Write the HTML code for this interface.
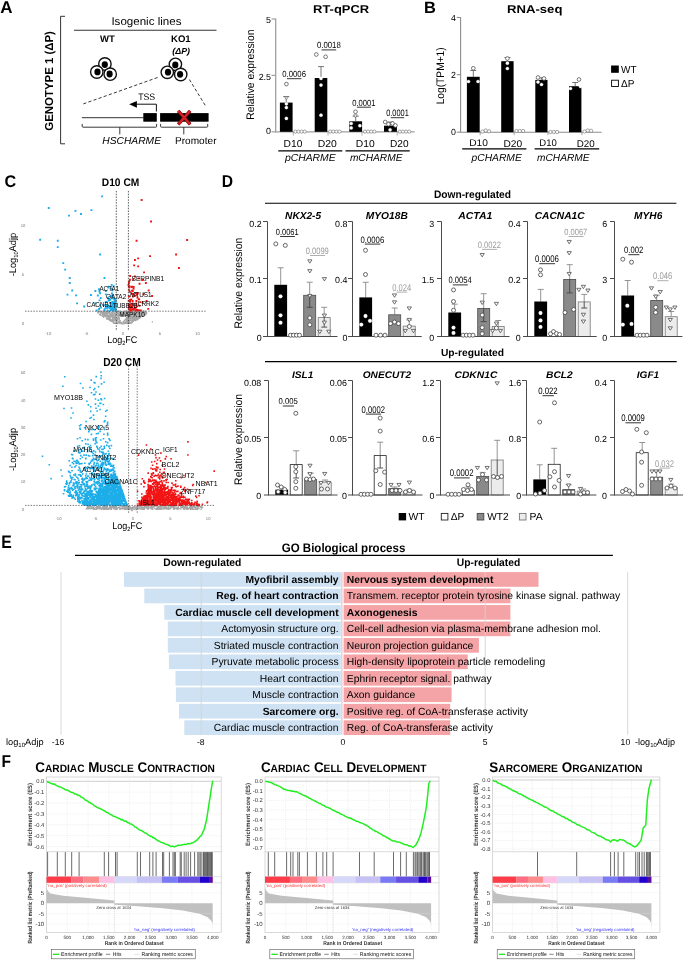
<!DOCTYPE html>
<html><head><meta charset="utf-8"><style>
html,body{margin:0;padding:0;background:#fff;width:685px;height:960px;overflow:hidden}
svg{display:block;font-family:"Liberation Sans",sans-serif;text-rendering:geometricPrecision;filter:blur(0.35px)}
</style></head><body>
<svg width="685" height="960" viewBox="0 0 685 960">
<text x="0.2" y="13.1" font-size="17.04" font-weight="bold" textLength="12.3" lengthAdjust="spacingAndGlyphs">A</text>
<text transform="translate(53.1,80.9) rotate(-90)" x="0" y="0" font-size="11.6" text-anchor="middle" font-weight="bold" textLength="99.6" lengthAdjust="spacingAndGlyphs">GENOTYPE 1 (ΔP)</text>
<path d="M65 16.3H60.6V143.8H65" fill="none" stroke="#333" stroke-width="1"/>
<text x="111.4" y="24.6" font-size="11.14" textLength="70.1" lengthAdjust="spacingAndGlyphs">Isogenic lines</text>
<line x1="74" y1="30.2" x2="216.5" y2="30.2" stroke="#333" stroke-width="1.1"/>
<text x="100" y="42.4" font-size="9.5" font-weight="bold" textLength="14.8" lengthAdjust="spacingAndGlyphs">WT</text>
<text x="171" y="42.4" font-size="9.5" font-weight="bold" textLength="19.7" lengthAdjust="spacingAndGlyphs">KO1</text>
<text x="172.3" y="54.2" font-size="8.8" font-weight="bold" font-style="italic" textLength="17.8" lengthAdjust="spacingAndGlyphs">(Δ<tspan>P</tspan>)</text>
<circle cx="104.9" cy="64" r="6.2" fill="#fff" stroke="#111" stroke-width="1.4"/>
<ellipse cx="104.8" cy="64.6" rx="3.1" ry="3.4" fill="#000"/>
<circle cx="96.8" cy="72" r="6.2" fill="#fff" stroke="#111" stroke-width="1.4"/>
<ellipse cx="97.5" cy="71.9" rx="3.1" ry="3.4" fill="#000"/>
<circle cx="110.2" cy="74.2" r="6.2" fill="#fff" stroke="#111" stroke-width="1.4"/>
<ellipse cx="109.6" cy="74" rx="3.1" ry="3.4" fill="#000"/>
<circle cx="175.4" cy="64.3" r="6.2" fill="#fff" stroke="#111" stroke-width="1.4"/>
<ellipse cx="175.3" cy="64.9" rx="3.1" ry="3.4" fill="#000"/>
<circle cx="167.3" cy="72.3" r="6.2" fill="#fff" stroke="#111" stroke-width="1.4"/>
<ellipse cx="168" cy="72.2" rx="3.1" ry="3.4" fill="#000"/>
<circle cx="180.7" cy="74.5" r="6.2" fill="#fff" stroke="#111" stroke-width="1.4"/>
<ellipse cx="180.1" cy="74.3" rx="3.1" ry="3.4" fill="#000"/>
<line x1="83.3" y1="103.9" x2="159.6" y2="76.8" stroke="#222" stroke-width="0.9" stroke-dasharray="3.2 2.2"/>
<line x1="189.4" y1="79.5" x2="205.3" y2="105.5" stroke="#222" stroke-width="0.9" stroke-dasharray="3.2 2.2"/>
<line x1="81.9" y1="117.7" x2="143.5" y2="117.7" stroke="#333" stroke-width="1"/>
<rect x="143.3" y="113.1" width="13.5" height="8.6" fill="#000"/>
<rect x="160.1" y="113.1" width="48.5" height="8.6" fill="#000"/>
<path d="M156.4 111.5V104.2H136.2" fill="none" stroke="#111" stroke-width="1"/>
<path d="M129.2 104.3L136.9 100.9V107.8Z" fill="#000" stroke="none" stroke-width="1"/>
<text x="138.2" y="100.2" font-size="9.43" textLength="17" lengthAdjust="spacingAndGlyphs">TSS</text>
<path d="M178.2 110.8L190.2 124.4M190.2 110.8L178.2 124.4" fill="none" stroke="#6b0d0d" stroke-width="3.4"/>
<path d="M178.2 110.8L190.2 124.4M190.2 110.8L178.2 124.4" fill="none" stroke="#d61f26" stroke-width="2.2"/>
<path d="M82.2 123.9V126.4Q82.2 127.2 83 127.2H155.8Q156.6 127.2 156.6 126.4V123.9M119.8 127.2V134.4" fill="none" stroke="#222" stroke-width="0.9"/>
<path d="M160.6 123.9V126.4Q160.6 127.2 161.4 127.2H206.9Q207.7 127.2 207.7 126.4V123.9M183.8 127.2V134.4" fill="none" stroke="#222" stroke-width="0.9"/>
<text x="102.3" y="143.6" font-size="10.06" font-style="italic" textLength="58.7" lengthAdjust="spacingAndGlyphs">HSCHARME</text>
<text x="175" y="143.6" font-size="10" textLength="41.5" lengthAdjust="spacingAndGlyphs">Promoter</text>
<text x="313.1" y="13.1" font-size="11.45" font-weight="bold" textLength="56" lengthAdjust="spacingAndGlyphs">RT-qPCR</text>
<line x1="275.7" y1="18.6" x2="275.7" y2="132.4" stroke="#a0a0a0" stroke-width="1.3"/>
<line x1="275.3" y1="131.9" x2="414.7" y2="131.9" stroke="#a0a0a0" stroke-width="1.2"/>
<line x1="271.5" y1="131.8" x2="275.6" y2="131.8" stroke="#a0a0a0" stroke-width="1.2"/>
<text x="271" y="133.7" font-size="8.9" text-anchor="end">0</text>
<line x1="271.5" y1="75.4" x2="275.6" y2="75.4" stroke="#a0a0a0" stroke-width="1.2"/>
<text x="271" y="79.6" font-size="8.9" text-anchor="end">2.5</text>
<line x1="271.5" y1="19" x2="275.6" y2="19" stroke="#a0a0a0" stroke-width="1.2"/>
<text x="271" y="23.2" font-size="8.9" text-anchor="end">5</text>
<text transform="translate(254,74.7) rotate(-90)" x="0" y="0" font-size="10.9" text-anchor="middle" textLength="90.2" lengthAdjust="spacingAndGlyphs">Relative expression</text>
<line x1="293.3" y1="131.8" x2="293.3" y2="135.6" stroke="#a0a0a0" stroke-width="0.8"/>
<line x1="328" y1="131.8" x2="328" y2="135.6" stroke="#a0a0a0" stroke-width="0.8"/>
<line x1="362" y1="131.8" x2="362" y2="135.6" stroke="#a0a0a0" stroke-width="0.8"/>
<line x1="397.2" y1="131.8" x2="397.2" y2="135.6" stroke="#a0a0a0" stroke-width="0.8"/>
<line x1="286.25" y1="102.6" x2="286.25" y2="96.5" stroke="#666" stroke-width="0.9"/>
<line x1="283.25" y1="96.5" x2="289.25" y2="96.5" stroke="#666" stroke-width="0.9"/>
<rect x="279.9" y="102.6" width="12.7" height="29.2" fill="#000"/>
<line x1="321" y1="78" x2="321" y2="66.6" stroke="#666" stroke-width="0.9"/>
<line x1="318" y1="66.6" x2="324" y2="66.6" stroke="#666" stroke-width="0.9"/>
<rect x="314.7" y="78" width="12.6" height="53.8" fill="#000"/>
<line x1="355.7" y1="121.3" x2="355.7" y2="116.2" stroke="#666" stroke-width="0.9"/>
<line x1="352.7" y1="116.2" x2="358.7" y2="116.2" stroke="#666" stroke-width="0.9"/>
<rect x="349.3" y="121.3" width="12.8" height="10.5" fill="#000"/>
<line x1="390.45" y1="125.7" x2="390.45" y2="122" stroke="#666" stroke-width="0.9"/>
<line x1="387.45" y1="122" x2="393.45" y2="122" stroke="#666" stroke-width="0.9"/>
<rect x="384" y="125.7" width="12.9" height="6.1" fill="#000"/>
<circle cx="286.4" cy="103.8" r="1.6" fill="#fff" stroke="#fff" stroke-width="0.3"/>
<circle cx="286.4" cy="107.6" r="1.6" fill="#fff" stroke="#fff" stroke-width="0.3"/>
<circle cx="286.4" cy="118.4" r="1.6" fill="#fff" stroke="#fff" stroke-width="0.3"/>
<circle cx="321" cy="78.4" r="1.6" fill="#fff" stroke="#fff" stroke-width="0.3"/>
<circle cx="321" cy="85.1" r="1.6" fill="#fff" stroke="#fff" stroke-width="0.3"/>
<circle cx="321" cy="115.2" r="1.6" fill="#fff" stroke="#fff" stroke-width="0.3"/>
<circle cx="351.2" cy="123.5" r="1.6" fill="#fff" stroke="#fff" stroke-width="0.3"/>
<circle cx="351.2" cy="127.9" r="1.6" fill="#fff" stroke="#fff" stroke-width="0.3"/>
<circle cx="359.9" cy="125.7" r="1.6" fill="#fff" stroke="#fff" stroke-width="0.3"/>
<circle cx="390.1" cy="129.8" r="1.6" fill="#fff" stroke="#fff" stroke-width="0.3"/>
<circle cx="286.4" cy="84.1" r="1.85" fill="#fff" stroke="#555" stroke-width="0.8"/>
<circle cx="316.3" cy="54.5" r="1.85" fill="#fff" stroke="#555" stroke-width="0.8"/>
<circle cx="325.6" cy="56.8" r="1.85" fill="#fff" stroke="#555" stroke-width="0.8"/>
<circle cx="355.5" cy="111.8" r="1.85" fill="#fff" stroke="#555" stroke-width="0.8"/>
<circle cx="385.2" cy="122" r="1.85" fill="#fff" stroke="#555" stroke-width="0.8"/>
<circle cx="388.4" cy="124.2" r="1.85" fill="#fff" stroke="#555" stroke-width="0.8"/>
<circle cx="392.5" cy="123.5" r="1.85" fill="#fff" stroke="#555" stroke-width="0.8"/>
<circle cx="395.4" cy="125.4" r="1.85" fill="#fff" stroke="#555" stroke-width="0.8"/>
<path d="M284.6 96.85h3.6l-1.8 2.88z" fill="#fff" stroke="#666" stroke-width="0.7"/>
<path d="M353.7 114.85h3.6l-1.8 2.88z" fill="#fff" stroke="#666" stroke-width="0.7"/>
<circle cx="295.4" cy="131.6" r="1.6" fill="#fff" stroke="#777" stroke-width="0.65"/>
<circle cx="298.5" cy="131.6" r="1.6" fill="#fff" stroke="#777" stroke-width="0.65"/>
<circle cx="301.6" cy="131.6" r="1.6" fill="#fff" stroke="#777" stroke-width="0.65"/>
<circle cx="304.7" cy="131.6" r="1.6" fill="#fff" stroke="#777" stroke-width="0.65"/>
<circle cx="330.2" cy="131.6" r="1.6" fill="#fff" stroke="#777" stroke-width="0.65"/>
<circle cx="333.3" cy="131.6" r="1.6" fill="#fff" stroke="#777" stroke-width="0.65"/>
<circle cx="336.4" cy="131.6" r="1.6" fill="#fff" stroke="#777" stroke-width="0.65"/>
<circle cx="339.5" cy="131.6" r="1.6" fill="#fff" stroke="#777" stroke-width="0.65"/>
<circle cx="365" cy="131.6" r="1.6" fill="#fff" stroke="#777" stroke-width="0.65"/>
<circle cx="368.1" cy="131.6" r="1.6" fill="#fff" stroke="#777" stroke-width="0.65"/>
<circle cx="371.2" cy="131.6" r="1.6" fill="#fff" stroke="#777" stroke-width="0.65"/>
<circle cx="374.3" cy="131.6" r="1.6" fill="#fff" stroke="#777" stroke-width="0.65"/>
<circle cx="399.9" cy="131.6" r="1.6" fill="#fff" stroke="#777" stroke-width="0.65"/>
<circle cx="403" cy="131.6" r="1.6" fill="#fff" stroke="#777" stroke-width="0.65"/>
<circle cx="406.1" cy="131.6" r="1.6" fill="#fff" stroke="#777" stroke-width="0.65"/>
<circle cx="409.2" cy="131.6" r="1.6" fill="#fff" stroke="#777" stroke-width="0.65"/>
<text x="282.3" y="77" font-size="8.83" textLength="23.7" lengthAdjust="spacingAndGlyphs">0.0006</text>
<line x1="286.9" y1="78.7" x2="301.4" y2="78.7" stroke="#000" stroke-width="0.8"/>
<text x="316.9" y="48.2" font-size="8.99" textLength="23.9" lengthAdjust="spacingAndGlyphs">0.0018</text>
<line x1="321.5" y1="49.9" x2="336.2" y2="49.9" stroke="#000" stroke-width="0.8"/>
<text x="352.2" y="105.5" font-size="8.99" textLength="23.3" lengthAdjust="spacingAndGlyphs">0.0001</text>
<line x1="356.8" y1="107.2" x2="370.9" y2="107.2" stroke="#000" stroke-width="0.8"/>
<text x="386.2" y="116" font-size="9.33" textLength="22.6" lengthAdjust="spacingAndGlyphs">0.0001</text>
<line x1="390.8" y1="117.7" x2="404.2" y2="117.7" stroke="#000" stroke-width="0.8"/>
<text x="283.6" y="146.8" font-size="10.06" textLength="18.8" lengthAdjust="spacingAndGlyphs">D10</text>
<text x="317.7" y="146.8" font-size="10.06" textLength="19.1" lengthAdjust="spacingAndGlyphs">D20</text>
<text x="355.8" y="146.8" font-size="10.06" textLength="18.9" lengthAdjust="spacingAndGlyphs">D10</text>
<text x="390" y="146.8" font-size="10.06" textLength="18.6" lengthAdjust="spacingAndGlyphs">D20</text>
<line x1="278.3" y1="150.8" x2="342.3" y2="150.8" stroke="#000" stroke-width="1.3"/>
<line x1="345.5" y1="150.8" x2="409.7" y2="150.8" stroke="#000" stroke-width="1.3"/>
<text x="284.9" y="161.4" font-size="10.2" font-style="italic" textLength="50.8" lengthAdjust="spacingAndGlyphs">pCHARME</text>
<text x="349.9" y="161.4" font-size="10.2" font-style="italic" textLength="52.6" lengthAdjust="spacingAndGlyphs">mCHARME</text>
<text x="423.9" y="12.6" font-size="16.2" font-weight="bold" textLength="11.9" lengthAdjust="spacingAndGlyphs">B</text>
<text x="507" y="13.4" font-size="11.45" font-weight="bold" textLength="55.4" lengthAdjust="spacingAndGlyphs">RNA-seq</text>
<line x1="460.6" y1="17.2" x2="460.6" y2="132.6" stroke="#8c8c8c" stroke-width="1.1"/>
<line x1="460.6" y1="132.2" x2="601.6" y2="132.2" stroke="#8c8c8c" stroke-width="1.1"/>
<line x1="456.8" y1="132.2" x2="460.6" y2="132.2" stroke="#8c8c8c" stroke-width="1.1"/>
<text x="456" y="135.4" font-size="8.8" text-anchor="end">0</text>
<line x1="456.8" y1="74.7" x2="460.6" y2="74.7" stroke="#8c8c8c" stroke-width="1.1"/>
<text x="456" y="77.9" font-size="8.8" text-anchor="end">2</text>
<line x1="456.8" y1="17.5" x2="460.6" y2="17.5" stroke="#8c8c8c" stroke-width="1.1"/>
<text x="456" y="20.7" font-size="8.8" text-anchor="end">4</text>
<text transform="translate(444,75.8) rotate(-90)" x="0" y="0" font-size="10.9" text-anchor="middle" textLength="57" lengthAdjust="spacingAndGlyphs">Log(TPM+1)</text>
<line x1="473.3" y1="76.8" x2="473.3" y2="70.5" stroke="#666" stroke-width="0.9"/>
<line x1="470.3" y1="70.5" x2="476.3" y2="70.5" stroke="#666" stroke-width="0.9"/>
<rect x="466.9" y="76.8" width="12.8" height="55.4" fill="#000"/>
<line x1="480.2" y1="132.2" x2="480.2" y2="135.2" stroke="#8c8c8c" stroke-width="0.8"/>
<line x1="507.4" y1="61.2" x2="507.4" y2="57.5" stroke="#666" stroke-width="0.9"/>
<line x1="504.4" y1="57.5" x2="510.4" y2="57.5" stroke="#666" stroke-width="0.9"/>
<rect x="501.2" y="61.2" width="12.4" height="71" fill="#000"/>
<line x1="514.1" y1="132.2" x2="514.1" y2="135.2" stroke="#8c8c8c" stroke-width="0.8"/>
<line x1="541.4" y1="79.9" x2="541.4" y2="77.8" stroke="#666" stroke-width="0.9"/>
<line x1="538.4" y1="77.8" x2="544.4" y2="77.8" stroke="#666" stroke-width="0.9"/>
<rect x="535.3" y="79.9" width="12.2" height="52.3" fill="#000"/>
<line x1="548" y1="132.2" x2="548" y2="135.2" stroke="#8c8c8c" stroke-width="0.8"/>
<line x1="575.2" y1="86.2" x2="575.2" y2="82.5" stroke="#666" stroke-width="0.9"/>
<line x1="572.2" y1="82.5" x2="578.2" y2="82.5" stroke="#666" stroke-width="0.9"/>
<rect x="569" y="86.2" width="12.4" height="46" fill="#000"/>
<line x1="581.9" y1="132.2" x2="581.9" y2="135.2" stroke="#8c8c8c" stroke-width="0.8"/>
<circle cx="468.5" cy="81.5" r="1.6" fill="#fff" stroke="#fff" stroke-width="0.3"/>
<circle cx="478" cy="81.5" r="1.6" fill="#fff" stroke="#fff" stroke-width="0.3"/>
<circle cx="507.4" cy="63.2" r="1.6" fill="#fff" stroke="#fff" stroke-width="0.3"/>
<circle cx="507.4" cy="68.5" r="1.6" fill="#fff" stroke="#fff" stroke-width="0.3"/>
<circle cx="538" cy="82" r="1.6" fill="#fff" stroke="#fff" stroke-width="0.3"/>
<circle cx="541.5" cy="84.5" r="1.6" fill="#fff" stroke="#fff" stroke-width="0.3"/>
<circle cx="570.5" cy="88.5" r="1.6" fill="#fff" stroke="#fff" stroke-width="0.3"/>
<circle cx="580.5" cy="86.5" r="1.6" fill="#fff" stroke="#fff" stroke-width="0.3"/>
<circle cx="473.3" cy="68.3" r="1.85" fill="#fff" stroke="#555" stroke-width="0.8"/>
<circle cx="507.4" cy="58.5" r="1.85" fill="#fff" stroke="#555" stroke-width="0.8"/>
<circle cx="538" cy="77.5" r="1.85" fill="#fff" stroke="#555" stroke-width="0.8"/>
<circle cx="544" cy="78.5" r="1.85" fill="#fff" stroke="#555" stroke-width="0.8"/>
<circle cx="579" cy="79.5" r="1.85" fill="#fff" stroke="#555" stroke-width="0.8"/>
<circle cx="482.5" cy="131.5" r="1.65" fill="#fff" stroke="#777" stroke-width="0.65"/>
<circle cx="485.8" cy="130.5" r="1.65" fill="#fff" stroke="#777" stroke-width="0.65"/>
<circle cx="489.1" cy="131.3" r="1.65" fill="#fff" stroke="#777" stroke-width="0.65"/>
<circle cx="516.5" cy="131" r="1.65" fill="#fff" stroke="#777" stroke-width="0.65"/>
<circle cx="519.8" cy="131" r="1.65" fill="#fff" stroke="#777" stroke-width="0.65"/>
<circle cx="523.1" cy="131" r="1.65" fill="#fff" stroke="#777" stroke-width="0.65"/>
<circle cx="550.5" cy="132" r="1.65" fill="#fff" stroke="#777" stroke-width="0.65"/>
<circle cx="553.8" cy="132" r="1.65" fill="#fff" stroke="#777" stroke-width="0.65"/>
<circle cx="557.1" cy="132" r="1.65" fill="#fff" stroke="#777" stroke-width="0.65"/>
<circle cx="584.5" cy="131.5" r="1.65" fill="#fff" stroke="#777" stroke-width="0.65"/>
<circle cx="587.8" cy="130.5" r="1.65" fill="#fff" stroke="#777" stroke-width="0.65"/>
<circle cx="591.1" cy="130.8" r="1.65" fill="#fff" stroke="#777" stroke-width="0.65"/>
<text x="469.2" y="146.3" font-size="9.64" textLength="18.7" lengthAdjust="spacingAndGlyphs">D10</text>
<text x="503.5" y="147.2" font-size="9.78" textLength="18.7" lengthAdjust="spacingAndGlyphs">D20</text>
<text x="539.3" y="146.3" font-size="9.64" textLength="17.5" lengthAdjust="spacingAndGlyphs">D10</text>
<text x="576.7" y="147.2" font-size="9.78" textLength="18" lengthAdjust="spacingAndGlyphs">D20</text>
<line x1="462.2" y1="148.9" x2="526.4" y2="148.9" stroke="#000" stroke-width="1.3"/>
<line x1="534.6" y1="148.9" x2="599.2" y2="148.9" stroke="#000" stroke-width="1.3"/>
<text x="471.5" y="160.6" font-size="10.2" font-style="italic" textLength="50.3" lengthAdjust="spacingAndGlyphs">pCHARME</text>
<text x="537" y="160.6" font-size="10.2" font-style="italic" textLength="52.5" lengthAdjust="spacingAndGlyphs">mCHARME</text>
<rect x="611.1" y="65.5" width="7.7" height="7.3" fill="#000"/>
<text x="621.1" y="72.8" font-size="10.34" textLength="15.5" lengthAdjust="spacingAndGlyphs">WT</text>
<rect x="611.6" y="80.2" width="6.8" height="6.3" fill="#fff" stroke="#000" stroke-width="0.9"/>
<text x="621.1" y="86.7" font-size="10.06" textLength="13.4" lengthAdjust="spacingAndGlyphs">ΔP</text>
<text x="4.5" y="186.7" font-size="16.9" font-weight="bold" textLength="11.7" lengthAdjust="spacingAndGlyphs">C</text>
<text x="101.8" y="185.6" font-size="11.03" font-weight="bold" textLength="37.5" lengthAdjust="spacingAndGlyphs">D10 CM</text>
<path d="M103.0 316.5h1.3v1.3h-1.3zM141.3 310.7h1.3v1.3h-1.3zM132.5 318.0h1.3v1.3h-1.3zM103.3 312.7h1.3v1.3h-1.3zM133.1 315.8h1.3v1.3h-1.3zM135.9 313.8h1.3v1.3h-1.3zM116.6 321.2h1.3v1.3h-1.3zM151.7 321.2h1.3v1.3h-1.3zM131.0 320.2h1.3v1.3h-1.3zM139.1 311.0h1.3v1.3h-1.3zM131.9 311.0h1.3v1.3h-1.3zM142.0 313.6h1.3v1.3h-1.3zM104.6 314.9h1.3v1.3h-1.3zM104.8 313.0h1.3v1.3h-1.3zM112.1 313.5h1.3v1.3h-1.3zM129.2 314.6h1.3v1.3h-1.3zM145.9 311.9h1.3v1.3h-1.3zM129.4 315.3h1.3v1.3h-1.3zM135.7 312.9h1.3v1.3h-1.3zM128.9 313.5h1.3v1.3h-1.3zM126.6 321.3h1.3v1.3h-1.3zM127.4 311.2h1.3v1.3h-1.3zM134.9 317.5h1.3v1.3h-1.3zM131.4 316.1h1.3v1.3h-1.3zM125.8 319.7h1.3v1.3h-1.3zM130.7 314.7h1.3v1.3h-1.3zM129.7 310.5h1.3v1.3h-1.3zM115.8 319.6h1.3v1.3h-1.3zM119.1 321.1h1.3v1.3h-1.3zM121.7 312.6h1.3v1.3h-1.3zM134.1 312.2h1.3v1.3h-1.3zM103.9 315.4h1.3v1.3h-1.3zM128.1 313.8h1.3v1.3h-1.3zM122.6 321.1h1.3v1.3h-1.3zM102.0 315.7h1.3v1.3h-1.3zM104.8 315.1h1.3v1.3h-1.3zM122.5 313.8h1.3v1.3h-1.3zM136.0 317.3h1.3v1.3h-1.3zM106.3 311.3h1.3v1.3h-1.3zM131.0 315.6h1.3v1.3h-1.3zM134.5 312.1h1.3v1.3h-1.3zM136.3 311.9h1.3v1.3h-1.3zM113.1 319.1h1.3v1.3h-1.3zM130.1 319.9h1.3v1.3h-1.3zM115.1 317.3h1.3v1.3h-1.3zM132.4 312.2h1.3v1.3h-1.3zM113.3 310.5h1.3v1.3h-1.3zM126.0 320.1h1.3v1.3h-1.3zM141.7 311.8h1.3v1.3h-1.3zM141.0 311.3h1.3v1.3h-1.3zM123.9 319.5h1.3v1.3h-1.3zM124.5 313.4h1.3v1.3h-1.3zM131.6 316.7h1.3v1.3h-1.3zM126.6 313.7h1.3v1.3h-1.3zM127.4 312.2h1.3v1.3h-1.3zM117.4 322.7h1.3v1.3h-1.3zM108.3 316.0h1.3v1.3h-1.3zM118.7 320.8h1.3v1.3h-1.3zM121.4 313.8h1.3v1.3h-1.3zM130.3 322.3h1.3v1.3h-1.3zM113.7 318.0h1.3v1.3h-1.3zM137.4 311.1h1.3v1.3h-1.3zM107.1 312.1h1.3v1.3h-1.3zM118.9 314.6h1.3v1.3h-1.3zM124.7 311.6h1.3v1.3h-1.3zM131.1 318.3h1.3v1.3h-1.3zM137.1 313.0h1.3v1.3h-1.3zM134.5 312.0h1.3v1.3h-1.3zM103.0 312.2h1.3v1.3h-1.3zM139.5 313.9h1.3v1.3h-1.3zM102.8 315.7h1.3v1.3h-1.3zM116.9 312.1h1.3v1.3h-1.3zM131.0 315.0h1.3v1.3h-1.3zM123.1 323.1h1.3v1.3h-1.3zM131.6 318.1h1.3v1.3h-1.3zM132.9 317.3h1.3v1.3h-1.3zM107.5 315.0h1.3v1.3h-1.3zM103.7 314.6h1.3v1.3h-1.3zM123.3 322.9h1.3v1.3h-1.3zM121.1 311.7h1.3v1.3h-1.3zM117.9 316.7h1.3v1.3h-1.3zM114.4 313.4h1.3v1.3h-1.3zM126.7 313.3h1.3v1.3h-1.3zM115.9 321.9h1.3v1.3h-1.3zM121.4 323.0h1.3v1.3h-1.3zM124.3 322.5h1.3v1.3h-1.3zM120.9 323.1h1.3v1.3h-1.3zM129.4 311.0h1.3v1.3h-1.3zM120.1 312.2h1.3v1.3h-1.3zM124.6 311.1h1.3v1.3h-1.3zM133.4 315.7h1.3v1.3h-1.3zM128.0 315.2h1.3v1.3h-1.3zM137.6 312.7h1.3v1.3h-1.3zM114.0 313.2h1.3v1.3h-1.3zM126.9 317.6h1.3v1.3h-1.3zM138.8 312.0h1.3v1.3h-1.3zM118.1 318.1h1.3v1.3h-1.3zM125.5 310.4h1.3v1.3h-1.3zM134.0 317.1h1.3v1.3h-1.3zM114.9 316.0h1.3v1.3h-1.3zM113.0 319.8h1.3v1.3h-1.3zM130.6 320.1h1.3v1.3h-1.3zM118.1 313.0h1.3v1.3h-1.3zM111.8 317.0h1.3v1.3h-1.3zM134.5 313.5h1.3v1.3h-1.3zM135.1 313.3h1.3v1.3h-1.3zM113.9 319.5h1.3v1.3h-1.3zM118.9 320.6h1.3v1.3h-1.3zM111.4 314.9h1.3v1.3h-1.3zM114.4 314.4h1.3v1.3h-1.3zM115.8 312.1h1.3v1.3h-1.3zM126.8 311.8h1.3v1.3h-1.3zM106.8 312.4h1.3v1.3h-1.3zM124.2 320.1h1.3v1.3h-1.3zM117.8 311.4h1.3v1.3h-1.3zM104.2 315.3h1.3v1.3h-1.3zM128.1 322.1h1.3v1.3h-1.3zM98.2 311.9h1.3v1.3h-1.3zM105.5 311.9h1.3v1.3h-1.3zM125.9 320.8h1.3v1.3h-1.3zM121.8 312.4h1.3v1.3h-1.3zM101.3 311.5h1.3v1.3h-1.3zM125.0 311.5h1.3v1.3h-1.3zM143.1 310.5h1.3v1.3h-1.3zM136.5 310.7h1.3v1.3h-1.3zM120.9 322.7h1.3v1.3h-1.3zM145.4 313.6h1.3v1.3h-1.3zM117.6 322.2h1.3v1.3h-1.3zM143.4 312.3h1.3v1.3h-1.3zM124.5 311.6h1.3v1.3h-1.3zM111.0 313.7h1.3v1.3h-1.3zM110.6 315.9h1.3v1.3h-1.3zM114.0 319.0h1.3v1.3h-1.3zM115.1 319.3h1.3v1.3h-1.3zM126.9 315.8h1.3v1.3h-1.3zM130.2 313.4h1.3v1.3h-1.3zM125.4 313.5h1.3v1.3h-1.3zM116.1 318.7h1.3v1.3h-1.3zM112.2 320.9h1.3v1.3h-1.3zM100.2 310.7h1.3v1.3h-1.3zM136.0 311.9h1.3v1.3h-1.3zM105.6 311.5h1.3v1.3h-1.3zM117.0 310.4h1.3v1.3h-1.3zM112.2 315.1h1.3v1.3h-1.3zM132.3 310.8h1.3v1.3h-1.3zM123.4 320.4h1.3v1.3h-1.3zM129.9 311.6h1.3v1.3h-1.3zM122.9 311.3h1.3v1.3h-1.3zM144.0 312.1h1.3v1.3h-1.3zM130.9 312.1h1.3v1.3h-1.3zM106.8 317.4h1.3v1.3h-1.3zM126.7 317.2h1.3v1.3h-1.3zM129.2 311.1h1.3v1.3h-1.3zM127.5 321.0h1.3v1.3h-1.3zM125.9 310.4h1.3v1.3h-1.3zM132.8 313.7h1.3v1.3h-1.3zM137.8 314.7h1.3v1.3h-1.3zM120.8 311.4h1.3v1.3h-1.3zM127.2 311.8h1.3v1.3h-1.3zM108.0 317.3h1.3v1.3h-1.3zM121.0 315.1h1.3v1.3h-1.3zM134.8 320.0h1.3v1.3h-1.3zM127.0 322.0h1.3v1.3h-1.3zM138.7 313.6h1.3v1.3h-1.3zM123.0 314.9h1.3v1.3h-1.3zM135.1 316.7h1.3v1.3h-1.3zM110.6 314.9h1.3v1.3h-1.3zM142.1 312.5h1.3v1.3h-1.3zM127.1 322.0h1.3v1.3h-1.3zM141.3 311.1h1.3v1.3h-1.3zM110.2 313.9h1.3v1.3h-1.3zM113.8 317.5h1.3v1.3h-1.3zM121.1 312.2h1.3v1.3h-1.3zM144.1 314.3h1.3v1.3h-1.3zM137.1 313.7h1.3v1.3h-1.3zM136.1 312.1h1.3v1.3h-1.3zM114.8 318.6h1.3v1.3h-1.3zM128.5 312.6h1.3v1.3h-1.3zM109.3 319.9h1.3v1.3h-1.3zM108.9 317.0h1.3v1.3h-1.3zM126.4 318.4h1.3v1.3h-1.3zM132.8 320.3h1.3v1.3h-1.3zM123.2 321.2h1.3v1.3h-1.3zM124.1 322.7h1.3v1.3h-1.3zM140.5 311.7h1.3v1.3h-1.3zM106.2 315.5h1.3v1.3h-1.3zM122.2 312.4h1.3v1.3h-1.3zM136.4 317.4h1.3v1.3h-1.3zM102.7 311.5h1.3v1.3h-1.3zM141.2 312.7h1.3v1.3h-1.3zM130.5 316.7h1.3v1.3h-1.3zM128.4 310.6h1.3v1.3h-1.3zM102.2 312.9h1.3v1.3h-1.3zM100.3 314.9h1.3v1.3h-1.3zM118.1 310.4h1.3v1.3h-1.3zM105.8 312.9h1.3v1.3h-1.3zM106.6 315.8h1.3v1.3h-1.3zM104.9 314.2h1.3v1.3h-1.3zM126.0 311.6h1.3v1.3h-1.3zM104.9 315.9h1.3v1.3h-1.3zM145.7 312.2h1.3v1.3h-1.3zM107.9 314.9h1.3v1.3h-1.3zM136.4 313.1h1.3v1.3h-1.3zM139.9 316.6h1.3v1.3h-1.3zM116.2 312.7h1.3v1.3h-1.3zM111.0 315.3h1.3v1.3h-1.3zM137.1 318.7h1.3v1.3h-1.3zM104.3 313.3h1.3v1.3h-1.3zM116.9 314.8h1.3v1.3h-1.3zM105.6 313.4h1.3v1.3h-1.3zM131.1 317.3h1.3v1.3h-1.3zM106.1 318.2h1.3v1.3h-1.3zM118.3 314.8h1.3v1.3h-1.3zM115.5 313.9h1.3v1.3h-1.3zM109.0 311.6h1.3v1.3h-1.3zM121.3 311.7h1.3v1.3h-1.3zM106.5 310.7h1.3v1.3h-1.3zM118.0 311.5h1.3v1.3h-1.3zM135.5 317.1h1.3v1.3h-1.3zM111.9 312.9h1.3v1.3h-1.3zM113.2 321.8h1.3v1.3h-1.3zM107.8 318.7h1.3v1.3h-1.3zM114.2 317.4h1.3v1.3h-1.3zM117.2 315.2h1.3v1.3h-1.3zM123.3 313.7h1.3v1.3h-1.3zM106.4 316.3h1.3v1.3h-1.3zM125.9 318.1h1.3v1.3h-1.3zM113.2 321.8h1.3v1.3h-1.3zM136.5 319.1h1.3v1.3h-1.3zM130.5 316.2h1.3v1.3h-1.3zM114.6 313.3h1.3v1.3h-1.3zM125.0 312.7h1.3v1.3h-1.3zM111.8 311.8h1.3v1.3h-1.3zM119.8 320.2h1.3v1.3h-1.3zM141.5 314.8h1.3v1.3h-1.3zM112.4 320.0h1.3v1.3h-1.3zM135.9 318.1h1.3v1.3h-1.3zM141.8 311.1h1.3v1.3h-1.3zM133.5 312.6h1.3v1.3h-1.3zM117.8 318.2h1.3v1.3h-1.3zM136.3 311.0h1.3v1.3h-1.3zM98.9 314.0h1.3v1.3h-1.3zM110.8 320.6h1.3v1.3h-1.3zM109.2 314.8h1.3v1.3h-1.3zM135.1 317.0h1.3v1.3h-1.3zM100.6 311.8h1.3v1.3h-1.3zM98.9 313.9h1.3v1.3h-1.3zM127.0 311.4h1.3v1.3h-1.3zM108.6 312.5h1.3v1.3h-1.3zM114.4 313.0h1.3v1.3h-1.3zM121.9 315.2h1.3v1.3h-1.3zM132.7 318.1h1.3v1.3h-1.3zM119.3 321.0h1.3v1.3h-1.3zM98.8 310.4h1.3v1.3h-1.3zM138.8 313.7h1.3v1.3h-1.3zM116.7 319.2h1.3v1.3h-1.3zM105.7 314.8h1.3v1.3h-1.3zM132.7 320.7h1.3v1.3h-1.3zM131.5 314.3h1.3v1.3h-1.3zM112.4 319.7h1.3v1.3h-1.3zM138.2 317.0h1.3v1.3h-1.3zM102.5 310.8h1.3v1.3h-1.3zM113.4 315.4h1.3v1.3h-1.3zM123.0 315.0h1.3v1.3h-1.3zM125.2 322.7h1.3v1.3h-1.3zM135.8 311.8h1.3v1.3h-1.3zM131.9 312.3h1.3v1.3h-1.3zM133.3 315.2h1.3v1.3h-1.3zM105.8 317.8h1.3v1.3h-1.3zM122.3 312.6h1.3v1.3h-1.3zM125.1 321.5h1.3v1.3h-1.3zM109.0 318.4h1.3v1.3h-1.3zM126.3 320.4h1.3v1.3h-1.3zM139.9 317.0h1.3v1.3h-1.3zM141.5 311.5h1.3v1.3h-1.3zM102.8 314.8h1.3v1.3h-1.3zM130.2 322.0h1.3v1.3h-1.3zM133.5 315.4h1.3v1.3h-1.3zM112.7 313.8h1.3v1.3h-1.3zM108.9 317.8h1.3v1.3h-1.3zM102.7 311.1h1.3v1.3h-1.3zM120.7 311.2h1.3v1.3h-1.3zM137.7 314.4h1.3v1.3h-1.3zM117.1 311.4h1.3v1.3h-1.3zM118.1 320.8h1.3v1.3h-1.3zM113.2 319.2h1.3v1.3h-1.3zM127.8 313.3h1.3v1.3h-1.3zM120.0 322.4h1.3v1.3h-1.3zM138.2 317.8h1.3v1.3h-1.3zM119.1 322.7h1.3v1.3h-1.3zM135.1 318.8h1.3v1.3h-1.3zM117.3 311.2h1.3v1.3h-1.3zM107.2 315.2h1.3v1.3h-1.3zM125.7 310.7h1.3v1.3h-1.3zM136.9 318.7h1.3v1.3h-1.3zM131.2 315.9h1.3v1.3h-1.3zM120.6 313.8h1.3v1.3h-1.3zM104.5 314.5h1.3v1.3h-1.3zM116.2 319.7h1.3v1.3h-1.3zM138.1 312.9h1.3v1.3h-1.3zM113.5 316.9h1.3v1.3h-1.3zM123.3 311.1h1.3v1.3h-1.3zM99.5 310.6h1.3v1.3h-1.3zM109.9 320.2h1.3v1.3h-1.3zM144.9 310.8h1.3v1.3h-1.3zM117.0 317.9h1.3v1.3h-1.3zM136.2 311.5h1.3v1.3h-1.3zM107.8 310.9h1.3v1.3h-1.3zM112.1 316.2h1.3v1.3h-1.3zM122.9 322.0h1.3v1.3h-1.3zM110.2 319.7h1.3v1.3h-1.3zM114.5 315.4h1.3v1.3h-1.3zM113.9 315.4h1.3v1.3h-1.3zM105.4 310.7h1.3v1.3h-1.3zM111.2 316.1h1.3v1.3h-1.3zM138.6 316.2h1.3v1.3h-1.3zM117.0 322.9h1.3v1.3h-1.3zM128.7 322.8h1.3v1.3h-1.3zM129.0 314.5h1.3v1.3h-1.3zM129.7 317.6h1.3v1.3h-1.3zM143.7 313.9h1.3v1.3h-1.3zM130.7 317.1h1.3v1.3h-1.3zM138.8 317.5h1.3v1.3h-1.3zM137.8 315.2h1.3v1.3h-1.3zM140.6 315.5h1.3v1.3h-1.3zM115.2 315.6h1.3v1.3h-1.3zM98.8 313.8h1.3v1.3h-1.3zM133.3 317.0h1.3v1.3h-1.3zM126.6 322.3h1.3v1.3h-1.3zM117.5 316.9h1.3v1.3h-1.3zM134.8 314.8h1.3v1.3h-1.3zM128.3 312.2h1.3v1.3h-1.3zM101.7 314.2h1.3v1.3h-1.3zM124.1 314.8h1.3v1.3h-1.3zM144.4 314.4h1.3v1.3h-1.3zM121.6 323.1h1.3v1.3h-1.3zM135.3 312.6h1.3v1.3h-1.3zM137.4 317.4h1.3v1.3h-1.3zM136.5 315.4h1.3v1.3h-1.3zM126.6 323.0h1.3v1.3h-1.3zM138.8 310.8h1.3v1.3h-1.3zM127.1 317.1h1.3v1.3h-1.3zM142.1 310.7h1.3v1.3h-1.3zM105.1 312.1h1.3v1.3h-1.3zM129.8 311.0h1.3v1.3h-1.3zM128.0 321.9h1.3v1.3h-1.3zM136.6 313.4h1.3v1.3h-1.3zM137.1 313.1h1.3v1.3h-1.3zM109.8 312.9h1.3v1.3h-1.3zM121.9 313.2h1.3v1.3h-1.3zM108.8 316.5h1.3v1.3h-1.3zM129.7 317.0h1.3v1.3h-1.3zM125.0 318.6h1.3v1.3h-1.3zM140.2 313.0h1.3v1.3h-1.3zM106.1 315.7h1.3v1.3h-1.3zM127.0 314.2h1.3v1.3h-1.3zM132.8 310.4h1.3v1.3h-1.3zM124.2 310.4h1.3v1.3h-1.3zM122.8 312.1h1.3v1.3h-1.3zM117.6 316.2h1.3v1.3h-1.3zM126.7 311.2h1.3v1.3h-1.3zM112.5 319.2h1.3v1.3h-1.3zM130.0 317.9h1.3v1.3h-1.3zM127.9 320.0h1.3v1.3h-1.3zM112.5 314.2h1.3v1.3h-1.3zM139.9 313.0h1.3v1.3h-1.3zM124.5 314.0h1.3v1.3h-1.3zM120.0 312.6h1.3v1.3h-1.3zM102.4 311.4h1.3v1.3h-1.3zM106.4 318.5h1.3v1.3h-1.3zM124.3 312.9h1.3v1.3h-1.3zM103.0 312.6h1.3v1.3h-1.3zM112.1 319.5h1.3v1.3h-1.3zM139.4 312.8h1.3v1.3h-1.3zM115.7 311.2h1.3v1.3h-1.3zM140.6 314.1h1.3v1.3h-1.3zM115.3 313.4h1.3v1.3h-1.3zM138.1 316.0h1.3v1.3h-1.3zM103.5 311.2h1.3v1.3h-1.3zM119.9 314.6h1.3v1.3h-1.3zM103.0 314.2h1.3v1.3h-1.3zM110.7 311.9h1.3v1.3h-1.3zM139.4 316.7h1.3v1.3h-1.3zM110.8 320.0h1.3v1.3h-1.3zM123.1 311.6h1.3v1.3h-1.3zM127.2 313.5h1.3v1.3h-1.3zM139.4 315.0h1.3v1.3h-1.3zM101.6 311.8h1.3v1.3h-1.3zM120.7 311.9h1.3v1.3h-1.3zM130.3 314.5h1.3v1.3h-1.3zM130.7 313.8h1.3v1.3h-1.3zM123.4 323.1h1.3v1.3h-1.3zM128.1 311.6h1.3v1.3h-1.3zM109.2 310.7h1.3v1.3h-1.3zM113.2 317.2h1.3v1.3h-1.3zM127.5 318.2h1.3v1.3h-1.3zM119.2 310.5h1.3v1.3h-1.3zM118.2 317.1h1.3v1.3h-1.3zM103.7 312.4h1.3v1.3h-1.3zM142.7 313.6h1.3v1.3h-1.3zM113.0 320.4h1.3v1.3h-1.3zM127.2 322.6h1.3v1.3h-1.3zM122.3 314.7h1.3v1.3h-1.3zM135.1 316.6h1.3v1.3h-1.3zM108.5 312.0h1.3v1.3h-1.3zM140.1 314.0h1.3v1.3h-1.3zM138.3 312.8h1.3v1.3h-1.3zM127.9 312.7h1.3v1.3h-1.3zM124.5 322.6h1.3v1.3h-1.3zM117.5 315.0h1.3v1.3h-1.3zM121.2 322.8h1.3v1.3h-1.3zM118.6 318.9h1.3v1.3h-1.3zM126.3 318.3h1.3v1.3h-1.3zM126.1 313.2h1.3v1.3h-1.3zM137.1 313.8h1.3v1.3h-1.3zM132.2 319.2h1.3v1.3h-1.3zM118.6 310.8h1.3v1.3h-1.3zM118.9 311.1h1.3v1.3h-1.3zM127.5 319.8h1.3v1.3h-1.3zM132.3 318.9h1.3v1.3h-1.3zM117.2 314.9h1.3v1.3h-1.3zM119.6 314.5h1.3v1.3h-1.3zM119.9 313.8h1.3v1.3h-1.3zM117.3 313.6h1.3v1.3h-1.3zM120.0 314.6h1.3v1.3h-1.3zM133.6 319.7h1.3v1.3h-1.3zM133.5 315.4h1.3v1.3h-1.3zM107.7 317.9h1.3v1.3h-1.3zM128.5 319.3h1.3v1.3h-1.3zM138.4 317.5h1.3v1.3h-1.3zM135.8 317.2h1.3v1.3h-1.3zM108.6 317.3h1.3v1.3h-1.3zM122.5 311.7h1.3v1.3h-1.3zM142.1 315.2h1.3v1.3h-1.3zM129.5 315.8h1.3v1.3h-1.3zM113.6 320.0h1.3v1.3h-1.3zM110.3 319.0h1.3v1.3h-1.3zM143.5 314.7h1.3v1.3h-1.3zM113.9 316.9h1.3v1.3h-1.3zM114.9 318.6h1.3v1.3h-1.3zM107.1 311.8h1.3v1.3h-1.3zM108.0 316.2h1.3v1.3h-1.3zM112.6 321.6h1.3v1.3h-1.3zM121.2 313.7h1.3v1.3h-1.3zM112.8 315.5h1.3v1.3h-1.3zM102.1 314.3h1.3v1.3h-1.3zM105.6 314.4h1.3v1.3h-1.3zM128.1 310.7h1.3v1.3h-1.3zM108.5 318.7h1.3v1.3h-1.3zM111.7 315.9h1.3v1.3h-1.3zM126.7 314.3h1.3v1.3h-1.3zM107.0 313.4h1.3v1.3h-1.3zM108.3 310.9h1.3v1.3h-1.3zM132.9 319.0h1.3v1.3h-1.3zM117.4 314.8h1.3v1.3h-1.3zM134.4 319.0h1.3v1.3h-1.3zM120.0 314.9h1.3v1.3h-1.3zM144.0 310.4h1.3v1.3h-1.3zM131.6 310.9h1.3v1.3h-1.3zM128.6 317.5h1.3v1.3h-1.3zM120.6 322.0h1.3v1.3h-1.3zM105.0 315.6h1.3v1.3h-1.3zM112.6 317.4h1.3v1.3h-1.3zM104.9 310.4h1.3v1.3h-1.3zM100.2 312.2h1.3v1.3h-1.3zM111.6 313.0h1.3v1.3h-1.3zM115.5 320.9h1.3v1.3h-1.3zM136.4 311.9h1.3v1.3h-1.3zM103.1 312.7h1.3v1.3h-1.3zM133.5 318.1h1.3v1.3h-1.3zM136.5 316.3h1.3v1.3h-1.3zM122.3 314.7h1.3v1.3h-1.3zM114.7 314.0h1.3v1.3h-1.3zM128.7 322.2h1.3v1.3h-1.3zM126.9 312.7h1.3v1.3h-1.3zM137.0 310.4h1.3v1.3h-1.3zM143.3 311.4h1.3v1.3h-1.3zM115.4 310.6h1.3v1.3h-1.3zM103.4 310.9h1.3v1.3h-1.3zM131.7 311.7h1.3v1.3h-1.3zM125.1 314.6h1.3v1.3h-1.3zM127.1 316.5h1.3v1.3h-1.3zM103.5 314.1h1.3v1.3h-1.3zM125.5 322.5h1.3v1.3h-1.3zM115.5 319.3h1.3v1.3h-1.3zM109.3 313.4h1.3v1.3h-1.3zM103.0 314.9h1.3v1.3h-1.3zM129.5 322.8h1.3v1.3h-1.3zM100.4 315.0h1.3v1.3h-1.3zM131.0 313.3h1.3v1.3h-1.3zM129.6 312.0h1.3v1.3h-1.3zM114.4 319.1h1.3v1.3h-1.3zM144.8 312.1h1.3v1.3h-1.3zM112.7 309.4h1.3v1.3h-1.3zM136.5 312.6h1.3v1.3h-1.3zM117.9 313.8h1.3v1.3h-1.3zM111.1 319.7h1.3v1.3h-1.3zM134.5 311.5h1.3v1.3h-1.3zM124.8 311.1h1.3v1.3h-1.3zM143.3 314.2h1.3v1.3h-1.3zM133.6 319.5h1.3v1.3h-1.3zM126.3 317.5h1.3v1.3h-1.3zM129.2 316.5h1.3v1.3h-1.3zM109.6 315.7h1.3v1.3h-1.3zM142.0 314.9h1.3v1.3h-1.3zM121.8 314.9h1.3v1.3h-1.3zM116.5 310.5h1.3v1.3h-1.3zM100.8 311.4h1.3v1.3h-1.3zM129.3 320.0h1.3v1.3h-1.3zM109.9 314.5h1.3v1.3h-1.3zM121.8 311.2h1.3v1.3h-1.3zM133.9 312.3h1.3v1.3h-1.3zM112.5 311.4h1.3v1.3h-1.3zM121.0 322.0h1.3v1.3h-1.3zM121.0 313.6h1.3v1.3h-1.3zM111.5 319.5h1.3v1.3h-1.3zM145.8 312.8h1.3v1.3h-1.3zM111.3 311.7h1.3v1.3h-1.3zM139.2 314.1h1.3v1.3h-1.3zM135.2 319.5h1.3v1.3h-1.3zM98.8 310.7h1.3v1.3h-1.3zM114.3 314.5h1.3v1.3h-1.3zM135.6 317.7h1.3v1.3h-1.3zM114.9 315.1h1.3v1.3h-1.3zM132.1 314.3h1.3v1.3h-1.3zM107.2 313.8h1.3v1.3h-1.3zM115.2 311.0h1.3v1.3h-1.3zM131.6 321.8h1.3v1.3h-1.3zM104.1 313.4h1.3v1.3h-1.3zM108.9 319.6h1.3v1.3h-1.3zM131.6 320.6h1.3v1.3h-1.3zM103.4 311.0h1.3v1.3h-1.3zM142.2 310.6h1.3v1.3h-1.3zM97.5 310.6h1.3v1.3h-1.3zM132.0 316.0h1.3v1.3h-1.3zM133.5 311.6h1.3v1.3h-1.3zM117.4 316.6h1.3v1.3h-1.3zM134.8 317.3h1.3v1.3h-1.3zM143.3 310.6h1.3v1.3h-1.3zM110.9 315.5h1.3v1.3h-1.3zM126.9 313.3h1.3v1.3h-1.3zM112.2 321.2h1.3v1.3h-1.3zM117.4 316.6h1.3v1.3h-1.3zM120.5 313.0h1.3v1.3h-1.3zM98.1 311.3h1.3v1.3h-1.3zM101.7 312.6h1.3v1.3h-1.3zM113.6 312.7h1.3v1.3h-1.3zM111.9 317.3h1.3v1.3h-1.3zM111.3 314.5h1.3v1.3h-1.3zM115.4 311.8h1.3v1.3h-1.3zM103.3 313.8h1.3v1.3h-1.3zM137.8 313.6h1.3v1.3h-1.3zM113.7 316.0h1.3v1.3h-1.3zM129.2 322.8h1.3v1.3h-1.3zM142.0 311.0h1.3v1.3h-1.3zM119.2 321.1h1.3v1.3h-1.3zM109.8 315.2h1.3v1.3h-1.3zM128.8 320.8h1.3v1.3h-1.3zM117.3 317.0h1.3v1.3h-1.3zM126.9 313.4h1.3v1.3h-1.3zM133.8 314.0h1.3v1.3h-1.3zM115.1 313.1h1.3v1.3h-1.3zM110.0 313.5h1.3v1.3h-1.3zM113.0 319.9h1.3v1.3h-1.3zM137.1 318.8h1.3v1.3h-1.3zM115.0 322.6h1.3v1.3h-1.3zM126.8 311.4h1.3v1.3h-1.3zM108.7 310.5h1.3v1.3h-1.3zM112.7 310.8h1.3v1.3h-1.3zM108.6 318.8h1.3v1.3h-1.3zM112.4 315.1h1.3v1.3h-1.3zM118.8 317.7h1.3v1.3h-1.3zM105.7 312.8h1.3v1.3h-1.3zM131.9 317.8h1.3v1.3h-1.3zM97.1 312.3h1.3v1.3h-1.3zM108.4 316.7h1.3v1.3h-1.3zM111.8 318.3h1.3v1.3h-1.3zM127.1 310.4h1.3v1.3h-1.3zM133.9 318.7h1.3v1.3h-1.3zM114.5 318.3h1.3v1.3h-1.3zM120.5 312.2h1.3v1.3h-1.3zM134.2 317.0h1.3v1.3h-1.3zM105.6 312.5h1.3v1.3h-1.3zM137.5 317.9h1.3v1.3h-1.3zM133.4 317.8h1.3v1.3h-1.3zM131.6 321.4h1.3v1.3h-1.3zM120.5 321.9h1.3v1.3h-1.3zM134.9 310.7h1.3v1.3h-1.3zM116.2 311.1h1.3v1.3h-1.3zM118.0 320.6h1.3v1.3h-1.3zM124.4 313.1h1.3v1.3h-1.3zM128.8 321.5h1.3v1.3h-1.3zM107.7 312.4h1.3v1.3h-1.3zM129.6 313.8h1.3v1.3h-1.3zM136.5 316.7h1.3v1.3h-1.3zM124.5 322.3h1.3v1.3h-1.3zM112.1 320.2h1.3v1.3h-1.3zM117.4 316.7h1.3v1.3h-1.3zM139.9 314.5h1.3v1.3h-1.3zM130.5 322.7h1.3v1.3h-1.3zM106.0 312.4h1.3v1.3h-1.3zM114.5 322.7h1.3v1.3h-1.3zM113.8 312.2h1.3v1.3h-1.3zM130.2 318.6h1.3v1.3h-1.3zM142.3 313.0h1.3v1.3h-1.3zM106.7 314.9h1.3v1.3h-1.3zM105.4 312.1h1.3v1.3h-1.3zM109.1 317.1h1.3v1.3h-1.3zM135.1 315.2h1.3v1.3h-1.3zM121.4 311.0h1.3v1.3h-1.3zM100.0 311.2h1.3v1.3h-1.3zM131.9 320.6h1.3v1.3h-1.3zM100.0 313.6h1.3v1.3h-1.3zM142.1 312.4h1.3v1.3h-1.3zM127.2 315.1h1.3v1.3h-1.3zM126.2 311.6h1.3v1.3h-1.3zM118.5 321.2h1.3v1.3h-1.3zM128.6 313.0h1.3v1.3h-1.3zM126.6 315.1h1.3v1.3h-1.3zM104.4 312.2h1.3v1.3h-1.3zM106.9 318.0h1.3v1.3h-1.3zM138.4 313.3h1.3v1.3h-1.3zM109.6 320.0h1.3v1.3h-1.3zM113.1 322.7h1.3v1.3h-1.3zM107.6 318.4h1.3v1.3h-1.3zM106.6 310.8h1.3v1.3h-1.3zM114.2 322.4h1.3v1.3h-1.3zM111.8 314.7h1.3v1.3h-1.3zM106.9 318.3h1.3v1.3h-1.3zM136.7 312.5h1.3v1.3h-1.3zM114.5 315.4h1.3v1.3h-1.3zM125.8 316.6h1.3v1.3h-1.3zM126.2 318.8h1.3v1.3h-1.3zM126.2 312.7h1.3v1.3h-1.3zM119.0 321.8h1.3v1.3h-1.3zM109.8 317.4h1.3v1.3h-1.3zM120.0 311.8h1.3v1.3h-1.3zM104.1 312.1h1.3v1.3h-1.3zM124.3 311.8h1.3v1.3h-1.3zM129.2 318.1h1.3v1.3h-1.3zM129.9 313.5h1.3v1.3h-1.3zM134.7 312.4h1.3v1.3h-1.3zM128.2 323.0h1.3v1.3h-1.3zM125.9 320.1h1.3v1.3h-1.3zM114.8 315.4h1.3v1.3h-1.3zM130.5 314.7h1.3v1.3h-1.3z" fill="#a6a6a6"/>
<path d="M47.8 207.0h1.9v1.9h-1.9zM74.5 209.9h1.9v1.9h-1.9zM68.1 214.7h1.9v1.9h-1.9zM80.0 213.1h1.9v1.9h-1.9zM90.5 209.2h1.9v1.9h-1.9zM101.1 195.4h1.9v1.9h-1.9zM39.2 238.8h1.9v1.9h-1.9zM56.8 239.8h1.9v1.9h-1.9zM56.8 246.2h1.9v1.9h-1.9zM99.2 253.6h1.9v1.9h-1.9zM62.3 262.2h1.9v1.9h-1.9zM64.2 268.7h1.9v1.9h-1.9zM103.5 277.1h1.9v1.9h-1.9zM68.8 277.1h1.9v1.9h-1.9zM68.8 282.1h1.9v1.9h-1.9zM71.3 289.6h1.9v1.9h-1.9zM75.1 294.4h1.9v1.9h-1.9zM76.1 302.4h1.9v1.9h-1.9zM83.2 305.6h1.9v1.9h-1.9zM66.5 293.7h1.9v1.9h-1.9zM98.5 290.6h1.9v1.9h-1.9zM98.6 299.4h1.9v1.9h-1.9zM113.7 302.1h1.9v1.9h-1.9zM110.3 287.6h1.9v1.9h-1.9zM109.7 295.0h1.9v1.9h-1.9zM94.4 302.3h1.9v1.9h-1.9zM112.4 306.3h1.9v1.9h-1.9zM114.7 303.6h1.9v1.9h-1.9zM113.5 307.4h1.9v1.9h-1.9zM113.3 298.3h1.9v1.9h-1.9zM114.8 306.1h1.9v1.9h-1.9zM109.6 309.3h1.9v1.9h-1.9zM106.9 304.3h1.9v1.9h-1.9zM103.0 304.2h1.9v1.9h-1.9zM110.7 305.7h1.9v1.9h-1.9zM115.0 304.4h1.9v1.9h-1.9zM114.6 298.0h1.9v1.9h-1.9zM108.3 299.6h1.9v1.9h-1.9zM112.9 304.9h1.9v1.9h-1.9zM107.4 285.8h1.9v1.9h-1.9zM104.9 293.4h1.9v1.9h-1.9zM111.8 305.3h1.9v1.9h-1.9zM113.3 302.5h1.9v1.9h-1.9zM107.3 306.0h1.9v1.9h-1.9zM105.9 307.3h1.9v1.9h-1.9zM110.7 283.9h1.9v1.9h-1.9zM111.2 302.5h1.9v1.9h-1.9zM110.7 308.4h1.9v1.9h-1.9zM103.3 309.2h1.9v1.9h-1.9zM112.6 304.9h1.9v1.9h-1.9zM107.6 299.7h1.9v1.9h-1.9zM103.7 308.3h1.9v1.9h-1.9zM107.4 306.3h1.9v1.9h-1.9zM111.5 307.7h1.9v1.9h-1.9zM108.1 299.3h1.9v1.9h-1.9zM114.5 300.3h1.9v1.9h-1.9zM104.9 290.1h1.9v1.9h-1.9zM113.5 306.0h1.9v1.9h-1.9zM112.0 294.7h1.9v1.9h-1.9zM111.0 292.6h1.9v1.9h-1.9zM111.3 295.7h1.9v1.9h-1.9zM110.6 305.3h1.9v1.9h-1.9zM113.2 304.3h1.9v1.9h-1.9zM114.7 301.0h1.9v1.9h-1.9zM115.0 309.4h1.9v1.9h-1.9zM110.0 308.8h1.9v1.9h-1.9zM110.9 306.6h1.9v1.9h-1.9zM111.4 288.5h1.9v1.9h-1.9zM111.6 307.9h1.9v1.9h-1.9zM107.5 286.6h1.9v1.9h-1.9zM113.9 300.5h1.9v1.9h-1.9zM110.7 295.4h1.9v1.9h-1.9zM95.7 309.6h1.9v1.9h-1.9zM107.6 297.6h1.9v1.9h-1.9zM109.7 306.0h1.9v1.9h-1.9zM110.3 305.2h1.9v1.9h-1.9zM111.8 304.6h1.9v1.9h-1.9zM114.1 308.3h1.9v1.9h-1.9zM112.0 301.2h1.9v1.9h-1.9zM113.1 303.9h1.9v1.9h-1.9zM112.7 285.2h1.9v1.9h-1.9zM111.7 309.3h1.9v1.9h-1.9zM94.4 290.0h1.9v1.9h-1.9zM99.5 306.5h1.9v1.9h-1.9zM109.5 302.3h1.9v1.9h-1.9zM114.8 306.5h1.9v1.9h-1.9zM99.8 297.1h1.9v1.9h-1.9zM108.6 305.1h1.9v1.9h-1.9zM114.0 302.5h1.9v1.9h-1.9zM96.9 294.6h1.9v1.9h-1.9zM114.3 299.1h1.9v1.9h-1.9zM114.4 304.8h1.9v1.9h-1.9zM109.6 307.9h1.9v1.9h-1.9zM114.4 300.9h1.9v1.9h-1.9zM111.4 301.1h1.9v1.9h-1.9zM98.1 288.3h1.9v1.9h-1.9zM110.0 308.4h1.9v1.9h-1.9zM98.1 308.1h1.9v1.9h-1.9zM112.7 303.9h1.9v1.9h-1.9zM90.0 294.1h1.9v1.9h-1.9zM109.3 298.8h1.9v1.9h-1.9zM113.6 305.7h1.9v1.9h-1.9zM112.8 309.5h1.9v1.9h-1.9zM113.4 307.8h1.9v1.9h-1.9zM104.8 300.9h1.9v1.9h-1.9zM99.1 292.3h1.9v1.9h-1.9zM107.1 296.7h1.9v1.9h-1.9zM100.1 306.6h1.9v1.9h-1.9zM105.7 301.2h1.9v1.9h-1.9zM105.8 304.4h1.9v1.9h-1.9zM110.9 306.3h1.9v1.9h-1.9zM110.7 304.8h1.9v1.9h-1.9zM110.9 308.1h1.9v1.9h-1.9zM114.7 301.4h1.9v1.9h-1.9zM112.0 297.3h1.9v1.9h-1.9zM107.9 306.5h1.9v1.9h-1.9zM111.5 289.3h1.9v1.9h-1.9zM112.8 301.3h1.9v1.9h-1.9zM99.2 304.1h1.9v1.9h-1.9zM108.7 306.8h1.9v1.9h-1.9zM104.7 306.7h1.9v1.9h-1.9zM106.9 309.7h1.9v1.9h-1.9z" fill="#1daeea"/>
<path d="M140.7 199.0h1.9v1.9h-1.9zM150.1 220.5h1.9v1.9h-1.9zM135.6 239.8h1.9v1.9h-1.9zM186.2 239.1h1.9v1.9h-1.9zM137.2 257.4h1.9v1.9h-1.9zM134.0 259.1h1.9v1.9h-1.9zM149.1 255.2h1.9v1.9h-1.9zM175.1 253.6h1.9v1.9h-1.9zM133.2 264.4h1.9v1.9h-1.9zM137.2 265.4h1.9v1.9h-1.9zM178.0 267.1h1.9v1.9h-1.9zM134.1 275.6h1.9v1.9h-1.9zM138.1 277.4h1.9v1.9h-1.9zM141.6 279.1h1.9v1.9h-1.9zM144.9 282.1h1.9v1.9h-1.9zM147.7 289.6h1.9v1.9h-1.9zM151.1 295.1h1.9v1.9h-1.9zM145.6 300.1h1.9v1.9h-1.9zM138.6 282.8h1.9v1.9h-1.9zM143.1 271.4h1.9v1.9h-1.9zM139.2 301.2h1.9v1.9h-1.9zM127.9 285.4h1.9v1.9h-1.9zM135.3 303.9h1.9v1.9h-1.9zM127.8 299.8h1.9v1.9h-1.9zM136.6 309.0h1.9v1.9h-1.9zM129.1 300.8h1.9v1.9h-1.9zM135.7 309.4h1.9v1.9h-1.9zM134.8 292.0h1.9v1.9h-1.9zM128.6 304.4h1.9v1.9h-1.9zM138.5 304.8h1.9v1.9h-1.9zM132.6 287.9h1.9v1.9h-1.9zM128.4 285.2h1.9v1.9h-1.9zM131.1 285.7h1.9v1.9h-1.9zM133.8 306.8h1.9v1.9h-1.9zM130.6 286.0h1.9v1.9h-1.9zM135.4 302.4h1.9v1.9h-1.9zM142.6 293.3h1.9v1.9h-1.9zM130.6 309.2h1.9v1.9h-1.9zM128.8 290.9h1.9v1.9h-1.9zM127.9 307.1h1.9v1.9h-1.9zM130.2 306.6h1.9v1.9h-1.9zM138.5 309.5h1.9v1.9h-1.9zM129.5 308.4h1.9v1.9h-1.9zM129.0 278.8h1.9v1.9h-1.9zM136.8 292.5h1.9v1.9h-1.9zM130.2 303.8h1.9v1.9h-1.9zM129.2 275.1h1.9v1.9h-1.9zM132.3 304.6h1.9v1.9h-1.9zM139.9 309.4h1.9v1.9h-1.9zM133.0 308.8h1.9v1.9h-1.9zM128.4 308.5h1.9v1.9h-1.9zM128.9 306.2h1.9v1.9h-1.9zM127.9 306.7h1.9v1.9h-1.9zM127.6 284.0h1.9v1.9h-1.9zM131.0 289.7h1.9v1.9h-1.9zM128.3 286.6h1.9v1.9h-1.9zM132.1 293.2h1.9v1.9h-1.9zM135.0 309.5h1.9v1.9h-1.9zM128.0 282.1h1.9v1.9h-1.9zM130.3 298.6h1.9v1.9h-1.9zM127.6 303.2h1.9v1.9h-1.9zM132.4 303.1h1.9v1.9h-1.9zM129.1 299.1h1.9v1.9h-1.9zM131.7 308.3h1.9v1.9h-1.9zM134.0 294.8h1.9v1.9h-1.9zM138.2 298.4h1.9v1.9h-1.9zM128.3 289.3h1.9v1.9h-1.9zM137.7 298.3h1.9v1.9h-1.9zM132.6 307.8h1.9v1.9h-1.9zM135.7 305.3h1.9v1.9h-1.9zM134.4 307.0h1.9v1.9h-1.9zM127.9 295.2h1.9v1.9h-1.9zM128.0 305.4h1.9v1.9h-1.9zM132.2 278.6h1.9v1.9h-1.9zM131.0 292.7h1.9v1.9h-1.9zM135.8 293.9h1.9v1.9h-1.9zM132.7 286.0h1.9v1.9h-1.9zM128.3 295.6h1.9v1.9h-1.9zM147.3 307.9h1.9v1.9h-1.9zM128.7 304.3h1.9v1.9h-1.9zM131.6 300.1h1.9v1.9h-1.9zM129.8 309.8h1.9v1.9h-1.9zM130.2 303.2h1.9v1.9h-1.9zM131.1 305.9h1.9v1.9h-1.9zM128.1 303.5h1.9v1.9h-1.9zM128.3 280.5h1.9v1.9h-1.9zM141.6 301.5h1.9v1.9h-1.9zM135.4 300.0h1.9v1.9h-1.9zM128.2 304.4h1.9v1.9h-1.9zM136.5 296.6h1.9v1.9h-1.9zM128.8 304.2h1.9v1.9h-1.9zM132.1 295.5h1.9v1.9h-1.9zM135.5 308.8h1.9v1.9h-1.9zM131.7 300.5h1.9v1.9h-1.9zM131.8 290.0h1.9v1.9h-1.9z" fill="#f21414"/>
<line x1="116.3" y1="190.9" x2="116.3" y2="331" stroke="#333" stroke-width="0.8" stroke-dasharray="1.5 1.3"/>
<line x1="128.4" y1="190.9" x2="128.4" y2="331" stroke="#333" stroke-width="0.8" stroke-dasharray="1.5 1.3"/>
<line x1="25" y1="311.2" x2="205.6" y2="311.2" stroke="#444" stroke-width="0.7" stroke-dasharray="1.5 1.3"/>
<text x="23" y="227" font-size="4.2" text-anchor="middle" fill="#777">10</text>
<text x="23" y="276" font-size="4.2" text-anchor="middle" fill="#777">5</text>
<text x="23" y="325" font-size="4.2" text-anchor="middle" fill="#777">0</text>
<text x="48.2" y="335" font-size="4.2" text-anchor="middle" fill="#777">-10</text>
<text x="86.4" y="335" font-size="4.2" text-anchor="middle" fill="#777">-5</text>
<text x="122.8" y="335" font-size="4.2" text-anchor="middle" fill="#777">0</text>
<text x="160" y="335" font-size="4.2" text-anchor="middle" fill="#777">5</text>
<text x="197.5" y="335" font-size="4.2" text-anchor="middle" fill="#777">10</text>
<text x="131.5" y="281.49" font-size="7.24" textLength="32.6" lengthAdjust="spacingAndGlyphs">SERPINB1</text>
<text x="99.4" y="290.69" font-size="7.24" textLength="19.8" lengthAdjust="spacingAndGlyphs">ACTA1</text>
<text x="129.9" y="296.89" font-size="7.24" textLength="21.7" lengthAdjust="spacingAndGlyphs">MTUS1</text>
<text x="106" y="299.49" font-size="7.24" textLength="20.3" lengthAdjust="spacingAndGlyphs">GATA2</text>
<text x="137.8" y="306.09" font-size="7.24" textLength="21" lengthAdjust="spacingAndGlyphs">LRRK2</text>
<text x="86.6" y="307.39" font-size="7.24" textLength="25.6" lengthAdjust="spacingAndGlyphs">CACNB1</text>
<text x="112.8" y="308.29" font-size="7.24" textLength="25" lengthAdjust="spacingAndGlyphs">TUBB2B</text>
<text x="119.2" y="316.59" font-size="7.24" textLength="25.8" lengthAdjust="spacingAndGlyphs">MAPK10</text>
<text x="107.2" y="343.2" font-size="9.7" textLength="30.2" lengthAdjust="spacingAndGlyphs">Log<tspan font-size="6" dy="2.2">2</tspan><tspan dy="-2.2">FC</tspan></text>
<text transform="translate(16.2,254.6) rotate(-90)" x="0" y="0" font-size="9.8" text-anchor="middle" textLength="43.5" lengthAdjust="spacingAndGlyphs">-Log<tspan font-size="6" dy="2.2">10</tspan><tspan dy="-2.2">Adjp</tspan></text>
<text x="103.2" y="365.8" font-size="11.59" font-weight="bold" textLength="37.5" lengthAdjust="spacingAndGlyphs">D20 CM</text>
<path d="M93.6 507.6h1.3v1.3h-1.3zM98.7 505.9h1.3v1.3h-1.3zM147.5 508.4h1.3v1.3h-1.3zM131.6 510.0h1.3v1.3h-1.3zM118.8 506.9h1.3v1.3h-1.3zM105.2 505.3h1.3v1.3h-1.3zM135.3 506.4h1.3v1.3h-1.3zM190.4 505.1h1.3v1.3h-1.3zM136.3 507.6h1.3v1.3h-1.3zM133.9 508.8h1.3v1.3h-1.3zM134.5 507.2h1.3v1.3h-1.3zM124.3 506.9h1.3v1.3h-1.3zM125.9 506.0h1.3v1.3h-1.3zM141.2 507.9h1.3v1.3h-1.3zM147.6 507.6h1.3v1.3h-1.3zM103.8 508.2h1.3v1.3h-1.3zM131.2 508.4h1.3v1.3h-1.3zM165.7 506.8h1.3v1.3h-1.3zM136.6 507.8h1.3v1.3h-1.3zM191.4 507.7h1.3v1.3h-1.3zM102.4 507.5h1.3v1.3h-1.3zM188.7 507.3h1.3v1.3h-1.3zM179.8 505.7h1.3v1.3h-1.3zM173.9 507.7h1.3v1.3h-1.3zM189.1 507.3h1.3v1.3h-1.3zM175.1 507.9h1.3v1.3h-1.3zM175.5 505.4h1.3v1.3h-1.3zM103.2 506.5h1.3v1.3h-1.3zM127.1 507.7h1.3v1.3h-1.3zM99.7 506.6h1.3v1.3h-1.3zM120.2 508.0h1.3v1.3h-1.3zM111.7 506.0h1.3v1.3h-1.3zM152.4 505.8h1.3v1.3h-1.3zM178.6 508.0h1.3v1.3h-1.3zM171.7 505.4h1.3v1.3h-1.3zM121.0 508.3h1.3v1.3h-1.3zM138.9 506.5h1.3v1.3h-1.3zM146.0 505.4h1.3v1.3h-1.3zM157.9 506.2h1.3v1.3h-1.3zM181.5 506.5h1.3v1.3h-1.3zM177.7 506.1h1.3v1.3h-1.3zM136.0 508.4h1.3v1.3h-1.3zM157.3 506.9h1.3v1.3h-1.3zM95.2 507.0h1.3v1.3h-1.3zM153.2 506.0h1.3v1.3h-1.3zM97.1 505.9h1.3v1.3h-1.3zM102.6 507.4h1.3v1.3h-1.3zM109.9 507.0h1.3v1.3h-1.3zM196.2 508.1h1.3v1.3h-1.3zM115.1 506.4h1.3v1.3h-1.3zM150.6 506.4h1.3v1.3h-1.3zM191.7 505.3h1.3v1.3h-1.3zM192.8 508.8h1.3v1.3h-1.3zM106.0 508.6h1.3v1.3h-1.3zM183.4 507.2h1.3v1.3h-1.3zM128.4 508.8h1.3v1.3h-1.3zM180.6 505.3h1.3v1.3h-1.3zM182.8 505.6h1.3v1.3h-1.3zM160.6 508.6h1.3v1.3h-1.3zM112.8 507.6h1.3v1.3h-1.3zM115.3 508.6h1.3v1.3h-1.3zM140.0 506.0h1.3v1.3h-1.3zM187.4 507.9h1.3v1.3h-1.3zM186.0 507.5h1.3v1.3h-1.3zM94.2 508.7h1.3v1.3h-1.3zM122.3 505.7h1.3v1.3h-1.3zM103.0 506.1h1.3v1.3h-1.3zM165.6 507.0h1.3v1.3h-1.3zM143.8 507.9h1.3v1.3h-1.3zM100.3 508.5h1.3v1.3h-1.3zM128.4 506.8h1.3v1.3h-1.3zM108.9 507.0h1.3v1.3h-1.3zM101.4 507.6h1.3v1.3h-1.3zM197.1 506.8h1.3v1.3h-1.3zM124.7 505.7h1.3v1.3h-1.3zM95.8 506.4h1.3v1.3h-1.3zM92.5 507.4h1.3v1.3h-1.3zM136.3 508.1h1.3v1.3h-1.3zM188.6 507.0h1.3v1.3h-1.3zM136.6 508.3h1.3v1.3h-1.3zM87.2 506.9h1.3v1.3h-1.3zM173.5 508.6h1.3v1.3h-1.3zM114.9 506.9h1.3v1.3h-1.3zM190.8 508.5h1.3v1.3h-1.3zM119.4 508.7h1.3v1.3h-1.3zM160.6 505.3h1.3v1.3h-1.3zM129.2 506.0h1.3v1.3h-1.3zM113.1 506.6h1.3v1.3h-1.3zM164.8 506.0h1.3v1.3h-1.3zM139.7 505.5h1.3v1.3h-1.3zM171.8 506.6h1.3v1.3h-1.3zM95.9 507.2h1.3v1.3h-1.3zM156.2 508.7h1.3v1.3h-1.3zM197.2 508.2h1.3v1.3h-1.3zM109.7 508.4h1.3v1.3h-1.3zM111.2 506.6h1.3v1.3h-1.3zM136.6 507.3h1.3v1.3h-1.3zM168.1 506.2h1.3v1.3h-1.3zM134.8 506.9h1.3v1.3h-1.3zM104.4 508.8h1.3v1.3h-1.3zM164.8 506.5h1.3v1.3h-1.3zM97.9 506.3h1.3v1.3h-1.3zM122.4 505.7h1.3v1.3h-1.3zM110.1 507.5h1.3v1.3h-1.3zM104.3 508.8h1.3v1.3h-1.3zM188.8 505.2h1.3v1.3h-1.3zM139.0 505.3h1.3v1.3h-1.3zM191.0 507.8h1.3v1.3h-1.3zM121.8 505.3h1.3v1.3h-1.3zM149.9 506.3h1.3v1.3h-1.3zM174.4 506.2h1.3v1.3h-1.3zM106.0 506.0h1.3v1.3h-1.3zM197.3 506.0h1.3v1.3h-1.3zM169.7 505.5h1.3v1.3h-1.3zM173.8 505.3h1.3v1.3h-1.3zM198.4 507.9h1.3v1.3h-1.3zM121.2 505.5h1.3v1.3h-1.3zM90.6 505.9h1.3v1.3h-1.3zM89.2 508.0h1.3v1.3h-1.3zM184.5 507.9h1.3v1.3h-1.3zM103.6 508.4h1.3v1.3h-1.3zM129.3 506.2h1.3v1.3h-1.3zM165.7 505.3h1.3v1.3h-1.3zM126.8 508.1h1.3v1.3h-1.3zM126.3 505.3h1.3v1.3h-1.3zM166.9 507.5h1.3v1.3h-1.3zM186.7 508.6h1.3v1.3h-1.3zM86.8 506.9h1.3v1.3h-1.3zM166.7 507.6h1.3v1.3h-1.3zM106.9 506.5h1.3v1.3h-1.3zM160.6 508.8h1.3v1.3h-1.3zM160.0 508.3h1.3v1.3h-1.3zM130.3 507.5h1.3v1.3h-1.3zM176.2 507.0h1.3v1.3h-1.3zM200.2 506.2h1.3v1.3h-1.3zM172.9 505.7h1.3v1.3h-1.3zM169.0 508.3h1.3v1.3h-1.3zM195.7 508.7h1.3v1.3h-1.3zM181.2 506.7h1.3v1.3h-1.3zM200.8 505.7h1.3v1.3h-1.3zM163.8 506.0h1.3v1.3h-1.3zM108.6 508.2h1.3v1.3h-1.3zM146.3 506.3h1.3v1.3h-1.3zM174.1 507.0h1.3v1.3h-1.3zM128.8 506.4h1.3v1.3h-1.3zM195.2 508.7h1.3v1.3h-1.3zM130.8 507.4h1.3v1.3h-1.3zM91.8 506.5h1.3v1.3h-1.3zM142.4 508.8h1.3v1.3h-1.3zM106.7 506.8h1.3v1.3h-1.3zM112.6 506.2h1.3v1.3h-1.3zM169.1 507.7h1.3v1.3h-1.3zM124.7 508.5h1.3v1.3h-1.3zM104.9 505.2h1.3v1.3h-1.3zM202.0 507.0h1.3v1.3h-1.3zM103.6 508.5h1.3v1.3h-1.3zM111.2 505.3h1.3v1.3h-1.3zM130.9 508.7h1.3v1.3h-1.3zM187.8 508.5h1.3v1.3h-1.3zM135.7 508.5h1.3v1.3h-1.3zM135.4 506.7h1.3v1.3h-1.3zM138.3 505.1h1.3v1.3h-1.3zM140.9 505.7h1.3v1.3h-1.3zM93.4 507.9h1.3v1.3h-1.3zM87.5 507.8h1.3v1.3h-1.3zM147.1 505.2h1.3v1.3h-1.3zM141.9 506.9h1.3v1.3h-1.3zM182.3 505.2h1.3v1.3h-1.3zM172.8 507.5h1.3v1.3h-1.3zM190.1 507.1h1.3v1.3h-1.3zM110.5 505.4h1.3v1.3h-1.3zM169.4 507.5h1.3v1.3h-1.3zM119.1 508.2h1.3v1.3h-1.3zM163.4 508.2h1.3v1.3h-1.3zM135.5 508.9h1.3v1.3h-1.3zM109.8 507.7h1.3v1.3h-1.3zM150.1 507.4h1.3v1.3h-1.3zM164.1 508.2h1.3v1.3h-1.3zM115.2 506.6h1.3v1.3h-1.3zM165.0 507.1h1.3v1.3h-1.3zM162.6 508.1h1.3v1.3h-1.3zM153.6 505.2h1.3v1.3h-1.3zM171.3 506.2h1.3v1.3h-1.3zM173.4 506.2h1.3v1.3h-1.3zM128.8 508.8h1.3v1.3h-1.3zM97.1 507.5h1.3v1.3h-1.3zM104.1 505.7h1.3v1.3h-1.3zM113.8 507.0h1.3v1.3h-1.3zM147.9 505.2h1.3v1.3h-1.3zM147.0 505.7h1.3v1.3h-1.3zM93.6 505.8h1.3v1.3h-1.3zM141.1 507.4h1.3v1.3h-1.3zM145.7 506.2h1.3v1.3h-1.3zM88.8 505.6h1.3v1.3h-1.3zM123.6 507.7h1.3v1.3h-1.3zM119.4 508.7h1.3v1.3h-1.3zM195.5 505.4h1.3v1.3h-1.3zM157.5 505.6h1.3v1.3h-1.3zM87.1 508.1h1.3v1.3h-1.3zM144.5 507.1h1.3v1.3h-1.3zM119.2 505.1h1.3v1.3h-1.3zM130.8 509.3h1.3v1.3h-1.3zM180.2 508.1h1.3v1.3h-1.3zM182.2 506.2h1.3v1.3h-1.3zM150.7 507.6h1.3v1.3h-1.3zM114.5 507.7h1.3v1.3h-1.3zM147.5 508.3h1.3v1.3h-1.3zM138.8 508.2h1.3v1.3h-1.3zM113.5 508.4h1.3v1.3h-1.3zM175.5 505.1h1.3v1.3h-1.3zM142.5 507.2h1.3v1.3h-1.3zM96.8 507.0h1.3v1.3h-1.3zM184.7 507.5h1.3v1.3h-1.3zM156.3 505.2h1.3v1.3h-1.3zM119.9 507.5h1.3v1.3h-1.3zM148.7 507.4h1.3v1.3h-1.3zM164.3 507.8h1.3v1.3h-1.3zM100.7 507.3h1.3v1.3h-1.3zM189.8 508.8h1.3v1.3h-1.3zM176.2 507.6h1.3v1.3h-1.3zM188.9 507.7h1.3v1.3h-1.3zM117.8 506.8h1.3v1.3h-1.3zM159.8 507.5h1.3v1.3h-1.3zM131.6 507.3h1.3v1.3h-1.3zM119.3 508.6h1.3v1.3h-1.3zM110.6 505.9h1.3v1.3h-1.3zM191.4 505.9h1.3v1.3h-1.3zM170.2 506.5h1.3v1.3h-1.3zM168.5 505.1h1.3v1.3h-1.3zM104.7 505.5h1.3v1.3h-1.3zM171.4 506.2h1.3v1.3h-1.3zM137.5 508.1h1.3v1.3h-1.3zM167.6 508.5h1.3v1.3h-1.3zM98.8 508.3h1.3v1.3h-1.3zM160.5 507.0h1.3v1.3h-1.3zM184.2 507.8h1.3v1.3h-1.3zM198.5 505.9h1.3v1.3h-1.3zM182.0 506.1h1.3v1.3h-1.3zM97.6 506.9h1.3v1.3h-1.3zM88.1 507.9h1.3v1.3h-1.3zM191.8 508.6h1.3v1.3h-1.3zM127.0 508.6h1.3v1.3h-1.3zM125.9 506.4h1.3v1.3h-1.3zM126.0 507.2h1.3v1.3h-1.3zM185.1 507.2h1.3v1.3h-1.3zM146.2 507.3h1.3v1.3h-1.3zM129.5 506.3h1.3v1.3h-1.3zM89.9 507.7h1.3v1.3h-1.3zM141.7 508.5h1.3v1.3h-1.3zM144.3 506.2h1.3v1.3h-1.3zM196.1 505.7h1.3v1.3h-1.3zM86.6 506.5h1.3v1.3h-1.3zM183.4 508.6h1.3v1.3h-1.3zM184.3 507.6h1.3v1.3h-1.3zM159.2 507.1h1.3v1.3h-1.3zM137.2 507.9h1.3v1.3h-1.3zM89.5 505.5h1.3v1.3h-1.3zM186.4 505.8h1.3v1.3h-1.3zM147.0 506.6h1.3v1.3h-1.3zM126.5 507.9h1.3v1.3h-1.3zM156.0 507.5h1.3v1.3h-1.3zM191.7 506.9h1.3v1.3h-1.3zM139.8 505.4h1.3v1.3h-1.3zM105.6 508.3h1.3v1.3h-1.3zM138.4 505.5h1.3v1.3h-1.3zM146.2 507.7h1.3v1.3h-1.3zM180.3 508.5h1.3v1.3h-1.3zM152.1 508.6h1.3v1.3h-1.3zM167.7 508.6h1.3v1.3h-1.3zM107.5 507.7h1.3v1.3h-1.3zM99.4 505.5h1.3v1.3h-1.3zM102.3 506.9h1.3v1.3h-1.3zM104.0 505.5h1.3v1.3h-1.3zM160.5 508.8h1.3v1.3h-1.3zM85.8 507.9h1.3v1.3h-1.3zM125.4 508.2h1.3v1.3h-1.3zM100.7 507.9h1.3v1.3h-1.3zM86.8 506.6h1.3v1.3h-1.3zM145.6 505.7h1.3v1.3h-1.3zM167.6 507.3h1.3v1.3h-1.3zM189.5 507.5h1.3v1.3h-1.3zM161.9 508.3h1.3v1.3h-1.3zM177.1 507.3h1.3v1.3h-1.3zM159.0 506.3h1.3v1.3h-1.3zM146.3 505.8h1.3v1.3h-1.3zM92.5 508.3h1.3v1.3h-1.3zM140.8 505.5h1.3v1.3h-1.3zM182.8 505.1h1.3v1.3h-1.3zM116.4 507.2h1.3v1.3h-1.3zM197.1 506.6h1.3v1.3h-1.3zM133.6 508.7h1.3v1.3h-1.3zM151.0 505.7h1.3v1.3h-1.3zM191.5 508.6h1.3v1.3h-1.3zM128.1 508.7h1.3v1.3h-1.3zM115.0 506.1h1.3v1.3h-1.3zM165.6 508.2h1.3v1.3h-1.3zM92.8 506.4h1.3v1.3h-1.3zM101.9 508.1h1.3v1.3h-1.3zM131.2 509.6h1.3v1.3h-1.3zM118.5 507.0h1.3v1.3h-1.3zM141.9 506.8h1.3v1.3h-1.3zM165.0 506.9h1.3v1.3h-1.3zM169.1 508.1h1.3v1.3h-1.3zM140.8 505.1h1.3v1.3h-1.3zM148.4 505.6h1.3v1.3h-1.3zM152.5 505.8h1.3v1.3h-1.3zM170.7 506.0h1.3v1.3h-1.3zM138.1 508.0h1.3v1.3h-1.3zM106.4 506.6h1.3v1.3h-1.3zM120.1 508.1h1.3v1.3h-1.3zM152.5 506.8h1.3v1.3h-1.3zM146.5 508.1h1.3v1.3h-1.3zM87.9 507.6h1.3v1.3h-1.3zM172.5 506.7h1.3v1.3h-1.3zM132.3 507.0h1.3v1.3h-1.3zM155.3 505.2h1.3v1.3h-1.3zM108.1 507.9h1.3v1.3h-1.3zM182.8 508.3h1.3v1.3h-1.3zM120.4 505.4h1.3v1.3h-1.3zM98.6 506.3h1.3v1.3h-1.3zM140.9 508.5h1.3v1.3h-1.3zM111.5 506.9h1.3v1.3h-1.3zM159.5 506.1h1.3v1.3h-1.3zM182.1 505.1h1.3v1.3h-1.3zM157.4 508.4h1.3v1.3h-1.3zM150.5 508.1h1.3v1.3h-1.3zM158.3 508.8h1.3v1.3h-1.3zM183.7 508.3h1.3v1.3h-1.3zM164.5 506.3h1.3v1.3h-1.3zM161.2 505.3h1.3v1.3h-1.3zM200.4 508.7h1.3v1.3h-1.3zM87.4 506.0h1.3v1.3h-1.3zM191.9 505.7h1.3v1.3h-1.3zM196.3 507.7h1.3v1.3h-1.3zM100.8 508.7h1.3v1.3h-1.3zM158.4 507.7h1.3v1.3h-1.3zM153.3 505.1h1.3v1.3h-1.3zM151.0 507.0h1.3v1.3h-1.3zM110.0 506.6h1.3v1.3h-1.3zM165.4 508.0h1.3v1.3h-1.3zM107.6 507.8h1.3v1.3h-1.3zM110.3 505.4h1.3v1.3h-1.3zM185.6 508.3h1.3v1.3h-1.3zM160.5 507.1h1.3v1.3h-1.3zM154.5 505.1h1.3v1.3h-1.3zM104.7 507.5h1.3v1.3h-1.3zM101.9 505.6h1.3v1.3h-1.3zM186.0 508.4h1.3v1.3h-1.3zM186.6 508.7h1.3v1.3h-1.3zM180.3 506.9h1.3v1.3h-1.3zM192.0 507.4h1.3v1.3h-1.3zM178.0 507.8h1.3v1.3h-1.3zM164.1 507.7h1.3v1.3h-1.3zM105.3 505.8h1.3v1.3h-1.3zM124.8 506.2h1.3v1.3h-1.3zM147.0 506.7h1.3v1.3h-1.3zM110.9 505.4h1.3v1.3h-1.3zM118.6 506.7h1.3v1.3h-1.3zM116.8 507.7h1.3v1.3h-1.3zM115.3 507.8h1.3v1.3h-1.3zM194.3 508.5h1.3v1.3h-1.3zM130.6 506.9h1.3v1.3h-1.3zM185.1 506.2h1.3v1.3h-1.3zM96.7 508.0h1.3v1.3h-1.3zM189.7 507.6h1.3v1.3h-1.3zM125.8 508.8h1.3v1.3h-1.3zM105.6 505.3h1.3v1.3h-1.3zM160.0 506.7h1.3v1.3h-1.3zM199.7 506.7h1.3v1.3h-1.3zM193.0 505.9h1.3v1.3h-1.3zM98.0 506.0h1.3v1.3h-1.3zM116.5 508.8h1.3v1.3h-1.3zM95.8 505.7h1.3v1.3h-1.3zM166.3 507.7h1.3v1.3h-1.3zM197.2 506.3h1.3v1.3h-1.3zM102.4 507.4h1.3v1.3h-1.3zM176.6 508.6h1.3v1.3h-1.3zM118.8 507.1h1.3v1.3h-1.3zM167.6 507.0h1.3v1.3h-1.3zM121.5 505.3h1.3v1.3h-1.3zM99.7 506.8h1.3v1.3h-1.3zM139.9 508.5h1.3v1.3h-1.3zM126.5 505.4h1.3v1.3h-1.3zM124.0 508.7h1.3v1.3h-1.3zM122.0 506.7h1.3v1.3h-1.3zM119.8 507.5h1.3v1.3h-1.3zM124.9 505.1h1.3v1.3h-1.3zM107.9 507.8h1.3v1.3h-1.3zM159.0 508.4h1.3v1.3h-1.3zM115.4 505.7h1.3v1.3h-1.3zM151.7 507.2h1.3v1.3h-1.3zM142.3 506.5h1.3v1.3h-1.3zM189.5 506.4h1.3v1.3h-1.3zM93.6 508.6h1.3v1.3h-1.3zM196.9 505.4h1.3v1.3h-1.3zM200.2 506.5h1.3v1.3h-1.3zM162.9 506.6h1.3v1.3h-1.3zM105.9 506.7h1.3v1.3h-1.3zM131.0 508.2h1.3v1.3h-1.3zM151.0 507.1h1.3v1.3h-1.3zM122.5 508.1h1.3v1.3h-1.3zM109.7 507.2h1.3v1.3h-1.3zM102.8 507.1h1.3v1.3h-1.3zM127.9 506.2h1.3v1.3h-1.3zM92.9 506.5h1.3v1.3h-1.3zM106.7 508.5h1.3v1.3h-1.3zM137.6 505.1h1.3v1.3h-1.3zM125.0 506.6h1.3v1.3h-1.3zM142.9 506.7h1.3v1.3h-1.3zM147.8 506.7h1.3v1.3h-1.3zM184.3 505.9h1.3v1.3h-1.3zM128.4 507.5h1.3v1.3h-1.3zM98.5 506.9h1.3v1.3h-1.3zM89.0 506.4h1.3v1.3h-1.3zM115.8 506.1h1.3v1.3h-1.3zM160.3 508.1h1.3v1.3h-1.3zM96.9 507.2h1.3v1.3h-1.3zM180.7 505.2h1.3v1.3h-1.3zM158.1 507.1h1.3v1.3h-1.3zM133.2 506.1h1.3v1.3h-1.3zM200.8 507.2h1.3v1.3h-1.3zM147.7 508.2h1.3v1.3h-1.3zM92.9 508.8h1.3v1.3h-1.3zM156.7 508.7h1.3v1.3h-1.3zM196.6 508.7h1.3v1.3h-1.3zM140.6 506.0h1.3v1.3h-1.3zM94.6 508.4h1.3v1.3h-1.3zM137.1 507.5h1.3v1.3h-1.3zM197.0 506.3h1.3v1.3h-1.3zM123.1 505.7h1.3v1.3h-1.3zM126.8 506.3h1.3v1.3h-1.3zM143.6 506.6h1.3v1.3h-1.3zM167.2 505.3h1.3v1.3h-1.3zM190.3 506.2h1.3v1.3h-1.3zM99.0 506.1h1.3v1.3h-1.3zM153.5 506.3h1.3v1.3h-1.3zM167.8 508.1h1.3v1.3h-1.3zM161.5 506.5h1.3v1.3h-1.3zM102.6 507.6h1.3v1.3h-1.3zM182.7 507.3h1.3v1.3h-1.3zM105.7 505.6h1.3v1.3h-1.3zM201.2 505.9h1.3v1.3h-1.3zM160.1 505.9h1.3v1.3h-1.3zM90.2 508.0h1.3v1.3h-1.3zM131.9 507.4h1.3v1.3h-1.3zM92.4 507.2h1.3v1.3h-1.3zM115.9 505.4h1.3v1.3h-1.3zM145.5 505.3h1.3v1.3h-1.3zM164.0 505.5h1.3v1.3h-1.3zM195.3 507.8h1.3v1.3h-1.3zM189.8 507.6h1.3v1.3h-1.3zM105.3 507.9h1.3v1.3h-1.3zM167.0 505.1h1.3v1.3h-1.3zM177.6 508.2h1.3v1.3h-1.3zM107.5 508.7h1.3v1.3h-1.3zM184.3 506.8h1.3v1.3h-1.3zM190.2 508.4h1.3v1.3h-1.3zM181.2 506.5h1.3v1.3h-1.3zM186.7 506.8h1.3v1.3h-1.3zM170.0 505.2h1.3v1.3h-1.3zM102.8 505.5h1.3v1.3h-1.3zM132.0 506.6h1.3v1.3h-1.3zM118.8 506.9h1.3v1.3h-1.3zM171.5 506.8h1.3v1.3h-1.3zM129.6 506.6h1.3v1.3h-1.3zM184.5 505.5h1.3v1.3h-1.3zM93.2 508.2h1.3v1.3h-1.3zM154.8 508.4h1.3v1.3h-1.3zM183.1 506.6h1.3v1.3h-1.3zM110.8 508.7h1.3v1.3h-1.3zM127.1 507.6h1.3v1.3h-1.3zM95.7 508.1h1.3v1.3h-1.3zM138.7 508.0h1.3v1.3h-1.3zM96.6 506.5h1.3v1.3h-1.3zM131.4 507.4h1.3v1.3h-1.3zM192.6 506.2h1.3v1.3h-1.3zM195.5 507.9h1.3v1.3h-1.3zM91.4 506.3h1.3v1.3h-1.3zM139.6 505.9h1.3v1.3h-1.3zM150.1 506.5h1.3v1.3h-1.3zM183.4 507.2h1.3v1.3h-1.3zM200.9 505.6h1.3v1.3h-1.3zM131.2 508.5h1.3v1.3h-1.3zM180.3 507.3h1.3v1.3h-1.3zM118.7 505.1h1.3v1.3h-1.3zM160.3 505.5h1.3v1.3h-1.3zM127.0 505.9h1.3v1.3h-1.3zM109.7 505.2h1.3v1.3h-1.3zM172.8 507.9h1.3v1.3h-1.3zM97.9 506.8h1.3v1.3h-1.3zM136.9 507.8h1.3v1.3h-1.3zM173.2 508.4h1.3v1.3h-1.3zM146.3 507.2h1.3v1.3h-1.3zM199.7 506.3h1.3v1.3h-1.3zM120.0 505.4h1.3v1.3h-1.3zM106.8 505.8h1.3v1.3h-1.3zM144.0 505.3h1.3v1.3h-1.3zM125.3 506.5h1.3v1.3h-1.3zM123.2 507.9h1.3v1.3h-1.3zM161.5 505.1h1.3v1.3h-1.3zM168.3 506.0h1.3v1.3h-1.3zM95.9 508.6h1.3v1.3h-1.3zM195.2 507.6h1.3v1.3h-1.3zM127.1 508.4h1.3v1.3h-1.3zM155.5 508.4h1.3v1.3h-1.3zM196.2 506.0h1.3v1.3h-1.3zM121.5 506.7h1.3v1.3h-1.3zM135.4 508.2h1.3v1.3h-1.3zM141.9 508.5h1.3v1.3h-1.3zM183.3 508.7h1.3v1.3h-1.3zM122.8 507.3h1.3v1.3h-1.3zM182.6 506.5h1.3v1.3h-1.3zM92.5 507.6h1.3v1.3h-1.3zM98.4 508.2h1.3v1.3h-1.3zM189.5 505.2h1.3v1.3h-1.3zM92.9 507.0h1.3v1.3h-1.3zM177.6 507.4h1.3v1.3h-1.3zM152.0 507.4h1.3v1.3h-1.3zM125.0 507.3h1.3v1.3h-1.3zM95.9 506.7h1.3v1.3h-1.3zM105.1 508.4h1.3v1.3h-1.3zM182.9 507.2h1.3v1.3h-1.3zM116.5 507.4h1.3v1.3h-1.3zM109.3 505.7h1.3v1.3h-1.3zM171.8 506.0h1.3v1.3h-1.3zM124.1 506.8h1.3v1.3h-1.3zM96.2 505.8h1.3v1.3h-1.3zM135.0 507.3h1.3v1.3h-1.3zM88.6 506.1h1.3v1.3h-1.3zM169.9 505.5h1.3v1.3h-1.3zM100.2 507.5h1.3v1.3h-1.3zM121.3 507.9h1.3v1.3h-1.3zM111.4 505.3h1.3v1.3h-1.3zM166.7 507.9h1.3v1.3h-1.3zM105.1 505.1h1.3v1.3h-1.3zM182.5 507.4h1.3v1.3h-1.3zM144.8 506.2h1.3v1.3h-1.3zM152.7 505.3h1.3v1.3h-1.3zM136.7 506.5h1.3v1.3h-1.3zM196.6 508.1h1.3v1.3h-1.3zM132.1 507.4h1.3v1.3h-1.3zM150.9 508.1h1.3v1.3h-1.3zM115.0 506.7h1.3v1.3h-1.3zM134.1 506.3h1.3v1.3h-1.3zM143.4 508.2h1.3v1.3h-1.3zM197.3 505.1h1.3v1.3h-1.3zM98.4 507.7h1.3v1.3h-1.3zM106.0 508.5h1.3v1.3h-1.3zM91.0 508.0h1.3v1.3h-1.3zM103.1 505.5h1.3v1.3h-1.3zM140.8 506.2h1.3v1.3h-1.3zM130.0 508.3h1.3v1.3h-1.3zM87.1 507.7h1.3v1.3h-1.3zM154.2 507.7h1.3v1.3h-1.3zM105.0 505.3h1.3v1.3h-1.3zM122.1 505.4h1.3v1.3h-1.3zM196.9 508.4h1.3v1.3h-1.3zM101.1 507.4h1.3v1.3h-1.3zM93.3 508.7h1.3v1.3h-1.3zM127.3 507.8h1.3v1.3h-1.3zM85.7 508.1h1.3v1.3h-1.3zM132.3 507.1h1.3v1.3h-1.3zM197.3 505.4h1.3v1.3h-1.3zM167.2 508.5h1.3v1.3h-1.3zM106.4 505.2h1.3v1.3h-1.3zM129.6 507.2h1.3v1.3h-1.3zM109.1 506.0h1.3v1.3h-1.3zM104.6 506.4h1.3v1.3h-1.3zM186.4 507.2h1.3v1.3h-1.3zM96.1 506.8h1.3v1.3h-1.3zM114.1 506.1h1.3v1.3h-1.3zM180.2 505.1h1.3v1.3h-1.3zM86.7 505.1h1.3v1.3h-1.3zM156.9 507.1h1.3v1.3h-1.3zM139.5 507.7h1.3v1.3h-1.3zM105.9 508.0h1.3v1.3h-1.3zM104.1 507.3h1.3v1.3h-1.3zM193.8 505.2h1.3v1.3h-1.3zM110.7 508.3h1.3v1.3h-1.3zM140.7 506.8h1.3v1.3h-1.3zM160.2 505.4h1.3v1.3h-1.3zM87.4 508.1h1.3v1.3h-1.3zM95.9 508.7h1.3v1.3h-1.3zM189.7 506.6h1.3v1.3h-1.3zM194.0 506.6h1.3v1.3h-1.3zM150.0 506.9h1.3v1.3h-1.3zM189.9 508.3h1.3v1.3h-1.3zM113.1 506.1h1.3v1.3h-1.3zM138.0 507.8h1.3v1.3h-1.3zM114.4 508.2h1.3v1.3h-1.3zM181.3 506.7h1.3v1.3h-1.3zM159.5 506.5h1.3v1.3h-1.3zM171.2 505.6h1.3v1.3h-1.3zM193.6 508.4h1.3v1.3h-1.3zM111.4 506.3h1.3v1.3h-1.3zM193.0 506.5h1.3v1.3h-1.3zM109.3 505.9h1.3v1.3h-1.3zM115.7 508.7h1.3v1.3h-1.3zM138.4 506.3h1.3v1.3h-1.3zM186.5 507.1h1.3v1.3h-1.3zM124.2 505.6h1.3v1.3h-1.3zM103.1 508.6h1.3v1.3h-1.3zM128.1 507.8h1.3v1.3h-1.3zM94.0 508.6h1.3v1.3h-1.3zM195.1 508.7h1.3v1.3h-1.3zM87.6 505.9h1.3v1.3h-1.3zM144.9 505.8h1.3v1.3h-1.3zM190.1 505.8h1.3v1.3h-1.3zM151.8 508.3h1.3v1.3h-1.3zM133.3 506.9h1.3v1.3h-1.3zM143.7 508.8h1.3v1.3h-1.3zM106.9 505.7h1.3v1.3h-1.3zM160.8 508.7h1.3v1.3h-1.3zM91.2 506.8h1.3v1.3h-1.3zM124.2 507.8h1.3v1.3h-1.3zM128.8 509.0h1.3v1.3h-1.3zM191.5 508.7h1.3v1.3h-1.3zM195.8 507.9h1.3v1.3h-1.3zM170.1 508.0h1.3v1.3h-1.3zM156.0 507.5h1.3v1.3h-1.3zM168.6 508.3h1.3v1.3h-1.3zM93.3 507.8h1.3v1.3h-1.3zM132.5 508.3h1.3v1.3h-1.3zM97.2 507.6h1.3v1.3h-1.3zM194.7 506.8h1.3v1.3h-1.3zM123.6 507.9h1.3v1.3h-1.3z" fill="#a6a6a6"/>
<path d="M111.3 484.1h1.6v1.6h-1.6zM77.0 484.8h1.6v1.6h-1.6zM103.5 499.1h1.6v1.6h-1.6zM95.3 481.9h1.6v1.6h-1.6zM103.1 433.4h1.6v1.6h-1.6zM114.8 501.5h1.6v1.6h-1.6zM103.4 486.7h1.6v1.6h-1.6zM113.2 498.9h1.6v1.6h-1.6zM106.3 495.0h1.6v1.6h-1.6zM108.8 488.6h1.6v1.6h-1.6zM114.9 493.3h1.6v1.6h-1.6zM93.2 501.9h1.6v1.6h-1.6zM93.1 388.9h1.6v1.6h-1.6zM94.7 451.2h1.6v1.6h-1.6zM118.2 486.2h1.6v1.6h-1.6zM97.3 496.0h1.6v1.6h-1.6zM110.2 500.9h1.6v1.6h-1.6zM104.1 480.2h1.6v1.6h-1.6zM110.8 468.8h1.6v1.6h-1.6zM115.1 489.0h1.6v1.6h-1.6zM85.5 477.7h1.6v1.6h-1.6zM87.1 494.7h1.6v1.6h-1.6zM120.9 498.9h1.6v1.6h-1.6zM79.1 427.5h1.6v1.6h-1.6zM119.2 499.6h1.6v1.6h-1.6zM83.3 482.8h1.6v1.6h-1.6zM115.6 500.9h1.6v1.6h-1.6zM117.7 497.2h1.6v1.6h-1.6zM94.7 398.2h1.6v1.6h-1.6zM67.0 491.5h1.6v1.6h-1.6zM118.9 493.0h1.6v1.6h-1.6zM89.9 405.9h1.6v1.6h-1.6zM122.4 493.2h1.6v1.6h-1.6zM120.9 489.2h1.6v1.6h-1.6zM106.5 499.4h1.6v1.6h-1.6zM110.3 484.2h1.6v1.6h-1.6zM74.2 478.9h1.6v1.6h-1.6zM111.0 483.0h1.6v1.6h-1.6zM86.7 497.1h1.6v1.6h-1.6zM101.5 488.3h1.6v1.6h-1.6zM118.9 483.8h1.6v1.6h-1.6zM96.7 483.1h1.6v1.6h-1.6zM111.4 489.1h1.6v1.6h-1.6zM65.9 480.3h1.6v1.6h-1.6zM108.1 503.2h1.6v1.6h-1.6zM108.0 487.3h1.6v1.6h-1.6zM103.5 445.6h1.6v1.6h-1.6zM117.8 482.5h1.6v1.6h-1.6zM104.7 490.6h1.6v1.6h-1.6zM77.2 482.2h1.6v1.6h-1.6zM110.0 484.5h1.6v1.6h-1.6zM109.2 479.8h1.6v1.6h-1.6zM103.3 497.6h1.6v1.6h-1.6zM102.2 471.1h1.6v1.6h-1.6zM106.7 484.4h1.6v1.6h-1.6zM106.3 469.7h1.6v1.6h-1.6zM98.6 491.5h1.6v1.6h-1.6zM121.0 499.6h1.6v1.6h-1.6zM99.9 439.2h1.6v1.6h-1.6zM98.7 497.5h1.6v1.6h-1.6zM121.5 499.9h1.6v1.6h-1.6zM101.9 483.6h1.6v1.6h-1.6zM112.1 497.2h1.6v1.6h-1.6zM85.0 457.6h1.6v1.6h-1.6zM122.8 494.2h1.6v1.6h-1.6zM95.9 495.9h1.6v1.6h-1.6zM79.9 497.1h1.6v1.6h-1.6zM118.5 486.2h1.6v1.6h-1.6zM85.6 497.8h1.6v1.6h-1.6zM118.2 489.8h1.6v1.6h-1.6zM66.6 482.2h1.6v1.6h-1.6zM84.2 503.3h1.6v1.6h-1.6zM113.6 484.5h1.6v1.6h-1.6zM113.8 498.7h1.6v1.6h-1.6zM67.1 489.4h1.6v1.6h-1.6zM117.9 486.7h1.6v1.6h-1.6zM97.2 497.9h1.6v1.6h-1.6zM98.3 500.9h1.6v1.6h-1.6zM119.6 499.1h1.6v1.6h-1.6zM78.7 487.3h1.6v1.6h-1.6zM104.3 491.6h1.6v1.6h-1.6zM85.0 495.4h1.6v1.6h-1.6zM82.4 502.8h1.6v1.6h-1.6zM108.3 445.3h1.6v1.6h-1.6zM113.4 470.4h1.6v1.6h-1.6zM117.1 485.8h1.6v1.6h-1.6zM95.1 496.1h1.6v1.6h-1.6zM100.3 498.7h1.6v1.6h-1.6zM113.6 487.8h1.6v1.6h-1.6zM63.6 489.3h1.6v1.6h-1.6zM91.7 496.7h1.6v1.6h-1.6zM116.1 483.2h1.6v1.6h-1.6zM122.7 496.5h1.6v1.6h-1.6zM113.1 496.6h1.6v1.6h-1.6zM108.5 488.6h1.6v1.6h-1.6zM114.8 496.2h1.6v1.6h-1.6zM100.1 501.0h1.6v1.6h-1.6zM109.7 482.0h1.6v1.6h-1.6zM110.0 497.3h1.6v1.6h-1.6zM97.0 500.8h1.6v1.6h-1.6zM104.5 496.6h1.6v1.6h-1.6zM104.0 478.6h1.6v1.6h-1.6zM107.4 485.6h1.6v1.6h-1.6zM109.1 447.7h1.6v1.6h-1.6zM105.7 493.3h1.6v1.6h-1.6zM88.5 467.6h1.6v1.6h-1.6zM101.9 501.0h1.6v1.6h-1.6zM83.4 499.8h1.6v1.6h-1.6zM111.5 480.7h1.6v1.6h-1.6zM102.7 492.4h1.6v1.6h-1.6zM73.1 450.4h1.6v1.6h-1.6zM98.7 481.8h1.6v1.6h-1.6zM78.3 466.5h1.6v1.6h-1.6zM94.7 465.6h1.6v1.6h-1.6zM114.3 486.6h1.6v1.6h-1.6zM74.5 498.5h1.6v1.6h-1.6zM97.1 473.3h1.6v1.6h-1.6zM108.5 459.8h1.6v1.6h-1.6zM112.9 481.6h1.6v1.6h-1.6zM99.6 496.4h1.6v1.6h-1.6zM112.8 473.8h1.6v1.6h-1.6zM101.9 498.4h1.6v1.6h-1.6zM105.6 468.7h1.6v1.6h-1.6zM117.2 501.5h1.6v1.6h-1.6zM104.3 453.3h1.6v1.6h-1.6zM119.9 499.9h1.6v1.6h-1.6zM108.0 500.7h1.6v1.6h-1.6zM111.2 488.1h1.6v1.6h-1.6zM95.6 490.8h1.6v1.6h-1.6zM112.7 496.0h1.6v1.6h-1.6zM79.2 437.0h1.6v1.6h-1.6zM93.2 496.8h1.6v1.6h-1.6zM99.4 503.6h1.6v1.6h-1.6zM104.2 462.2h1.6v1.6h-1.6zM105.8 497.3h1.6v1.6h-1.6zM86.5 477.5h1.6v1.6h-1.6zM96.7 473.6h1.6v1.6h-1.6zM93.3 480.6h1.6v1.6h-1.6zM119.7 498.7h1.6v1.6h-1.6zM98.1 496.1h1.6v1.6h-1.6zM79.7 484.0h1.6v1.6h-1.6zM107.4 469.0h1.6v1.6h-1.6zM95.9 502.1h1.6v1.6h-1.6zM113.3 491.1h1.6v1.6h-1.6zM116.6 481.8h1.6v1.6h-1.6zM105.5 494.2h1.6v1.6h-1.6zM113.3 501.0h1.6v1.6h-1.6zM87.5 492.0h1.6v1.6h-1.6zM119.0 483.9h1.6v1.6h-1.6zM97.4 497.5h1.6v1.6h-1.6zM114.8 495.3h1.6v1.6h-1.6zM72.2 496.6h1.6v1.6h-1.6zM114.2 475.0h1.6v1.6h-1.6zM107.8 494.3h1.6v1.6h-1.6zM114.9 493.6h1.6v1.6h-1.6zM114.2 479.8h1.6v1.6h-1.6zM99.9 490.3h1.6v1.6h-1.6zM111.5 484.2h1.6v1.6h-1.6zM125.9 504.1h1.6v1.6h-1.6zM81.3 495.2h1.6v1.6h-1.6zM101.4 479.8h1.6v1.6h-1.6zM109.6 500.9h1.6v1.6h-1.6zM84.9 490.1h1.6v1.6h-1.6zM89.9 410.6h1.6v1.6h-1.6zM62.7 493.0h1.6v1.6h-1.6zM99.0 493.5h1.6v1.6h-1.6zM106.0 444.6h1.6v1.6h-1.6zM90.2 489.9h1.6v1.6h-1.6zM104.6 504.2h1.6v1.6h-1.6zM97.7 500.9h1.6v1.6h-1.6zM100.4 485.5h1.6v1.6h-1.6zM110.8 478.1h1.6v1.6h-1.6zM102.8 426.6h1.6v1.6h-1.6zM116.5 494.6h1.6v1.6h-1.6zM73.4 478.7h1.6v1.6h-1.6zM97.9 497.4h1.6v1.6h-1.6zM99.4 504.0h1.6v1.6h-1.6zM77.7 496.1h1.6v1.6h-1.6zM78.9 486.0h1.6v1.6h-1.6zM97.4 498.2h1.6v1.6h-1.6zM97.9 488.5h1.6v1.6h-1.6zM81.9 473.1h1.6v1.6h-1.6zM115.2 496.7h1.6v1.6h-1.6zM69.8 487.5h1.6v1.6h-1.6zM120.1 500.3h1.6v1.6h-1.6zM96.1 487.5h1.6v1.6h-1.6zM115.8 494.2h1.6v1.6h-1.6zM89.9 448.3h1.6v1.6h-1.6zM98.4 504.0h1.6v1.6h-1.6zM77.7 449.3h1.6v1.6h-1.6zM90.1 486.1h1.6v1.6h-1.6zM94.1 475.6h1.6v1.6h-1.6zM111.0 486.5h1.6v1.6h-1.6zM90.3 491.5h1.6v1.6h-1.6zM109.3 489.0h1.6v1.6h-1.6zM107.5 479.4h1.6v1.6h-1.6zM120.2 500.2h1.6v1.6h-1.6zM67.3 490.2h1.6v1.6h-1.6zM91.0 490.5h1.6v1.6h-1.6zM83.1 498.0h1.6v1.6h-1.6zM93.5 504.5h1.6v1.6h-1.6zM116.0 494.5h1.6v1.6h-1.6zM99.5 460.5h1.6v1.6h-1.6zM109.7 469.7h1.6v1.6h-1.6zM85.5 473.2h1.6v1.6h-1.6zM113.7 504.5h1.6v1.6h-1.6zM104.8 503.5h1.6v1.6h-1.6zM96.0 497.5h1.6v1.6h-1.6zM100.1 397.9h1.6v1.6h-1.6zM89.1 485.4h1.6v1.6h-1.6zM79.3 502.1h1.6v1.6h-1.6zM104.0 503.6h1.6v1.6h-1.6zM96.8 497.2h1.6v1.6h-1.6zM104.9 493.1h1.6v1.6h-1.6zM107.7 496.9h1.6v1.6h-1.6zM102.3 498.5h1.6v1.6h-1.6zM89.8 486.8h1.6v1.6h-1.6zM118.0 481.4h1.6v1.6h-1.6zM99.4 489.0h1.6v1.6h-1.6zM113.4 475.6h1.6v1.6h-1.6zM83.3 468.2h1.6v1.6h-1.6zM81.9 480.6h1.6v1.6h-1.6zM113.5 472.7h1.6v1.6h-1.6zM109.1 476.2h1.6v1.6h-1.6zM114.9 486.3h1.6v1.6h-1.6zM118.5 483.3h1.6v1.6h-1.6zM67.9 484.8h1.6v1.6h-1.6zM88.0 430.8h1.6v1.6h-1.6zM118.0 488.9h1.6v1.6h-1.6zM113.1 490.2h1.6v1.6h-1.6zM124.2 504.0h1.6v1.6h-1.6zM68.8 488.4h1.6v1.6h-1.6zM108.7 501.7h1.6v1.6h-1.6zM102.6 498.5h1.6v1.6h-1.6zM100.6 490.4h1.6v1.6h-1.6zM100.0 464.4h1.6v1.6h-1.6zM91.3 428.7h1.6v1.6h-1.6zM98.0 456.2h1.6v1.6h-1.6zM117.3 485.7h1.6v1.6h-1.6zM92.3 502.9h1.6v1.6h-1.6zM90.7 450.9h1.6v1.6h-1.6zM113.6 487.3h1.6v1.6h-1.6zM115.6 492.4h1.6v1.6h-1.6zM113.0 491.6h1.6v1.6h-1.6zM112.3 489.6h1.6v1.6h-1.6zM77.9 461.7h1.6v1.6h-1.6zM94.9 485.7h1.6v1.6h-1.6zM108.2 491.8h1.6v1.6h-1.6zM92.5 493.6h1.6v1.6h-1.6zM122.7 500.2h1.6v1.6h-1.6zM111.0 495.1h1.6v1.6h-1.6zM89.9 493.2h1.6v1.6h-1.6zM69.5 491.3h1.6v1.6h-1.6zM116.7 481.3h1.6v1.6h-1.6zM108.7 476.7h1.6v1.6h-1.6zM73.6 497.2h1.6v1.6h-1.6zM101.7 486.1h1.6v1.6h-1.6zM86.7 499.7h1.6v1.6h-1.6zM121.2 493.2h1.6v1.6h-1.6zM65.8 481.6h1.6v1.6h-1.6zM93.8 504.3h1.6v1.6h-1.6zM114.7 473.2h1.6v1.6h-1.6zM99.7 499.7h1.6v1.6h-1.6zM118.6 488.6h1.6v1.6h-1.6zM95.6 473.9h1.6v1.6h-1.6zM83.8 479.0h1.6v1.6h-1.6zM67.6 486.7h1.6v1.6h-1.6zM102.4 463.1h1.6v1.6h-1.6zM111.1 498.5h1.6v1.6h-1.6zM92.0 495.3h1.6v1.6h-1.6zM113.9 483.0h1.6v1.6h-1.6zM106.2 409.5h1.6v1.6h-1.6zM105.5 482.0h1.6v1.6h-1.6zM86.6 498.1h1.6v1.6h-1.6zM124.3 500.1h1.6v1.6h-1.6zM116.4 488.3h1.6v1.6h-1.6zM125.1 502.4h1.6v1.6h-1.6zM113.0 504.6h1.6v1.6h-1.6zM108.8 490.6h1.6v1.6h-1.6zM123.9 503.8h1.6v1.6h-1.6zM118.7 496.5h1.6v1.6h-1.6zM111.3 496.2h1.6v1.6h-1.6zM97.9 489.7h1.6v1.6h-1.6zM93.9 502.1h1.6v1.6h-1.6zM106.8 432.6h1.6v1.6h-1.6zM117.6 487.1h1.6v1.6h-1.6zM109.6 474.2h1.6v1.6h-1.6zM84.6 438.6h1.6v1.6h-1.6zM108.1 500.5h1.6v1.6h-1.6zM84.6 466.3h1.6v1.6h-1.6zM117.9 491.6h1.6v1.6h-1.6zM107.7 483.5h1.6v1.6h-1.6zM82.5 501.9h1.6v1.6h-1.6zM100.7 383.1h1.6v1.6h-1.6zM98.4 485.0h1.6v1.6h-1.6zM104.2 502.2h1.6v1.6h-1.6zM104.8 491.1h1.6v1.6h-1.6zM110.9 498.1h1.6v1.6h-1.6zM97.8 491.1h1.6v1.6h-1.6zM99.1 499.6h1.6v1.6h-1.6zM105.6 490.8h1.6v1.6h-1.6zM118.9 491.7h1.6v1.6h-1.6zM114.2 499.4h1.6v1.6h-1.6zM88.5 501.6h1.6v1.6h-1.6zM110.3 498.9h1.6v1.6h-1.6zM96.0 491.3h1.6v1.6h-1.6zM97.6 405.2h1.6v1.6h-1.6zM104.5 492.7h1.6v1.6h-1.6zM112.9 488.7h1.6v1.6h-1.6zM85.2 496.4h1.6v1.6h-1.6zM98.0 490.3h1.6v1.6h-1.6zM103.1 495.7h1.6v1.6h-1.6zM110.7 464.5h1.6v1.6h-1.6zM114.7 475.4h1.6v1.6h-1.6zM105.3 488.4h1.6v1.6h-1.6zM120.2 487.4h1.6v1.6h-1.6zM115.9 476.3h1.6v1.6h-1.6zM102.6 502.3h1.6v1.6h-1.6zM84.9 498.7h1.6v1.6h-1.6zM121.6 502.6h1.6v1.6h-1.6zM116.2 485.9h1.6v1.6h-1.6zM119.3 502.9h1.6v1.6h-1.6zM117.0 499.4h1.6v1.6h-1.6zM93.5 487.5h1.6v1.6h-1.6zM113.5 491.8h1.6v1.6h-1.6zM79.9 475.4h1.6v1.6h-1.6zM91.3 504.2h1.6v1.6h-1.6zM111.7 499.8h1.6v1.6h-1.6zM122.2 494.9h1.6v1.6h-1.6zM67.4 488.4h1.6v1.6h-1.6zM98.4 467.8h1.6v1.6h-1.6zM107.5 450.5h1.6v1.6h-1.6zM117.9 492.2h1.6v1.6h-1.6zM78.7 486.6h1.6v1.6h-1.6zM90.3 500.6h1.6v1.6h-1.6zM101.0 454.9h1.6v1.6h-1.6zM113.7 502.2h1.6v1.6h-1.6zM77.8 451.7h1.6v1.6h-1.6zM99.2 402.6h1.6v1.6h-1.6zM86.0 484.7h1.6v1.6h-1.6zM100.5 374.9h1.6v1.6h-1.6zM117.5 481.0h1.6v1.6h-1.6zM100.2 503.8h1.6v1.6h-1.6zM85.9 494.9h1.6v1.6h-1.6zM102.7 499.2h1.6v1.6h-1.6zM109.8 465.2h1.6v1.6h-1.6zM97.6 491.2h1.6v1.6h-1.6zM109.5 488.7h1.6v1.6h-1.6zM118.9 493.3h1.6v1.6h-1.6zM100.5 501.1h1.6v1.6h-1.6zM91.5 490.1h1.6v1.6h-1.6zM101.0 490.6h1.6v1.6h-1.6zM106.8 488.1h1.6v1.6h-1.6zM103.7 494.5h1.6v1.6h-1.6zM100.8 503.8h1.6v1.6h-1.6zM123.7 499.3h1.6v1.6h-1.6zM85.9 497.1h1.6v1.6h-1.6zM103.6 428.7h1.6v1.6h-1.6zM103.9 482.5h1.6v1.6h-1.6zM113.0 489.9h1.6v1.6h-1.6zM101.0 494.3h1.6v1.6h-1.6zM92.4 468.0h1.6v1.6h-1.6zM112.7 494.2h1.6v1.6h-1.6zM69.4 474.8h1.6v1.6h-1.6zM106.8 441.8h1.6v1.6h-1.6zM73.0 474.2h1.6v1.6h-1.6zM109.4 494.9h1.6v1.6h-1.6zM74.1 491.6h1.6v1.6h-1.6zM112.5 495.7h1.6v1.6h-1.6zM77.9 482.9h1.6v1.6h-1.6zM87.7 503.9h1.6v1.6h-1.6zM107.6 477.2h1.6v1.6h-1.6zM76.0 460.0h1.6v1.6h-1.6zM79.0 424.9h1.6v1.6h-1.6zM114.3 490.5h1.6v1.6h-1.6zM99.8 483.8h1.6v1.6h-1.6zM112.3 500.2h1.6v1.6h-1.6zM69.2 493.7h1.6v1.6h-1.6zM90.4 379.3h1.6v1.6h-1.6zM100.0 496.9h1.6v1.6h-1.6zM105.3 502.4h1.6v1.6h-1.6zM116.1 504.0h1.6v1.6h-1.6zM112.0 498.5h1.6v1.6h-1.6zM121.6 500.3h1.6v1.6h-1.6zM80.6 471.3h1.6v1.6h-1.6zM116.3 503.3h1.6v1.6h-1.6zM90.3 460.4h1.6v1.6h-1.6zM100.9 497.9h1.6v1.6h-1.6zM100.6 498.1h1.6v1.6h-1.6zM86.7 451.0h1.6v1.6h-1.6zM97.8 493.0h1.6v1.6h-1.6zM113.9 498.2h1.6v1.6h-1.6zM98.6 491.9h1.6v1.6h-1.6zM78.4 481.4h1.6v1.6h-1.6zM72.8 462.9h1.6v1.6h-1.6zM106.0 483.7h1.6v1.6h-1.6zM96.3 481.9h1.6v1.6h-1.6zM108.8 469.2h1.6v1.6h-1.6zM106.7 504.1h1.6v1.6h-1.6zM124.2 498.3h1.6v1.6h-1.6zM118.8 496.7h1.6v1.6h-1.6zM77.0 497.2h1.6v1.6h-1.6zM101.5 490.9h1.6v1.6h-1.6zM89.3 485.3h1.6v1.6h-1.6zM103.8 489.5h1.6v1.6h-1.6zM98.5 503.0h1.6v1.6h-1.6zM103.9 485.9h1.6v1.6h-1.6zM105.8 488.3h1.6v1.6h-1.6zM78.3 501.6h1.6v1.6h-1.6zM106.4 478.5h1.6v1.6h-1.6zM103.9 491.1h1.6v1.6h-1.6zM105.4 477.3h1.6v1.6h-1.6zM121.0 490.3h1.6v1.6h-1.6zM93.1 463.6h1.6v1.6h-1.6zM92.2 473.2h1.6v1.6h-1.6zM112.8 502.6h1.6v1.6h-1.6zM107.7 462.5h1.6v1.6h-1.6zM85.8 482.1h1.6v1.6h-1.6zM109.4 483.1h1.6v1.6h-1.6zM107.8 472.1h1.6v1.6h-1.6zM115.6 479.4h1.6v1.6h-1.6zM86.9 501.0h1.6v1.6h-1.6zM100.3 496.1h1.6v1.6h-1.6zM100.8 480.3h1.6v1.6h-1.6zM116.9 501.7h1.6v1.6h-1.6zM111.2 493.7h1.6v1.6h-1.6zM116.1 489.6h1.6v1.6h-1.6zM86.2 502.3h1.6v1.6h-1.6zM97.8 466.1h1.6v1.6h-1.6zM89.3 504.1h1.6v1.6h-1.6zM82.1 492.5h1.6v1.6h-1.6zM92.0 493.3h1.6v1.6h-1.6zM103.4 495.5h1.6v1.6h-1.6zM112.0 489.2h1.6v1.6h-1.6zM87.0 475.2h1.6v1.6h-1.6zM88.7 499.8h1.6v1.6h-1.6zM102.6 452.6h1.6v1.6h-1.6zM108.1 497.3h1.6v1.6h-1.6zM81.2 500.0h1.6v1.6h-1.6zM75.8 493.1h1.6v1.6h-1.6zM93.4 498.3h1.6v1.6h-1.6zM119.3 504.5h1.6v1.6h-1.6zM106.7 423.3h1.6v1.6h-1.6zM105.0 495.9h1.6v1.6h-1.6zM86.6 493.1h1.6v1.6h-1.6zM86.6 481.1h1.6v1.6h-1.6zM95.6 496.4h1.6v1.6h-1.6zM92.0 500.2h1.6v1.6h-1.6zM69.0 481.7h1.6v1.6h-1.6zM95.1 504.3h1.6v1.6h-1.6zM96.6 498.1h1.6v1.6h-1.6zM97.3 480.9h1.6v1.6h-1.6zM100.1 488.1h1.6v1.6h-1.6zM77.8 473.9h1.6v1.6h-1.6zM112.3 488.5h1.6v1.6h-1.6zM96.5 490.7h1.6v1.6h-1.6zM111.0 495.0h1.6v1.6h-1.6zM101.4 488.2h1.6v1.6h-1.6zM115.1 481.1h1.6v1.6h-1.6zM120.6 499.8h1.6v1.6h-1.6zM97.7 500.7h1.6v1.6h-1.6zM86.2 493.4h1.6v1.6h-1.6zM104.9 463.3h1.6v1.6h-1.6zM74.9 495.0h1.6v1.6h-1.6zM96.3 410.2h1.6v1.6h-1.6zM117.8 489.9h1.6v1.6h-1.6zM93.1 470.6h1.6v1.6h-1.6zM93.1 418.7h1.6v1.6h-1.6zM99.7 455.3h1.6v1.6h-1.6zM120.7 488.8h1.6v1.6h-1.6zM81.2 493.6h1.6v1.6h-1.6zM82.5 500.5h1.6v1.6h-1.6zM80.6 483.8h1.6v1.6h-1.6zM94.8 499.4h1.6v1.6h-1.6zM92.8 497.8h1.6v1.6h-1.6zM111.7 465.3h1.6v1.6h-1.6zM110.2 478.5h1.6v1.6h-1.6zM109.2 439.6h1.6v1.6h-1.6zM103.5 467.3h1.6v1.6h-1.6zM109.1 484.3h1.6v1.6h-1.6zM95.7 502.7h1.6v1.6h-1.6zM107.4 482.2h1.6v1.6h-1.6zM112.3 465.9h1.6v1.6h-1.6zM98.9 477.4h1.6v1.6h-1.6zM116.4 503.6h1.6v1.6h-1.6zM94.6 503.3h1.6v1.6h-1.6zM108.7 470.5h1.6v1.6h-1.6zM102.0 464.5h1.6v1.6h-1.6zM114.1 494.9h1.6v1.6h-1.6zM113.5 495.2h1.6v1.6h-1.6zM97.6 495.2h1.6v1.6h-1.6zM115.7 484.5h1.6v1.6h-1.6zM99.0 499.4h1.6v1.6h-1.6zM89.3 490.2h1.6v1.6h-1.6zM111.3 490.8h1.6v1.6h-1.6zM102.9 498.8h1.6v1.6h-1.6zM111.3 485.4h1.6v1.6h-1.6zM113.2 503.6h1.6v1.6h-1.6zM116.5 486.9h1.6v1.6h-1.6zM84.0 484.1h1.6v1.6h-1.6zM72.6 482.2h1.6v1.6h-1.6zM90.4 494.2h1.6v1.6h-1.6zM82.4 482.4h1.6v1.6h-1.6zM111.0 485.1h1.6v1.6h-1.6zM119.4 503.5h1.6v1.6h-1.6zM122.4 499.1h1.6v1.6h-1.6zM117.0 504.2h1.6v1.6h-1.6zM113.8 479.3h1.6v1.6h-1.6zM107.5 478.1h1.6v1.6h-1.6zM91.4 466.8h1.6v1.6h-1.6zM114.7 490.8h1.6v1.6h-1.6zM85.7 477.0h1.6v1.6h-1.6zM86.0 494.8h1.6v1.6h-1.6zM119.2 494.3h1.6v1.6h-1.6zM107.9 503.3h1.6v1.6h-1.6zM87.7 475.5h1.6v1.6h-1.6zM110.7 483.1h1.6v1.6h-1.6zM117.5 489.2h1.6v1.6h-1.6zM78.9 467.8h1.6v1.6h-1.6zM87.1 485.3h1.6v1.6h-1.6zM94.3 503.6h1.6v1.6h-1.6zM88.9 504.2h1.6v1.6h-1.6zM96.0 441.8h1.6v1.6h-1.6zM119.6 501.3h1.6v1.6h-1.6zM84.7 489.3h1.6v1.6h-1.6zM111.9 475.7h1.6v1.6h-1.6zM101.4 504.2h1.6v1.6h-1.6zM105.9 489.3h1.6v1.6h-1.6zM87.6 454.8h1.6v1.6h-1.6zM116.1 497.4h1.6v1.6h-1.6zM119.7 489.3h1.6v1.6h-1.6zM110.9 502.5h1.6v1.6h-1.6zM101.1 464.0h1.6v1.6h-1.6zM106.7 491.7h1.6v1.6h-1.6zM114.5 503.9h1.6v1.6h-1.6zM84.8 477.5h1.6v1.6h-1.6zM120.3 487.9h1.6v1.6h-1.6zM120.4 488.8h1.6v1.6h-1.6zM108.9 486.9h1.6v1.6h-1.6zM89.7 462.1h1.6v1.6h-1.6zM106.9 434.1h1.6v1.6h-1.6zM108.0 457.8h1.6v1.6h-1.6zM77.2 495.5h1.6v1.6h-1.6zM95.2 481.7h1.6v1.6h-1.6zM113.1 491.2h1.6v1.6h-1.6zM99.6 486.2h1.6v1.6h-1.6zM118.2 499.7h1.6v1.6h-1.6zM113.3 500.8h1.6v1.6h-1.6zM90.5 496.7h1.6v1.6h-1.6zM105.8 483.3h1.6v1.6h-1.6zM112.5 498.9h1.6v1.6h-1.6zM86.6 483.5h1.6v1.6h-1.6zM96.2 480.9h1.6v1.6h-1.6zM110.7 478.6h1.6v1.6h-1.6zM85.8 495.1h1.6v1.6h-1.6zM107.6 499.0h1.6v1.6h-1.6zM83.6 446.5h1.6v1.6h-1.6zM111.3 496.0h1.6v1.6h-1.6zM100.7 498.1h1.6v1.6h-1.6zM119.2 491.0h1.6v1.6h-1.6zM95.7 433.0h1.6v1.6h-1.6zM83.8 492.9h1.6v1.6h-1.6zM70.3 479.9h1.6v1.6h-1.6zM104.7 492.4h1.6v1.6h-1.6zM104.4 498.4h1.6v1.6h-1.6zM118.0 502.2h1.6v1.6h-1.6zM108.8 488.9h1.6v1.6h-1.6zM71.7 457.4h1.6v1.6h-1.6zM110.7 500.0h1.6v1.6h-1.6zM103.6 456.6h1.6v1.6h-1.6zM111.1 469.6h1.6v1.6h-1.6zM91.3 472.1h1.6v1.6h-1.6zM94.7 403.3h1.6v1.6h-1.6zM114.4 495.7h1.6v1.6h-1.6zM89.2 417.4h1.6v1.6h-1.6zM106.0 482.5h1.6v1.6h-1.6zM112.9 499.9h1.6v1.6h-1.6zM114.2 492.7h1.6v1.6h-1.6zM99.1 501.8h1.6v1.6h-1.6zM86.2 504.5h1.6v1.6h-1.6zM113.8 485.6h1.6v1.6h-1.6zM116.1 504.4h1.6v1.6h-1.6zM89.7 496.1h1.6v1.6h-1.6zM93.4 496.0h1.6v1.6h-1.6zM68.8 487.4h1.6v1.6h-1.6zM106.4 496.4h1.6v1.6h-1.6zM111.5 487.9h1.6v1.6h-1.6zM90.2 494.5h1.6v1.6h-1.6zM112.7 469.2h1.6v1.6h-1.6zM105.6 504.1h1.6v1.6h-1.6zM91.5 458.8h1.6v1.6h-1.6zM95.9 464.6h1.6v1.6h-1.6zM113.7 482.5h1.6v1.6h-1.6zM65.2 483.0h1.6v1.6h-1.6zM100.3 377.6h1.6v1.6h-1.6zM76.4 492.7h1.6v1.6h-1.6zM108.3 452.7h1.6v1.6h-1.6zM123.9 500.6h1.6v1.6h-1.6zM112.2 502.3h1.6v1.6h-1.6zM84.4 489.8h1.6v1.6h-1.6zM91.1 494.6h1.6v1.6h-1.6zM92.6 499.0h1.6v1.6h-1.6zM110.2 484.7h1.6v1.6h-1.6zM102.9 501.4h1.6v1.6h-1.6zM114.2 497.2h1.6v1.6h-1.6zM112.4 483.9h1.6v1.6h-1.6zM70.5 494.1h1.6v1.6h-1.6zM90.7 391.9h1.6v1.6h-1.6zM76.4 481.3h1.6v1.6h-1.6zM82.0 450.3h1.6v1.6h-1.6zM106.2 457.5h1.6v1.6h-1.6zM102.7 474.0h1.6v1.6h-1.6zM85.5 502.7h1.6v1.6h-1.6zM89.7 502.4h1.6v1.6h-1.6zM121.8 498.9h1.6v1.6h-1.6zM68.6 491.8h1.6v1.6h-1.6zM109.4 482.2h1.6v1.6h-1.6zM116.9 493.0h1.6v1.6h-1.6zM108.1 496.1h1.6v1.6h-1.6zM113.0 499.3h1.6v1.6h-1.6zM95.5 500.2h1.6v1.6h-1.6zM88.9 476.9h1.6v1.6h-1.6zM119.1 486.4h1.6v1.6h-1.6zM122.6 495.1h1.6v1.6h-1.6zM91.4 492.4h1.6v1.6h-1.6zM105.8 498.9h1.6v1.6h-1.6zM109.3 497.8h1.6v1.6h-1.6zM115.1 490.0h1.6v1.6h-1.6zM90.2 492.7h1.6v1.6h-1.6zM99.8 500.3h1.6v1.6h-1.6zM108.5 485.4h1.6v1.6h-1.6zM110.3 489.6h1.6v1.6h-1.6zM96.5 446.4h1.6v1.6h-1.6zM90.3 494.9h1.6v1.6h-1.6zM105.6 501.0h1.6v1.6h-1.6zM116.9 482.1h1.6v1.6h-1.6zM82.7 503.8h1.6v1.6h-1.6zM116.7 489.2h1.6v1.6h-1.6zM111.8 489.9h1.6v1.6h-1.6zM118.1 483.6h1.6v1.6h-1.6zM92.0 454.9h1.6v1.6h-1.6zM79.4 448.7h1.6v1.6h-1.6zM115.3 480.4h1.6v1.6h-1.6zM104.3 496.5h1.6v1.6h-1.6zM111.8 489.5h1.6v1.6h-1.6zM100.0 402.4h1.6v1.6h-1.6zM111.6 483.5h1.6v1.6h-1.6zM113.0 501.1h1.6v1.6h-1.6zM97.5 501.1h1.6v1.6h-1.6zM117.6 480.2h1.6v1.6h-1.6zM121.8 495.1h1.6v1.6h-1.6zM107.6 455.4h1.6v1.6h-1.6zM103.5 420.8h1.6v1.6h-1.6zM74.5 487.7h1.6v1.6h-1.6zM98.4 491.9h1.6v1.6h-1.6zM115.8 498.6h1.6v1.6h-1.6zM122.7 500.2h1.6v1.6h-1.6zM120.7 492.9h1.6v1.6h-1.6zM84.4 502.4h1.6v1.6h-1.6zM103.6 479.0h1.6v1.6h-1.6zM102.2 491.2h1.6v1.6h-1.6zM101.5 504.2h1.6v1.6h-1.6zM114.8 477.0h1.6v1.6h-1.6zM121.1 497.0h1.6v1.6h-1.6zM99.1 470.0h1.6v1.6h-1.6zM85.8 470.7h1.6v1.6h-1.6zM111.6 491.5h1.6v1.6h-1.6zM113.3 501.3h1.6v1.6h-1.6zM109.9 494.2h1.6v1.6h-1.6zM109.5 496.2h1.6v1.6h-1.6zM70.0 481.4h1.6v1.6h-1.6zM89.7 491.9h1.6v1.6h-1.6zM96.4 503.3h1.6v1.6h-1.6zM63.8 488.9h1.6v1.6h-1.6zM111.4 492.5h1.6v1.6h-1.6zM104.3 504.5h1.6v1.6h-1.6zM78.3 494.0h1.6v1.6h-1.6zM104.4 501.1h1.6v1.6h-1.6zM94.3 487.5h1.6v1.6h-1.6zM100.6 489.5h1.6v1.6h-1.6zM108.9 499.3h1.6v1.6h-1.6zM109.7 494.7h1.6v1.6h-1.6zM113.1 499.5h1.6v1.6h-1.6zM81.5 502.2h1.6v1.6h-1.6zM90.1 502.8h1.6v1.6h-1.6zM81.1 478.5h1.6v1.6h-1.6zM101.1 499.3h1.6v1.6h-1.6zM104.1 502.7h1.6v1.6h-1.6zM109.5 484.1h1.6v1.6h-1.6zM99.8 492.8h1.6v1.6h-1.6zM116.4 484.3h1.6v1.6h-1.6zM102.1 497.7h1.6v1.6h-1.6zM97.1 473.8h1.6v1.6h-1.6zM95.4 487.4h1.6v1.6h-1.6zM89.2 500.2h1.6v1.6h-1.6zM98.2 488.6h1.6v1.6h-1.6zM91.0 503.3h1.6v1.6h-1.6zM98.5 491.9h1.6v1.6h-1.6zM77.6 489.3h1.6v1.6h-1.6zM78.9 500.5h1.6v1.6h-1.6zM97.4 500.2h1.6v1.6h-1.6zM107.6 480.4h1.6v1.6h-1.6zM112.8 464.5h1.6v1.6h-1.6zM111.7 502.4h1.6v1.6h-1.6zM99.3 491.1h1.6v1.6h-1.6zM69.5 493.2h1.6v1.6h-1.6zM110.3 484.0h1.6v1.6h-1.6zM104.4 500.4h1.6v1.6h-1.6zM75.3 491.8h1.6v1.6h-1.6zM108.8 479.2h1.6v1.6h-1.6zM111.7 483.9h1.6v1.6h-1.6zM112.3 491.1h1.6v1.6h-1.6zM116.1 502.2h1.6v1.6h-1.6zM91.9 498.0h1.6v1.6h-1.6zM99.0 503.1h1.6v1.6h-1.6zM97.3 496.3h1.6v1.6h-1.6zM109.2 487.3h1.6v1.6h-1.6zM119.3 498.4h1.6v1.6h-1.6zM95.2 440.6h1.6v1.6h-1.6zM98.6 479.5h1.6v1.6h-1.6zM94.3 453.7h1.6v1.6h-1.6zM98.8 476.6h1.6v1.6h-1.6zM81.6 500.6h1.6v1.6h-1.6zM105.7 476.1h1.6v1.6h-1.6zM114.9 500.2h1.6v1.6h-1.6zM99.7 490.8h1.6v1.6h-1.6zM87.5 491.0h1.6v1.6h-1.6zM95.6 502.9h1.6v1.6h-1.6zM102.3 489.8h1.6v1.6h-1.6zM87.0 500.8h1.6v1.6h-1.6zM101.6 461.6h1.6v1.6h-1.6zM84.2 498.1h1.6v1.6h-1.6zM120.2 491.1h1.6v1.6h-1.6zM112.9 486.8h1.6v1.6h-1.6zM80.1 490.6h1.6v1.6h-1.6zM111.6 503.8h1.6v1.6h-1.6zM104.8 475.4h1.6v1.6h-1.6zM109.1 488.7h1.6v1.6h-1.6zM116.0 494.5h1.6v1.6h-1.6zM90.4 498.5h1.6v1.6h-1.6zM89.6 479.2h1.6v1.6h-1.6zM109.2 498.2h1.6v1.6h-1.6zM106.9 485.2h1.6v1.6h-1.6zM104.2 498.4h1.6v1.6h-1.6zM92.4 501.5h1.6v1.6h-1.6zM113.6 487.6h1.6v1.6h-1.6zM102.0 501.7h1.6v1.6h-1.6zM82.4 484.0h1.6v1.6h-1.6zM117.2 483.2h1.6v1.6h-1.6zM103.3 478.7h1.6v1.6h-1.6zM108.2 445.9h1.6v1.6h-1.6zM101.5 482.3h1.6v1.6h-1.6zM106.8 504.1h1.6v1.6h-1.6zM85.1 502.7h1.6v1.6h-1.6zM113.8 487.8h1.6v1.6h-1.6zM95.8 462.6h1.6v1.6h-1.6zM90.1 467.9h1.6v1.6h-1.6zM108.4 499.9h1.6v1.6h-1.6zM107.9 498.4h1.6v1.6h-1.6zM88.6 503.9h1.6v1.6h-1.6zM81.4 439.9h1.6v1.6h-1.6zM115.4 498.9h1.6v1.6h-1.6zM104.3 488.6h1.6v1.6h-1.6zM93.1 476.1h1.6v1.6h-1.6zM115.1 476.7h1.6v1.6h-1.6zM90.6 416.7h1.6v1.6h-1.6zM111.3 481.5h1.6v1.6h-1.6zM105.5 489.0h1.6v1.6h-1.6zM102.7 481.5h1.6v1.6h-1.6zM115.2 496.0h1.6v1.6h-1.6zM89.8 487.9h1.6v1.6h-1.6zM109.2 491.9h1.6v1.6h-1.6zM86.4 502.3h1.6v1.6h-1.6zM118.1 496.4h1.6v1.6h-1.6zM88.0 502.2h1.6v1.6h-1.6zM96.0 503.6h1.6v1.6h-1.6zM88.2 479.5h1.6v1.6h-1.6zM108.8 495.6h1.6v1.6h-1.6zM97.4 499.4h1.6v1.6h-1.6zM105.6 457.2h1.6v1.6h-1.6zM72.2 457.8h1.6v1.6h-1.6zM102.9 503.3h1.6v1.6h-1.6zM119.8 501.0h1.6v1.6h-1.6zM96.5 467.8h1.6v1.6h-1.6zM92.7 439.4h1.6v1.6h-1.6zM109.4 480.7h1.6v1.6h-1.6zM87.5 502.5h1.6v1.6h-1.6zM101.0 464.3h1.6v1.6h-1.6zM78.9 452.0h1.6v1.6h-1.6zM107.8 501.2h1.6v1.6h-1.6zM116.4 481.5h1.6v1.6h-1.6zM105.8 496.9h1.6v1.6h-1.6zM93.2 498.8h1.6v1.6h-1.6zM107.3 499.9h1.6v1.6h-1.6zM114.6 490.3h1.6v1.6h-1.6zM122.0 497.6h1.6v1.6h-1.6zM86.7 491.4h1.6v1.6h-1.6zM104.6 459.1h1.6v1.6h-1.6zM76.1 476.4h1.6v1.6h-1.6zM86.7 501.6h1.6v1.6h-1.6zM84.0 462.5h1.6v1.6h-1.6zM117.9 499.0h1.6v1.6h-1.6zM115.6 499.2h1.6v1.6h-1.6zM87.1 494.7h1.6v1.6h-1.6zM102.1 490.8h1.6v1.6h-1.6zM80.1 463.0h1.6v1.6h-1.6zM105.0 486.3h1.6v1.6h-1.6zM102.3 448.4h1.6v1.6h-1.6zM99.0 488.5h1.6v1.6h-1.6zM94.9 504.1h1.6v1.6h-1.6zM93.9 483.3h1.6v1.6h-1.6zM104.2 489.3h1.6v1.6h-1.6zM98.0 426.4h1.6v1.6h-1.6zM117.8 495.9h1.6v1.6h-1.6zM113.3 488.6h1.6v1.6h-1.6zM101.8 494.3h1.6v1.6h-1.6zM122.9 499.5h1.6v1.6h-1.6zM78.8 452.1h1.6v1.6h-1.6zM79.9 488.6h1.6v1.6h-1.6zM83.2 454.3h1.6v1.6h-1.6zM112.9 495.1h1.6v1.6h-1.6zM68.8 482.8h1.6v1.6h-1.6zM95.9 482.1h1.6v1.6h-1.6zM110.4 475.4h1.6v1.6h-1.6zM123.3 504.4h1.6v1.6h-1.6zM103.2 482.4h1.6v1.6h-1.6zM120.4 496.7h1.6v1.6h-1.6zM89.1 491.1h1.6v1.6h-1.6zM68.1 495.4h1.6v1.6h-1.6zM97.7 496.2h1.6v1.6h-1.6zM75.9 494.7h1.6v1.6h-1.6zM98.1 491.0h1.6v1.6h-1.6zM97.5 459.3h1.6v1.6h-1.6zM106.0 504.1h1.6v1.6h-1.6zM104.5 486.1h1.6v1.6h-1.6zM104.4 483.7h1.6v1.6h-1.6zM78.1 498.7h1.6v1.6h-1.6zM114.4 474.7h1.6v1.6h-1.6zM96.6 493.1h1.6v1.6h-1.6zM94.9 500.1h1.6v1.6h-1.6zM118.6 488.4h1.6v1.6h-1.6zM100.4 476.7h1.6v1.6h-1.6zM108.6 489.9h1.6v1.6h-1.6zM91.0 485.0h1.6v1.6h-1.6zM94.3 499.9h1.6v1.6h-1.6zM75.7 490.8h1.6v1.6h-1.6zM110.0 484.6h1.6v1.6h-1.6zM121.8 495.0h1.6v1.6h-1.6zM110.4 465.3h1.6v1.6h-1.6zM111.2 486.0h1.6v1.6h-1.6zM93.3 497.4h1.6v1.6h-1.6zM105.5 484.9h1.6v1.6h-1.6zM68.3 471.1h1.6v1.6h-1.6zM100.1 371.5h1.6v1.6h-1.6zM85.3 497.8h1.6v1.6h-1.6zM92.4 453.0h1.6v1.6h-1.6zM71.2 497.4h1.6v1.6h-1.6zM96.0 445.6h1.6v1.6h-1.6zM119.1 484.1h1.6v1.6h-1.6zM102.7 494.0h1.6v1.6h-1.6zM102.7 437.9h1.6v1.6h-1.6zM120.2 501.4h1.6v1.6h-1.6zM97.6 465.7h1.6v1.6h-1.6zM113.7 477.2h1.6v1.6h-1.6zM107.3 455.6h1.6v1.6h-1.6zM117.6 495.6h1.6v1.6h-1.6zM103.3 457.4h1.6v1.6h-1.6zM97.7 475.6h1.6v1.6h-1.6zM75.2 493.6h1.6v1.6h-1.6zM95.4 502.5h1.6v1.6h-1.6zM110.9 473.6h1.6v1.6h-1.6zM110.8 491.6h1.6v1.6h-1.6zM83.2 502.4h1.6v1.6h-1.6zM104.4 482.6h1.6v1.6h-1.6zM116.4 480.2h1.6v1.6h-1.6zM113.1 500.6h1.6v1.6h-1.6zM106.5 493.7h1.6v1.6h-1.6zM86.2 497.0h1.6v1.6h-1.6zM99.9 498.6h1.6v1.6h-1.6zM84.6 487.9h1.6v1.6h-1.6zM103.3 495.9h1.6v1.6h-1.6zM97.2 499.4h1.6v1.6h-1.6zM92.3 497.7h1.6v1.6h-1.6zM117.1 483.1h1.6v1.6h-1.6zM90.6 501.2h1.6v1.6h-1.6zM89.9 500.7h1.6v1.6h-1.6zM121.5 497.8h1.6v1.6h-1.6zM107.4 483.7h1.6v1.6h-1.6zM95.5 501.5h1.6v1.6h-1.6zM115.9 485.8h1.6v1.6h-1.6zM105.2 495.5h1.6v1.6h-1.6zM83.3 501.8h1.6v1.6h-1.6zM85.3 454.3h1.6v1.6h-1.6zM93.8 481.2h1.6v1.6h-1.6zM103.6 499.2h1.6v1.6h-1.6zM113.2 486.5h1.6v1.6h-1.6zM118.0 499.4h1.6v1.6h-1.6zM93.4 500.9h1.6v1.6h-1.6zM116.6 483.3h1.6v1.6h-1.6zM88.5 503.3h1.6v1.6h-1.6zM113.0 488.0h1.6v1.6h-1.6zM110.6 444.8h1.6v1.6h-1.6zM107.4 483.6h1.6v1.6h-1.6zM117.7 486.1h1.6v1.6h-1.6zM101.1 477.8h1.6v1.6h-1.6zM75.1 482.3h1.6v1.6h-1.6zM78.9 491.5h1.6v1.6h-1.6zM80.6 474.9h1.6v1.6h-1.6zM105.8 481.4h1.6v1.6h-1.6zM85.5 480.9h1.6v1.6h-1.6zM97.4 501.0h1.6v1.6h-1.6zM71.1 478.4h1.6v1.6h-1.6zM115.4 494.2h1.6v1.6h-1.6zM86.2 483.7h1.6v1.6h-1.6zM94.5 499.0h1.6v1.6h-1.6zM111.6 476.7h1.6v1.6h-1.6zM106.2 492.6h1.6v1.6h-1.6zM108.5 463.7h1.6v1.6h-1.6zM102.0 498.1h1.6v1.6h-1.6zM113.0 499.7h1.6v1.6h-1.6zM78.7 487.0h1.6v1.6h-1.6zM83.6 491.0h1.6v1.6h-1.6zM116.0 501.0h1.6v1.6h-1.6zM83.8 426.9h1.6v1.6h-1.6zM115.5 476.7h1.6v1.6h-1.6zM70.1 477.1h1.6v1.6h-1.6zM93.3 381.7h1.6v1.6h-1.6zM86.6 496.1h1.6v1.6h-1.6zM89.5 503.5h1.6v1.6h-1.6zM123.1 495.3h1.6v1.6h-1.6zM90.3 500.4h1.6v1.6h-1.6zM109.7 473.7h1.6v1.6h-1.6zM97.1 469.4h1.6v1.6h-1.6zM118.9 495.7h1.6v1.6h-1.6zM101.9 458.6h1.6v1.6h-1.6zM98.2 484.6h1.6v1.6h-1.6zM76.6 462.3h1.6v1.6h-1.6zM95.3 490.5h1.6v1.6h-1.6zM85.0 503.9h1.6v1.6h-1.6zM92.8 496.1h1.6v1.6h-1.6zM95.5 503.4h1.6v1.6h-1.6zM101.8 476.6h1.6v1.6h-1.6zM119.2 489.3h1.6v1.6h-1.6zM116.3 495.2h1.6v1.6h-1.6zM96.5 499.0h1.6v1.6h-1.6zM88.6 485.9h1.6v1.6h-1.6zM81.1 462.7h1.6v1.6h-1.6zM94.9 493.4h1.6v1.6h-1.6zM111.0 499.3h1.6v1.6h-1.6zM99.1 488.4h1.6v1.6h-1.6zM92.0 496.9h1.6v1.6h-1.6zM118.4 489.3h1.6v1.6h-1.6zM111.0 488.0h1.6v1.6h-1.6zM112.1 501.0h1.6v1.6h-1.6zM115.9 475.7h1.6v1.6h-1.6zM107.8 498.0h1.6v1.6h-1.6zM110.4 469.9h1.6v1.6h-1.6zM100.9 483.2h1.6v1.6h-1.6zM76.5 491.9h1.6v1.6h-1.6zM101.8 483.6h1.6v1.6h-1.6zM116.4 488.9h1.6v1.6h-1.6zM116.7 498.2h1.6v1.6h-1.6zM93.5 461.8h1.6v1.6h-1.6zM85.3 497.1h1.6v1.6h-1.6zM108.3 438.1h1.6v1.6h-1.6zM102.6 488.0h1.6v1.6h-1.6zM94.1 429.0h1.6v1.6h-1.6zM98.6 499.1h1.6v1.6h-1.6zM112.2 478.5h1.6v1.6h-1.6zM115.0 484.7h1.6v1.6h-1.6zM110.8 479.3h1.6v1.6h-1.6zM72.0 489.4h1.6v1.6h-1.6zM112.7 478.0h1.6v1.6h-1.6zM112.7 490.1h1.6v1.6h-1.6zM120.1 491.7h1.6v1.6h-1.6zM110.3 482.3h1.6v1.6h-1.6zM109.2 489.6h1.6v1.6h-1.6zM97.6 492.4h1.6v1.6h-1.6zM91.3 451.5h1.6v1.6h-1.6zM106.9 468.1h1.6v1.6h-1.6zM108.0 480.8h1.6v1.6h-1.6zM118.5 494.2h1.6v1.6h-1.6zM82.6 491.7h1.6v1.6h-1.6zM86.1 400.5h1.6v1.6h-1.6zM119.7 495.5h1.6v1.6h-1.6zM123.7 497.5h1.6v1.6h-1.6zM110.4 478.2h1.6v1.6h-1.6zM106.8 486.1h1.6v1.6h-1.6zM109.8 482.9h1.6v1.6h-1.6zM85.4 497.8h1.6v1.6h-1.6zM71.1 466.4h1.6v1.6h-1.6zM102.4 462.1h1.6v1.6h-1.6zM100.0 487.3h1.6v1.6h-1.6zM114.2 481.8h1.6v1.6h-1.6zM84.7 496.0h1.6v1.6h-1.6zM115.7 478.0h1.6v1.6h-1.6zM117.0 497.2h1.6v1.6h-1.6zM79.5 471.1h1.6v1.6h-1.6zM92.5 477.5h1.6v1.6h-1.6zM108.9 487.8h1.6v1.6h-1.6zM100.3 496.4h1.6v1.6h-1.6zM71.3 488.0h1.6v1.6h-1.6zM117.6 504.5h1.6v1.6h-1.6zM113.0 485.6h1.6v1.6h-1.6zM75.3 464.7h1.6v1.6h-1.6zM87.5 491.1h1.6v1.6h-1.6zM89.6 489.4h1.6v1.6h-1.6zM117.4 503.1h1.6v1.6h-1.6zM85.9 498.7h1.6v1.6h-1.6zM115.7 489.2h1.6v1.6h-1.6zM102.5 502.8h1.6v1.6h-1.6zM106.8 421.6h1.6v1.6h-1.6zM77.3 498.7h1.6v1.6h-1.6zM111.3 502.7h1.6v1.6h-1.6zM117.5 494.0h1.6v1.6h-1.6zM105.0 468.3h1.6v1.6h-1.6zM77.2 496.7h1.6v1.6h-1.6zM103.1 496.4h1.6v1.6h-1.6zM95.8 500.5h1.6v1.6h-1.6zM103.4 494.9h1.6v1.6h-1.6zM116.2 497.7h1.6v1.6h-1.6zM97.4 482.2h1.6v1.6h-1.6zM88.1 493.5h1.6v1.6h-1.6zM73.2 484.1h1.6v1.6h-1.6zM106.7 473.9h1.6v1.6h-1.6zM101.6 501.6h1.6v1.6h-1.6zM103.8 397.7h1.6v1.6h-1.6zM115.9 476.3h1.6v1.6h-1.6zM83.0 491.2h1.6v1.6h-1.6zM103.7 504.0h1.6v1.6h-1.6zM111.0 475.8h1.6v1.6h-1.6zM96.4 460.0h1.6v1.6h-1.6zM91.1 484.3h1.6v1.6h-1.6zM109.9 487.2h1.6v1.6h-1.6zM100.0 472.0h1.6v1.6h-1.6zM105.4 497.9h1.6v1.6h-1.6zM95.9 477.5h1.6v1.6h-1.6zM116.5 488.2h1.6v1.6h-1.6zM104.1 420.1h1.6v1.6h-1.6zM93.6 467.9h1.6v1.6h-1.6zM69.5 471.9h1.6v1.6h-1.6zM121.8 495.4h1.6v1.6h-1.6zM86.3 477.7h1.6v1.6h-1.6zM113.3 473.8h1.6v1.6h-1.6zM122.4 504.4h1.6v1.6h-1.6zM107.1 460.9h1.6v1.6h-1.6zM99.9 496.6h1.6v1.6h-1.6zM71.6 461.8h1.6v1.6h-1.6zM77.6 469.5h1.6v1.6h-1.6zM111.1 475.9h1.6v1.6h-1.6zM114.3 486.8h1.6v1.6h-1.6zM103.7 502.4h1.6v1.6h-1.6zM113.6 485.6h1.6v1.6h-1.6zM120.1 495.8h1.6v1.6h-1.6zM69.3 464.7h1.6v1.6h-1.6zM116.6 490.5h1.6v1.6h-1.6zM123.3 500.4h1.6v1.6h-1.6zM113.4 490.4h1.6v1.6h-1.6zM86.1 495.6h1.6v1.6h-1.6zM113.8 493.5h1.6v1.6h-1.6zM88.2 493.4h1.6v1.6h-1.6zM93.4 499.4h1.6v1.6h-1.6zM94.7 502.9h1.6v1.6h-1.6zM106.0 497.9h1.6v1.6h-1.6zM87.9 504.3h1.6v1.6h-1.6zM100.8 462.8h1.6v1.6h-1.6zM90.5 478.6h1.6v1.6h-1.6zM86.5 503.8h1.6v1.6h-1.6zM78.5 491.7h1.6v1.6h-1.6zM88.6 429.2h1.6v1.6h-1.6zM94.4 469.8h1.6v1.6h-1.6zM108.8 482.8h1.6v1.6h-1.6zM96.3 459.7h1.6v1.6h-1.6zM116.0 499.5h1.6v1.6h-1.6zM99.3 408.7h1.6v1.6h-1.6zM90.5 502.7h1.6v1.6h-1.6zM94.0 484.6h1.6v1.6h-1.6zM116.2 484.7h1.6v1.6h-1.6zM94.3 495.9h1.6v1.6h-1.6zM115.2 491.2h1.6v1.6h-1.6zM97.5 427.9h1.6v1.6h-1.6zM123.3 495.9h1.6v1.6h-1.6zM117.2 486.1h1.6v1.6h-1.6zM97.2 478.7h1.6v1.6h-1.6zM84.7 488.6h1.6v1.6h-1.6zM118.1 481.0h1.6v1.6h-1.6zM100.7 502.9h1.6v1.6h-1.6zM106.1 498.2h1.6v1.6h-1.6zM75.0 489.9h1.6v1.6h-1.6zM88.1 497.1h1.6v1.6h-1.6zM122.8 493.9h1.6v1.6h-1.6zM100.1 504.1h1.6v1.6h-1.6zM97.8 386.0h1.6v1.6h-1.6zM123.4 498.3h1.6v1.6h-1.6zM85.6 492.6h1.6v1.6h-1.6zM108.5 499.5h1.6v1.6h-1.6zM124.1 504.3h1.6v1.6h-1.6zM97.0 494.1h1.6v1.6h-1.6zM76.6 487.1h1.6v1.6h-1.6zM91.1 492.8h1.6v1.6h-1.6zM115.4 501.6h1.6v1.6h-1.6zM98.9 393.3h1.6v1.6h-1.6zM121.0 495.2h1.6v1.6h-1.6zM109.8 489.0h1.6v1.6h-1.6zM114.6 489.4h1.6v1.6h-1.6zM111.8 489.5h1.6v1.6h-1.6zM114.5 498.6h1.6v1.6h-1.6zM79.6 469.7h1.6v1.6h-1.6zM115.5 504.1h1.6v1.6h-1.6zM75.3 482.5h1.6v1.6h-1.6zM114.6 480.9h1.6v1.6h-1.6zM93.1 503.7h1.6v1.6h-1.6zM115.2 501.4h1.6v1.6h-1.6zM90.6 433.6h1.6v1.6h-1.6zM122.4 492.8h1.6v1.6h-1.6zM92.8 394.0h1.6v1.6h-1.6zM92.6 474.7h1.6v1.6h-1.6zM103.8 498.9h1.6v1.6h-1.6zM78.8 496.4h1.6v1.6h-1.6zM71.2 469.9h1.6v1.6h-1.6zM68.5 491.9h1.6v1.6h-1.6zM109.3 479.0h1.6v1.6h-1.6zM118.7 489.0h1.6v1.6h-1.6zM104.6 492.6h1.6v1.6h-1.6zM106.8 503.6h1.6v1.6h-1.6zM99.9 499.0h1.6v1.6h-1.6zM92.3 467.7h1.6v1.6h-1.6zM113.2 480.6h1.6v1.6h-1.6zM72.3 496.1h1.6v1.6h-1.6zM112.5 487.6h1.6v1.6h-1.6zM79.4 492.0h1.6v1.6h-1.6zM101.8 500.3h1.6v1.6h-1.6zM92.7 483.5h1.6v1.6h-1.6zM102.7 497.9h1.6v1.6h-1.6zM120.7 489.2h1.6v1.6h-1.6zM75.9 485.5h1.6v1.6h-1.6zM122.8 496.8h1.6v1.6h-1.6zM110.2 488.5h1.6v1.6h-1.6zM66.0 483.5h1.6v1.6h-1.6zM116.3 490.5h1.6v1.6h-1.6zM106.5 455.0h1.6v1.6h-1.6zM107.6 494.3h1.6v1.6h-1.6zM112.1 475.0h1.6v1.6h-1.6zM104.8 500.7h1.6v1.6h-1.6zM76.8 445.6h1.6v1.6h-1.6zM95.3 499.0h1.6v1.6h-1.6zM119.9 495.7h1.6v1.6h-1.6zM95.9 501.6h1.6v1.6h-1.6zM119.2 488.6h1.6v1.6h-1.6zM109.7 492.6h1.6v1.6h-1.6zM126.1 504.4h1.6v1.6h-1.6zM96.4 455.1h1.6v1.6h-1.6zM86.9 480.7h1.6v1.6h-1.6zM117.7 503.4h1.6v1.6h-1.6zM85.8 485.5h1.6v1.6h-1.6zM109.4 476.3h1.6v1.6h-1.6zM112.3 476.4h1.6v1.6h-1.6zM110.7 477.0h1.6v1.6h-1.6zM119.9 487.6h1.6v1.6h-1.6zM103.7 473.4h1.6v1.6h-1.6zM107.3 490.3h1.6v1.6h-1.6zM78.8 424.9h1.6v1.6h-1.6zM120.1 491.0h1.6v1.6h-1.6zM103.4 477.1h1.6v1.6h-1.6zM94.1 393.6h1.6v1.6h-1.6zM94.6 465.0h1.6v1.6h-1.6zM105.7 470.1h1.6v1.6h-1.6zM117.8 481.0h1.6v1.6h-1.6zM121.0 494.9h1.6v1.6h-1.6zM80.1 423.9h1.6v1.6h-1.6zM119.0 493.2h1.6v1.6h-1.6zM96.8 501.5h1.6v1.6h-1.6zM117.5 496.5h1.6v1.6h-1.6zM117.1 497.6h1.6v1.6h-1.6zM99.7 501.9h1.6v1.6h-1.6zM90.9 465.3h1.6v1.6h-1.6zM79.2 451.6h1.6v1.6h-1.6zM78.6 500.2h1.6v1.6h-1.6zM97.9 501.8h1.6v1.6h-1.6zM98.4 496.4h1.6v1.6h-1.6zM93.7 496.6h1.6v1.6h-1.6zM119.8 495.3h1.6v1.6h-1.6zM78.3 497.3h1.6v1.6h-1.6zM98.6 487.6h1.6v1.6h-1.6zM101.2 448.6h1.6v1.6h-1.6zM73.4 482.5h1.6v1.6h-1.6zM117.6 482.0h1.6v1.6h-1.6zM97.1 497.1h1.6v1.6h-1.6zM84.0 502.2h1.6v1.6h-1.6zM112.0 489.2h1.6v1.6h-1.6zM111.1 475.9h1.6v1.6h-1.6zM115.6 502.9h1.6v1.6h-1.6zM102.1 497.1h1.6v1.6h-1.6zM102.1 453.3h1.6v1.6h-1.6zM114.7 501.2h1.6v1.6h-1.6zM119.5 488.2h1.6v1.6h-1.6zM115.2 502.0h1.6v1.6h-1.6zM92.6 438.2h1.6v1.6h-1.6zM117.7 500.4h1.6v1.6h-1.6zM114.8 504.5h1.6v1.6h-1.6zM75.4 493.1h1.6v1.6h-1.6zM109.7 470.5h1.6v1.6h-1.6zM102.6 403.7h1.6v1.6h-1.6zM102.5 403.7h1.6v1.6h-1.6zM79.4 500.9h1.6v1.6h-1.6zM112.4 504.2h1.6v1.6h-1.6zM103.9 499.0h1.6v1.6h-1.6zM88.1 462.7h1.6v1.6h-1.6zM78.1 494.6h1.6v1.6h-1.6zM104.4 473.8h1.6v1.6h-1.6zM119.3 491.3h1.6v1.6h-1.6zM121.4 490.1h1.6v1.6h-1.6zM107.6 502.7h1.6v1.6h-1.6zM107.3 501.7h1.6v1.6h-1.6zM79.4 428.4h1.6v1.6h-1.6zM79.6 457.9h1.6v1.6h-1.6zM110.8 500.8h1.6v1.6h-1.6zM106.3 486.4h1.6v1.6h-1.6zM113.8 474.2h1.6v1.6h-1.6zM119.5 495.0h1.6v1.6h-1.6zM99.3 502.4h1.6v1.6h-1.6zM105.3 489.7h1.6v1.6h-1.6zM106.3 490.7h1.6v1.6h-1.6zM116.0 476.0h1.6v1.6h-1.6zM105.1 493.8h1.6v1.6h-1.6zM85.3 420.7h1.6v1.6h-1.6zM88.1 502.9h1.6v1.6h-1.6zM113.0 499.4h1.6v1.6h-1.6zM103.3 488.5h1.6v1.6h-1.6zM77.0 498.5h1.6v1.6h-1.6zM106.7 503.1h1.6v1.6h-1.6zM85.0 443.1h1.6v1.6h-1.6zM109.0 481.5h1.6v1.6h-1.6zM73.8 486.4h1.6v1.6h-1.6zM101.9 485.3h1.6v1.6h-1.6zM88.8 455.2h1.6v1.6h-1.6zM99.1 500.0h1.6v1.6h-1.6zM110.6 475.3h1.6v1.6h-1.6zM111.5 496.5h1.6v1.6h-1.6zM76.1 483.2h1.6v1.6h-1.6zM108.1 490.7h1.6v1.6h-1.6zM85.9 488.7h1.6v1.6h-1.6zM116.2 482.0h1.6v1.6h-1.6zM89.3 492.8h1.6v1.6h-1.6zM108.6 500.0h1.6v1.6h-1.6zM115.9 503.5h1.6v1.6h-1.6zM115.0 492.9h1.6v1.6h-1.6zM103.4 480.0h1.6v1.6h-1.6zM106.1 460.1h1.6v1.6h-1.6zM121.9 497.3h1.6v1.6h-1.6zM83.7 500.8h1.6v1.6h-1.6zM102.4 487.6h1.6v1.6h-1.6zM102.1 489.5h1.6v1.6h-1.6zM105.9 484.3h1.6v1.6h-1.6zM92.1 496.0h1.6v1.6h-1.6zM104.7 475.3h1.6v1.6h-1.6zM118.0 498.3h1.6v1.6h-1.6zM99.1 446.9h1.6v1.6h-1.6zM120.3 492.5h1.6v1.6h-1.6zM108.9 504.2h1.6v1.6h-1.6zM81.7 502.8h1.6v1.6h-1.6zM111.8 483.1h1.6v1.6h-1.6zM117.8 494.6h1.6v1.6h-1.6zM98.9 485.5h1.6v1.6h-1.6zM115.7 488.9h1.6v1.6h-1.6zM83.3 478.3h1.6v1.6h-1.6zM81.0 497.7h1.6v1.6h-1.6zM92.8 457.6h1.6v1.6h-1.6zM111.7 492.9h1.6v1.6h-1.6zM106.3 488.6h1.6v1.6h-1.6zM93.1 477.7h1.6v1.6h-1.6zM85.5 504.2h1.6v1.6h-1.6zM72.0 476.7h1.6v1.6h-1.6zM86.6 502.2h1.6v1.6h-1.6zM97.9 496.7h1.6v1.6h-1.6zM81.5 456.5h1.6v1.6h-1.6zM89.9 477.9h1.6v1.6h-1.6zM111.9 483.6h1.6v1.6h-1.6zM103.2 495.5h1.6v1.6h-1.6zM116.6 487.2h1.6v1.6h-1.6zM84.9 475.1h1.6v1.6h-1.6zM122.8 503.0h1.6v1.6h-1.6zM94.4 495.6h1.6v1.6h-1.6zM111.5 486.8h1.6v1.6h-1.6zM120.0 502.4h1.6v1.6h-1.6zM119.6 502.0h1.6v1.6h-1.6zM110.4 475.2h1.6v1.6h-1.6zM113.7 485.7h1.6v1.6h-1.6zM102.2 496.8h1.6v1.6h-1.6zM115.2 489.0h1.6v1.6h-1.6zM97.5 432.6h1.6v1.6h-1.6zM106.1 490.4h1.6v1.6h-1.6zM112.7 500.9h1.6v1.6h-1.6zM124.8 500.1h1.6v1.6h-1.6zM93.4 458.7h1.6v1.6h-1.6zM109.3 492.9h1.6v1.6h-1.6zM109.2 481.8h1.6v1.6h-1.6zM119.7 491.6h1.6v1.6h-1.6zM103.5 468.1h1.6v1.6h-1.6zM112.3 479.6h1.6v1.6h-1.6zM85.5 504.3h1.6v1.6h-1.6zM106.8 502.3h1.6v1.6h-1.6zM112.8 490.2h1.6v1.6h-1.6zM89.1 495.4h1.6v1.6h-1.6zM105.5 496.1h1.6v1.6h-1.6zM109.7 479.5h1.6v1.6h-1.6zM100.0 474.8h1.6v1.6h-1.6zM75.4 481.1h1.6v1.6h-1.6zM115.7 479.8h1.6v1.6h-1.6zM105.3 472.4h1.6v1.6h-1.6zM114.8 500.8h1.6v1.6h-1.6zM116.3 493.0h1.6v1.6h-1.6zM113.2 477.1h1.6v1.6h-1.6zM100.1 499.1h1.6v1.6h-1.6zM114.7 486.2h1.6v1.6h-1.6zM73.0 488.4h1.6v1.6h-1.6zM81.4 489.0h1.6v1.6h-1.6zM112.3 479.6h1.6v1.6h-1.6zM121.0 500.6h1.6v1.6h-1.6zM111.8 457.8h1.6v1.6h-1.6zM85.4 467.1h1.6v1.6h-1.6zM113.6 479.5h1.6v1.6h-1.6zM73.3 460.5h1.6v1.6h-1.6zM114.7 497.6h1.6v1.6h-1.6zM99.1 494.1h1.6v1.6h-1.6zM111.4 481.6h1.6v1.6h-1.6zM124.4 502.4h1.6v1.6h-1.6zM97.9 425.1h1.6v1.6h-1.6zM100.1 496.4h1.6v1.6h-1.6zM118.1 500.0h1.6v1.6h-1.6zM87.1 438.8h1.6v1.6h-1.6zM86.9 449.9h1.6v1.6h-1.6zM83.5 490.2h1.6v1.6h-1.6zM101.1 492.1h1.6v1.6h-1.6zM108.9 504.3h1.6v1.6h-1.6zM70.9 495.6h1.6v1.6h-1.6zM76.8 486.0h1.6v1.6h-1.6zM102.3 451.6h1.6v1.6h-1.6zM98.2 448.7h1.6v1.6h-1.6zM107.0 502.3h1.6v1.6h-1.6zM103.2 495.8h1.6v1.6h-1.6zM112.0 497.4h1.6v1.6h-1.6zM105.0 440.9h1.6v1.6h-1.6zM118.5 493.6h1.6v1.6h-1.6zM106.8 486.3h1.6v1.6h-1.6zM76.7 438.0h1.6v1.6h-1.6zM94.6 437.6h1.6v1.6h-1.6zM103.1 457.1h1.6v1.6h-1.6zM98.3 501.7h1.6v1.6h-1.6zM89.5 487.9h1.6v1.6h-1.6zM111.4 495.4h1.6v1.6h-1.6zM80.2 492.9h1.6v1.6h-1.6zM64.0 375.9h1.6v1.6h-1.6zM93.5 498.9h1.6v1.6h-1.6zM116.7 501.7h1.6v1.6h-1.6zM116.1 490.2h1.6v1.6h-1.6zM106.5 495.2h1.6v1.6h-1.6zM98.2 500.3h1.6v1.6h-1.6zM85.1 457.8h1.6v1.6h-1.6zM107.8 488.5h1.6v1.6h-1.6zM79.9 454.8h1.6v1.6h-1.6zM99.3 430.6h1.6v1.6h-1.6zM104.2 492.8h1.6v1.6h-1.6zM119.3 484.9h1.6v1.6h-1.6zM97.9 427.1h1.6v1.6h-1.6zM111.5 503.5h1.6v1.6h-1.6zM90.3 494.7h1.6v1.6h-1.6zM113.1 497.0h1.6v1.6h-1.6zM88.4 446.1h1.6v1.6h-1.6zM101.9 493.6h1.6v1.6h-1.6zM67.8 470.6h1.6v1.6h-1.6zM118.5 487.2h1.6v1.6h-1.6zM103.6 458.7h1.6v1.6h-1.6zM102.0 463.1h1.6v1.6h-1.6zM84.5 496.8h1.6v1.6h-1.6zM100.8 467.5h1.6v1.6h-1.6zM115.7 483.6h1.6v1.6h-1.6zM94.9 458.6h1.6v1.6h-1.6zM102.5 502.8h1.6v1.6h-1.6zM98.2 477.3h1.6v1.6h-1.6zM94.4 442.8h1.6v1.6h-1.6zM104.1 497.4h1.6v1.6h-1.6zM84.4 498.6h1.6v1.6h-1.6zM119.7 494.5h1.6v1.6h-1.6zM94.6 502.8h1.6v1.6h-1.6zM114.5 490.9h1.6v1.6h-1.6zM102.5 495.3h1.6v1.6h-1.6zM112.6 471.7h1.6v1.6h-1.6zM100.0 490.1h1.6v1.6h-1.6zM93.6 498.6h1.6v1.6h-1.6zM78.4 487.4h1.6v1.6h-1.6zM86.5 502.1h1.6v1.6h-1.6zM101.5 483.2h1.6v1.6h-1.6zM98.0 497.2h1.6v1.6h-1.6zM106.4 502.4h1.6v1.6h-1.6zM95.7 497.3h1.6v1.6h-1.6zM99.0 488.6h1.6v1.6h-1.6zM104.7 463.4h1.6v1.6h-1.6zM111.2 488.5h1.6v1.6h-1.6zM113.9 476.7h1.6v1.6h-1.6zM89.1 494.4h1.6v1.6h-1.6zM100.7 483.9h1.6v1.6h-1.6zM104.9 415.4h1.6v1.6h-1.6zM117.7 501.8h1.6v1.6h-1.6zM88.5 463.7h1.6v1.6h-1.6zM114.6 502.6h1.6v1.6h-1.6zM111.9 479.5h1.6v1.6h-1.6zM102.9 469.6h1.6v1.6h-1.6zM103.0 488.4h1.6v1.6h-1.6zM81.2 478.5h1.6v1.6h-1.6zM110.9 457.7h1.6v1.6h-1.6zM119.2 499.3h1.6v1.6h-1.6zM106.3 492.7h1.6v1.6h-1.6zM110.4 457.4h1.6v1.6h-1.6zM103.3 492.7h1.6v1.6h-1.6zM91.7 478.0h1.6v1.6h-1.6zM101.6 474.3h1.6v1.6h-1.6zM95.0 495.1h1.6v1.6h-1.6zM114.4 488.1h1.6v1.6h-1.6zM98.5 489.8h1.6v1.6h-1.6zM115.3 482.9h1.6v1.6h-1.6zM99.0 450.6h1.6v1.6h-1.6zM83.5 503.8h1.6v1.6h-1.6zM87.1 466.0h1.6v1.6h-1.6zM103.5 498.6h1.6v1.6h-1.6zM64.8 485.7h1.6v1.6h-1.6zM78.5 497.9h1.6v1.6h-1.6zM110.6 489.7h1.6v1.6h-1.6zM110.7 488.8h1.6v1.6h-1.6zM79.9 491.9h1.6v1.6h-1.6zM95.6 502.6h1.6v1.6h-1.6zM97.5 491.9h1.6v1.6h-1.6zM85.5 500.5h1.6v1.6h-1.6zM86.4 495.5h1.6v1.6h-1.6zM99.7 499.7h1.6v1.6h-1.6zM104.4 460.5h1.6v1.6h-1.6zM113.4 466.9h1.6v1.6h-1.6zM103.4 456.7h1.6v1.6h-1.6zM89.2 496.0h1.6v1.6h-1.6zM111.3 492.4h1.6v1.6h-1.6zM91.0 484.4h1.6v1.6h-1.6zM102.9 490.3h1.6v1.6h-1.6zM66.0 490.4h1.6v1.6h-1.6zM108.2 460.4h1.6v1.6h-1.6zM114.0 470.6h1.6v1.6h-1.6zM98.1 496.3h1.6v1.6h-1.6zM107.9 500.8h1.6v1.6h-1.6zM117.9 503.1h1.6v1.6h-1.6zM74.7 460.8h1.6v1.6h-1.6zM108.4 480.3h1.6v1.6h-1.6zM100.4 445.5h1.6v1.6h-1.6zM122.3 498.6h1.6v1.6h-1.6zM92.7 503.9h1.6v1.6h-1.6zM115.1 501.7h1.6v1.6h-1.6zM100.7 462.8h1.6v1.6h-1.6zM100.7 489.4h1.6v1.6h-1.6zM71.8 454.0h1.6v1.6h-1.6zM107.5 472.1h1.6v1.6h-1.6zM110.8 478.8h1.6v1.6h-1.6zM63.8 489.8h1.6v1.6h-1.6zM90.4 498.6h1.6v1.6h-1.6zM107.6 491.1h1.6v1.6h-1.6zM102.1 459.0h1.6v1.6h-1.6zM126.4 503.5h1.6v1.6h-1.6zM100.4 500.6h1.6v1.6h-1.6zM112.1 490.0h1.6v1.6h-1.6zM112.4 458.4h1.6v1.6h-1.6zM84.1 486.2h1.6v1.6h-1.6zM111.0 478.7h1.6v1.6h-1.6zM104.7 502.9h1.6v1.6h-1.6zM106.9 493.3h1.6v1.6h-1.6zM108.1 489.7h1.6v1.6h-1.6zM84.8 485.6h1.6v1.6h-1.6zM93.9 478.6h1.6v1.6h-1.6zM121.4 493.2h1.6v1.6h-1.6zM102.8 503.1h1.6v1.6h-1.6zM87.4 500.9h1.6v1.6h-1.6zM111.0 495.5h1.6v1.6h-1.6zM79.6 492.7h1.6v1.6h-1.6zM101.7 489.8h1.6v1.6h-1.6zM99.8 503.1h1.6v1.6h-1.6zM97.4 490.7h1.6v1.6h-1.6zM104.9 410.4h1.6v1.6h-1.6zM115.9 478.2h1.6v1.6h-1.6zM112.0 483.6h1.6v1.6h-1.6zM122.3 495.3h1.6v1.6h-1.6zM79.1 496.4h1.6v1.6h-1.6zM98.7 494.3h1.6v1.6h-1.6zM117.1 485.9h1.6v1.6h-1.6zM106.9 486.9h1.6v1.6h-1.6zM90.9 467.3h1.6v1.6h-1.6zM108.4 492.1h1.6v1.6h-1.6zM122.8 500.0h1.6v1.6h-1.6zM89.3 493.1h1.6v1.6h-1.6zM115.3 503.3h1.6v1.6h-1.6zM100.7 468.2h1.6v1.6h-1.6zM76.1 493.5h1.6v1.6h-1.6zM81.1 497.1h1.6v1.6h-1.6zM120.6 489.6h1.6v1.6h-1.6zM78.8 491.1h1.6v1.6h-1.6zM99.3 502.4h1.6v1.6h-1.6zM88.4 487.2h1.6v1.6h-1.6zM120.1 486.8h1.6v1.6h-1.6zM113.8 494.0h1.6v1.6h-1.6zM88.6 489.9h1.6v1.6h-1.6zM124.3 502.4h1.6v1.6h-1.6zM107.5 499.5h1.6v1.6h-1.6zM113.2 482.3h1.6v1.6h-1.6zM63.2 407.7h1.6v1.6h-1.6zM107.1 494.8h1.6v1.6h-1.6zM104.6 488.1h1.6v1.6h-1.6zM117.6 482.9h1.6v1.6h-1.6zM118.4 482.5h1.6v1.6h-1.6zM83.6 447.6h1.6v1.6h-1.6zM106.2 498.3h1.6v1.6h-1.6zM104.6 493.4h1.6v1.6h-1.6zM106.5 492.7h1.6v1.6h-1.6zM79.6 491.9h1.6v1.6h-1.6zM111.7 496.0h1.6v1.6h-1.6zM101.9 470.7h1.6v1.6h-1.6zM96.7 502.4h1.6v1.6h-1.6zM111.8 499.0h1.6v1.6h-1.6zM93.2 499.0h1.6v1.6h-1.6zM91.1 500.2h1.6v1.6h-1.6zM116.3 485.3h1.6v1.6h-1.6zM67.7 494.7h1.6v1.6h-1.6zM79.3 474.1h1.6v1.6h-1.6zM120.9 494.7h1.6v1.6h-1.6zM98.2 499.3h1.6v1.6h-1.6zM99.3 482.9h1.6v1.6h-1.6zM111.9 499.7h1.6v1.6h-1.6zM70.9 453.7h1.6v1.6h-1.6zM116.6 495.6h1.6v1.6h-1.6zM106.2 500.7h1.6v1.6h-1.6zM74.7 474.9h1.6v1.6h-1.6zM92.9 450.1h1.6v1.6h-1.6zM104.8 490.4h1.6v1.6h-1.6zM122.6 496.1h1.6v1.6h-1.6zM94.9 488.3h1.6v1.6h-1.6zM103.7 447.3h1.6v1.6h-1.6zM106.3 485.2h1.6v1.6h-1.6zM112.0 480.5h1.6v1.6h-1.6zM121.7 500.7h1.6v1.6h-1.6zM83.2 495.5h1.6v1.6h-1.6zM107.8 463.2h1.6v1.6h-1.6zM118.5 492.6h1.6v1.6h-1.6zM77.1 477.6h1.6v1.6h-1.6zM93.0 504.0h1.6v1.6h-1.6zM84.8 497.8h1.6v1.6h-1.6zM104.6 479.4h1.6v1.6h-1.6zM120.9 501.1h1.6v1.6h-1.6zM108.0 453.4h1.6v1.6h-1.6zM92.7 465.7h1.6v1.6h-1.6zM108.9 480.1h1.6v1.6h-1.6zM105.6 470.3h1.6v1.6h-1.6zM97.0 462.4h1.6v1.6h-1.6zM81.5 477.6h1.6v1.6h-1.6zM100.7 398.8h1.6v1.6h-1.6zM70.7 486.7h1.6v1.6h-1.6zM70.5 476.6h1.6v1.6h-1.6zM103.2 504.6h1.6v1.6h-1.6zM116.5 502.0h1.6v1.6h-1.6zM113.1 478.0h1.6v1.6h-1.6zM96.7 456.9h1.6v1.6h-1.6zM112.2 468.3h1.6v1.6h-1.6zM116.6 477.6h1.6v1.6h-1.6zM87.6 404.1h1.6v1.6h-1.6zM97.3 492.1h1.6v1.6h-1.6zM74.9 461.0h1.6v1.6h-1.6zM99.8 498.6h1.6v1.6h-1.6zM100.1 498.9h1.6v1.6h-1.6zM104.4 473.2h1.6v1.6h-1.6zM97.6 481.2h1.6v1.6h-1.6zM116.8 490.8h1.6v1.6h-1.6zM87.3 501.1h1.6v1.6h-1.6zM114.0 499.1h1.6v1.6h-1.6zM107.0 492.9h1.6v1.6h-1.6zM108.9 480.4h1.6v1.6h-1.6zM118.3 486.1h1.6v1.6h-1.6zM96.2 499.4h1.6v1.6h-1.6zM94.3 469.4h1.6v1.6h-1.6zM93.5 493.6h1.6v1.6h-1.6zM93.4 496.9h1.6v1.6h-1.6zM118.5 497.8h1.6v1.6h-1.6zM107.1 485.7h1.6v1.6h-1.6zM80.9 487.8h1.6v1.6h-1.6zM98.0 503.0h1.6v1.6h-1.6zM81.2 481.3h1.6v1.6h-1.6zM101.2 463.6h1.6v1.6h-1.6zM110.0 482.1h1.6v1.6h-1.6zM112.1 503.5h1.6v1.6h-1.6zM117.9 498.7h1.6v1.6h-1.6zM109.0 486.3h1.6v1.6h-1.6zM116.3 478.7h1.6v1.6h-1.6zM69.2 495.3h1.6v1.6h-1.6zM83.2 504.0h1.6v1.6h-1.6zM111.0 500.2h1.6v1.6h-1.6zM116.8 488.5h1.6v1.6h-1.6zM86.3 490.7h1.6v1.6h-1.6zM99.1 475.1h1.6v1.6h-1.6zM114.9 497.3h1.6v1.6h-1.6zM105.3 452.8h1.6v1.6h-1.6zM69.0 489.4h1.6v1.6h-1.6zM121.5 496.6h1.6v1.6h-1.6zM94.8 504.3h1.6v1.6h-1.6zM88.2 494.2h1.6v1.6h-1.6zM68.4 460.0h1.6v1.6h-1.6zM105.0 487.8h1.6v1.6h-1.6zM107.4 487.5h1.6v1.6h-1.6zM92.1 498.2h1.6v1.6h-1.6zM78.1 501.1h1.6v1.6h-1.6zM112.0 477.1h1.6v1.6h-1.6zM90.1 479.1h1.6v1.6h-1.6zM85.1 501.0h1.6v1.6h-1.6zM114.1 483.3h1.6v1.6h-1.6zM107.9 486.3h1.6v1.6h-1.6zM117.5 481.5h1.6v1.6h-1.6zM114.6 485.0h1.6v1.6h-1.6zM103.2 504.4h1.6v1.6h-1.6zM86.9 487.5h1.6v1.6h-1.6zM96.9 503.1h1.6v1.6h-1.6zM93.9 499.7h1.6v1.6h-1.6zM82.5 447.1h1.6v1.6h-1.6zM100.8 451.3h1.6v1.6h-1.6zM90.0 492.6h1.6v1.6h-1.6zM93.2 473.6h1.6v1.6h-1.6zM71.3 488.4h1.6v1.6h-1.6zM123.3 497.2h1.6v1.6h-1.6zM107.8 462.1h1.6v1.6h-1.6zM72.6 494.6h1.6v1.6h-1.6zM111.9 492.1h1.6v1.6h-1.6zM97.6 500.8h1.6v1.6h-1.6zM92.8 501.7h1.6v1.6h-1.6zM95.4 436.9h1.6v1.6h-1.6zM107.4 482.3h1.6v1.6h-1.6zM74.1 466.1h1.6v1.6h-1.6zM73.4 450.0h1.6v1.6h-1.6zM93.7 488.8h1.6v1.6h-1.6zM113.6 488.0h1.6v1.6h-1.6zM98.9 495.5h1.6v1.6h-1.6zM80.6 485.8h1.6v1.6h-1.6zM92.7 414.3h1.6v1.6h-1.6zM97.5 399.5h1.6v1.6h-1.6zM105.6 491.2h1.6v1.6h-1.6zM109.3 463.1h1.6v1.6h-1.6zM119.9 490.8h1.6v1.6h-1.6zM100.7 494.2h1.6v1.6h-1.6zM97.7 493.8h1.6v1.6h-1.6zM74.6 486.0h1.6v1.6h-1.6zM113.3 500.7h1.6v1.6h-1.6zM103.5 498.1h1.6v1.6h-1.6zM105.6 464.3h1.6v1.6h-1.6zM105.2 493.2h1.6v1.6h-1.6zM107.4 463.4h1.6v1.6h-1.6zM94.0 473.2h1.6v1.6h-1.6zM98.9 494.1h1.6v1.6h-1.6zM115.4 477.2h1.6v1.6h-1.6zM114.2 489.5h1.6v1.6h-1.6zM94.5 503.6h1.6v1.6h-1.6zM121.8 491.1h1.6v1.6h-1.6zM110.4 503.3h1.6v1.6h-1.6zM80.9 493.9h1.6v1.6h-1.6zM89.1 472.9h1.6v1.6h-1.6zM101.8 496.2h1.6v1.6h-1.6zM117.6 504.1h1.6v1.6h-1.6zM79.0 489.0h1.6v1.6h-1.6zM89.7 489.4h1.6v1.6h-1.6zM109.7 484.5h1.6v1.6h-1.6zM116.1 478.2h1.6v1.6h-1.6zM118.1 489.4h1.6v1.6h-1.6zM117.5 487.2h1.6v1.6h-1.6zM95.3 495.5h1.6v1.6h-1.6zM120.9 488.9h1.6v1.6h-1.6zM104.2 474.6h1.6v1.6h-1.6zM116.3 500.6h1.6v1.6h-1.6zM81.8 488.4h1.6v1.6h-1.6zM104.0 478.1h1.6v1.6h-1.6zM84.1 499.3h1.6v1.6h-1.6zM112.1 485.3h1.6v1.6h-1.6zM117.2 481.0h1.6v1.6h-1.6zM118.4 498.9h1.6v1.6h-1.6zM69.6 494.9h1.6v1.6h-1.6zM121.0 503.2h1.6v1.6h-1.6zM91.3 498.3h1.6v1.6h-1.6zM101.6 488.6h1.6v1.6h-1.6zM119.4 496.8h1.6v1.6h-1.6zM62.1 385.5h1.6v1.6h-1.6zM108.3 485.1h1.6v1.6h-1.6zM109.7 462.6h1.6v1.6h-1.6zM103.6 499.8h1.6v1.6h-1.6zM72.6 484.3h1.6v1.6h-1.6zM99.9 495.1h1.6v1.6h-1.6zM109.7 494.2h1.6v1.6h-1.6zM97.6 478.1h1.6v1.6h-1.6zM116.6 497.6h1.6v1.6h-1.6zM98.0 502.3h1.6v1.6h-1.6zM96.9 502.2h1.6v1.6h-1.6zM83.4 504.1h1.6v1.6h-1.6zM88.2 501.3h1.6v1.6h-1.6zM115.7 493.7h1.6v1.6h-1.6zM113.5 498.3h1.6v1.6h-1.6zM76.3 459.5h1.6v1.6h-1.6zM95.8 497.3h1.6v1.6h-1.6zM80.0 497.8h1.6v1.6h-1.6zM117.6 488.3h1.6v1.6h-1.6zM76.7 484.8h1.6v1.6h-1.6zM94.0 470.2h1.6v1.6h-1.6zM112.7 496.5h1.6v1.6h-1.6zM100.5 501.3h1.6v1.6h-1.6zM114.6 486.6h1.6v1.6h-1.6zM117.2 495.2h1.6v1.6h-1.6zM106.9 485.5h1.6v1.6h-1.6zM116.3 484.8h1.6v1.6h-1.6zM86.3 498.8h1.6v1.6h-1.6zM112.0 486.7h1.6v1.6h-1.6zM105.4 459.2h1.6v1.6h-1.6zM77.9 479.4h1.6v1.6h-1.6zM103.9 489.4h1.6v1.6h-1.6zM110.0 483.2h1.6v1.6h-1.6zM74.6 473.3h1.6v1.6h-1.6zM103.3 381.5h1.6v1.6h-1.6zM78.7 444.9h1.6v1.6h-1.6zM112.2 483.0h1.6v1.6h-1.6zM120.1 501.4h1.6v1.6h-1.6zM85.3 493.2h1.6v1.6h-1.6zM103.5 491.0h1.6v1.6h-1.6zM95.7 498.7h1.6v1.6h-1.6zM119.9 486.1h1.6v1.6h-1.6zM97.9 464.2h1.6v1.6h-1.6zM111.1 500.6h1.6v1.6h-1.6zM110.5 469.6h1.6v1.6h-1.6zM84.4 494.6h1.6v1.6h-1.6zM125.1 501.0h1.6v1.6h-1.6zM106.5 486.7h1.6v1.6h-1.6zM104.8 488.8h1.6v1.6h-1.6zM72.1 484.9h1.6v1.6h-1.6zM113.7 503.7h1.6v1.6h-1.6zM96.4 494.9h1.6v1.6h-1.6zM87.0 486.9h1.6v1.6h-1.6zM122.7 497.6h1.6v1.6h-1.6zM103.0 493.3h1.6v1.6h-1.6zM117.0 504.2h1.6v1.6h-1.6zM99.8 499.0h1.6v1.6h-1.6zM112.4 496.7h1.6v1.6h-1.6zM87.3 497.9h1.6v1.6h-1.6zM83.6 467.8h1.6v1.6h-1.6zM114.8 477.4h1.6v1.6h-1.6zM94.9 439.0h1.6v1.6h-1.6zM100.1 504.0h1.6v1.6h-1.6zM104.7 461.3h1.6v1.6h-1.6zM78.5 463.1h1.6v1.6h-1.6zM50.3 477.8h1.6v1.6h-1.6zM101.6 466.0h1.6v1.6h-1.6zM104.9 481.1h1.6v1.6h-1.6zM109.4 491.8h1.6v1.6h-1.6zM114.0 491.5h1.6v1.6h-1.6zM113.4 482.6h1.6v1.6h-1.6zM125.4 502.0h1.6v1.6h-1.6zM93.6 501.6h1.6v1.6h-1.6zM103.2 476.8h1.6v1.6h-1.6zM96.9 448.0h1.6v1.6h-1.6zM83.6 502.0h1.6v1.6h-1.6zM98.4 492.6h1.6v1.6h-1.6zM117.9 503.7h1.6v1.6h-1.6zM75.5 462.3h1.6v1.6h-1.6zM104.5 463.9h1.6v1.6h-1.6zM82.2 494.9h1.6v1.6h-1.6zM104.4 488.4h1.6v1.6h-1.6zM90.6 479.5h1.6v1.6h-1.6zM106.4 496.9h1.6v1.6h-1.6zM83.1 503.4h1.6v1.6h-1.6zM112.9 489.1h1.6v1.6h-1.6zM89.8 444.8h1.6v1.6h-1.6zM115.7 483.4h1.6v1.6h-1.6zM116.6 489.3h1.6v1.6h-1.6zM90.1 498.4h1.6v1.6h-1.6zM101.4 488.2h1.6v1.6h-1.6zM112.3 491.0h1.6v1.6h-1.6zM95.9 495.0h1.6v1.6h-1.6zM89.9 501.9h1.6v1.6h-1.6zM108.9 483.8h1.6v1.6h-1.6zM93.3 497.8h1.6v1.6h-1.6zM101.5 497.8h1.6v1.6h-1.6zM105.7 493.4h1.6v1.6h-1.6zM110.0 483.0h1.6v1.6h-1.6zM77.0 500.5h1.6v1.6h-1.6zM63.8 486.1h1.6v1.6h-1.6zM117.7 486.9h1.6v1.6h-1.6zM82.3 479.3h1.6v1.6h-1.6zM115.4 480.7h1.6v1.6h-1.6zM111.2 488.8h1.6v1.6h-1.6zM77.1 460.4h1.6v1.6h-1.6zM85.4 496.3h1.6v1.6h-1.6zM119.5 499.1h1.6v1.6h-1.6zM118.5 500.9h1.6v1.6h-1.6zM96.7 495.7h1.6v1.6h-1.6zM103.3 499.3h1.6v1.6h-1.6zM111.6 482.2h1.6v1.6h-1.6zM76.4 493.6h1.6v1.6h-1.6zM105.4 499.1h1.6v1.6h-1.6zM107.6 477.8h1.6v1.6h-1.6zM91.9 459.9h1.6v1.6h-1.6zM84.6 499.0h1.6v1.6h-1.6zM95.2 407.4h1.6v1.6h-1.6zM102.4 500.3h1.6v1.6h-1.6zM106.6 500.8h1.6v1.6h-1.6zM104.4 503.3h1.6v1.6h-1.6zM99.5 465.9h1.6v1.6h-1.6zM121.7 498.7h1.6v1.6h-1.6zM118.5 488.4h1.6v1.6h-1.6zM87.3 443.6h1.6v1.6h-1.6zM88.1 498.3h1.6v1.6h-1.6zM80.0 486.1h1.6v1.6h-1.6zM120.6 502.9h1.6v1.6h-1.6zM112.2 497.3h1.6v1.6h-1.6zM112.6 478.7h1.6v1.6h-1.6zM41.7 455.5h1.6v1.6h-1.6zM48.5 464.0h1.6v1.6h-1.6zM60.2 469.2h1.6v1.6h-1.6zM61.2 475.2h1.6v1.6h-1.6zM95.4 375.8h1.6v1.6h-1.6zM94.2 382.2h1.6v1.6h-1.6zM79.7 382.7h1.6v1.6h-1.6zM82.2 387.2h1.6v1.6h-1.6zM89.2 386.7h1.6v1.6h-1.6zM94.0 387.7h1.6v1.6h-1.6zM95.2 391.2h1.6v1.6h-1.6zM70.7 407.2h1.6v1.6h-1.6zM72.2 412.2h1.6v1.6h-1.6zM70.2 417.2h1.6v1.6h-1.6z" fill="#1daeea"/>
<path d="M162.0 503.8h1.6v1.6h-1.6zM156.8 491.4h1.6v1.6h-1.6zM196.2 504.3h1.6v1.6h-1.6zM177.0 490.6h1.6v1.6h-1.6zM147.9 492.1h1.6v1.6h-1.6zM160.2 490.2h1.6v1.6h-1.6zM145.6 444.2h1.6v1.6h-1.6zM149.5 500.3h1.6v1.6h-1.6zM159.8 497.9h1.6v1.6h-1.6zM174.3 497.5h1.6v1.6h-1.6zM174.0 489.6h1.6v1.6h-1.6zM169.3 499.9h1.6v1.6h-1.6zM160.8 472.9h1.6v1.6h-1.6zM142.4 498.2h1.6v1.6h-1.6zM191.8 503.5h1.6v1.6h-1.6zM163.5 490.3h1.6v1.6h-1.6zM167.4 490.2h1.6v1.6h-1.6zM174.4 500.1h1.6v1.6h-1.6zM140.4 483.2h1.6v1.6h-1.6zM145.9 497.3h1.6v1.6h-1.6zM190.6 503.9h1.6v1.6h-1.6zM164.3 484.3h1.6v1.6h-1.6zM143.0 479.9h1.6v1.6h-1.6zM166.9 499.5h1.6v1.6h-1.6zM159.8 474.6h1.6v1.6h-1.6zM164.1 502.7h1.6v1.6h-1.6zM175.9 497.2h1.6v1.6h-1.6zM179.3 502.5h1.6v1.6h-1.6zM165.2 479.1h1.6v1.6h-1.6zM147.5 500.6h1.6v1.6h-1.6zM152.3 499.1h1.6v1.6h-1.6zM159.7 493.2h1.6v1.6h-1.6zM150.5 500.1h1.6v1.6h-1.6zM157.8 501.7h1.6v1.6h-1.6zM180.3 495.5h1.6v1.6h-1.6zM160.7 503.8h1.6v1.6h-1.6zM192.6 503.9h1.6v1.6h-1.6zM165.5 491.6h1.6v1.6h-1.6zM165.5 479.6h1.6v1.6h-1.6zM144.8 501.2h1.6v1.6h-1.6zM155.7 490.0h1.6v1.6h-1.6zM163.6 489.2h1.6v1.6h-1.6zM149.8 501.2h1.6v1.6h-1.6zM196.3 500.6h1.6v1.6h-1.6zM145.7 502.0h1.6v1.6h-1.6zM167.3 481.7h1.6v1.6h-1.6zM156.8 484.9h1.6v1.6h-1.6zM154.8 498.7h1.6v1.6h-1.6zM158.0 497.4h1.6v1.6h-1.6zM170.6 493.6h1.6v1.6h-1.6zM163.9 490.8h1.6v1.6h-1.6zM167.9 501.5h1.6v1.6h-1.6zM161.8 477.1h1.6v1.6h-1.6zM142.2 504.3h1.6v1.6h-1.6zM145.8 490.3h1.6v1.6h-1.6zM166.7 504.1h1.6v1.6h-1.6zM197.2 504.1h1.6v1.6h-1.6zM162.6 504.3h1.6v1.6h-1.6zM161.4 487.9h1.6v1.6h-1.6zM182.8 496.8h1.6v1.6h-1.6zM178.2 498.3h1.6v1.6h-1.6zM187.4 498.8h1.6v1.6h-1.6zM185.8 501.3h1.6v1.6h-1.6zM175.5 485.9h1.6v1.6h-1.6zM161.5 496.6h1.6v1.6h-1.6zM151.1 492.1h1.6v1.6h-1.6zM151.3 474.4h1.6v1.6h-1.6zM176.9 499.7h1.6v1.6h-1.6zM162.9 493.7h1.6v1.6h-1.6zM159.5 496.7h1.6v1.6h-1.6zM182.6 496.6h1.6v1.6h-1.6zM189.1 503.3h1.6v1.6h-1.6zM184.3 489.5h1.6v1.6h-1.6zM167.7 497.7h1.6v1.6h-1.6zM152.4 472.0h1.6v1.6h-1.6zM158.2 490.5h1.6v1.6h-1.6zM155.3 502.6h1.6v1.6h-1.6zM144.9 499.1h1.6v1.6h-1.6zM150.8 473.1h1.6v1.6h-1.6zM180.3 495.4h1.6v1.6h-1.6zM160.8 480.4h1.6v1.6h-1.6zM156.2 499.6h1.6v1.6h-1.6zM158.9 491.6h1.6v1.6h-1.6zM147.2 491.7h1.6v1.6h-1.6zM160.1 491.6h1.6v1.6h-1.6zM150.8 489.3h1.6v1.6h-1.6zM152.4 494.6h1.6v1.6h-1.6zM156.8 493.7h1.6v1.6h-1.6zM152.1 483.4h1.6v1.6h-1.6zM175.5 496.1h1.6v1.6h-1.6zM154.6 492.4h1.6v1.6h-1.6zM147.0 497.4h1.6v1.6h-1.6zM156.8 489.6h1.6v1.6h-1.6zM165.2 496.1h1.6v1.6h-1.6zM185.9 501.5h1.6v1.6h-1.6zM184.0 503.2h1.6v1.6h-1.6zM152.9 503.6h1.6v1.6h-1.6zM161.0 501.7h1.6v1.6h-1.6zM143.1 486.0h1.6v1.6h-1.6zM148.7 490.6h1.6v1.6h-1.6zM142.1 502.5h1.6v1.6h-1.6zM159.0 498.3h1.6v1.6h-1.6zM145.8 501.9h1.6v1.6h-1.6zM140.9 499.4h1.6v1.6h-1.6zM155.8 490.1h1.6v1.6h-1.6zM148.1 495.5h1.6v1.6h-1.6zM154.9 504.6h1.6v1.6h-1.6zM159.8 490.7h1.6v1.6h-1.6zM154.9 480.9h1.6v1.6h-1.6zM144.7 500.2h1.6v1.6h-1.6zM144.3 502.7h1.6v1.6h-1.6zM161.5 464.6h1.6v1.6h-1.6zM158.9 489.4h1.6v1.6h-1.6zM148.8 487.3h1.6v1.6h-1.6zM162.9 502.4h1.6v1.6h-1.6zM152.2 468.2h1.6v1.6h-1.6zM179.6 500.0h1.6v1.6h-1.6zM170.9 503.6h1.6v1.6h-1.6zM175.0 497.8h1.6v1.6h-1.6zM152.6 499.6h1.6v1.6h-1.6zM159.4 498.7h1.6v1.6h-1.6zM154.0 495.4h1.6v1.6h-1.6zM148.3 495.7h1.6v1.6h-1.6zM143.9 501.1h1.6v1.6h-1.6zM156.7 497.4h1.6v1.6h-1.6zM163.5 493.6h1.6v1.6h-1.6zM151.8 498.9h1.6v1.6h-1.6zM151.9 490.9h1.6v1.6h-1.6zM139.9 502.8h1.6v1.6h-1.6zM171.0 496.1h1.6v1.6h-1.6zM143.5 504.0h1.6v1.6h-1.6zM157.9 498.6h1.6v1.6h-1.6zM148.7 499.7h1.6v1.6h-1.6zM169.1 504.4h1.6v1.6h-1.6zM141.3 502.3h1.6v1.6h-1.6zM167.1 485.8h1.6v1.6h-1.6zM197.9 503.6h1.6v1.6h-1.6zM177.6 498.6h1.6v1.6h-1.6zM169.5 498.9h1.6v1.6h-1.6zM141.2 501.4h1.6v1.6h-1.6zM162.1 495.2h1.6v1.6h-1.6zM181.2 501.7h1.6v1.6h-1.6zM141.5 497.2h1.6v1.6h-1.6zM155.3 474.9h1.6v1.6h-1.6zM149.7 502.9h1.6v1.6h-1.6zM164.8 487.0h1.6v1.6h-1.6zM152.6 495.8h1.6v1.6h-1.6zM163.9 502.7h1.6v1.6h-1.6zM165.2 495.9h1.6v1.6h-1.6zM162.0 496.8h1.6v1.6h-1.6zM157.4 501.8h1.6v1.6h-1.6zM143.1 495.6h1.6v1.6h-1.6zM190.9 499.7h1.6v1.6h-1.6zM149.6 496.3h1.6v1.6h-1.6zM183.8 486.8h1.6v1.6h-1.6zM181.3 503.7h1.6v1.6h-1.6zM144.4 499.0h1.6v1.6h-1.6zM151.3 491.3h1.6v1.6h-1.6zM173.5 495.3h1.6v1.6h-1.6zM140.3 501.9h1.6v1.6h-1.6zM193.5 502.8h1.6v1.6h-1.6zM157.5 483.7h1.6v1.6h-1.6zM175.6 499.3h1.6v1.6h-1.6zM157.3 493.9h1.6v1.6h-1.6zM147.3 483.7h1.6v1.6h-1.6zM160.4 501.7h1.6v1.6h-1.6zM171.4 493.8h1.6v1.6h-1.6zM176.3 498.3h1.6v1.6h-1.6zM178.0 499.2h1.6v1.6h-1.6zM150.2 497.0h1.6v1.6h-1.6zM155.0 487.3h1.6v1.6h-1.6zM174.5 499.7h1.6v1.6h-1.6zM173.1 498.1h1.6v1.6h-1.6zM171.2 493.6h1.6v1.6h-1.6zM195.7 502.4h1.6v1.6h-1.6zM146.6 492.8h1.6v1.6h-1.6zM171.6 496.3h1.6v1.6h-1.6zM138.1 499.9h1.6v1.6h-1.6zM149.5 498.9h1.6v1.6h-1.6zM171.9 500.5h1.6v1.6h-1.6zM170.7 489.6h1.6v1.6h-1.6zM172.9 497.2h1.6v1.6h-1.6zM160.0 487.6h1.6v1.6h-1.6zM146.1 496.4h1.6v1.6h-1.6zM161.3 494.8h1.6v1.6h-1.6zM153.5 499.4h1.6v1.6h-1.6zM168.0 494.0h1.6v1.6h-1.6zM146.6 496.0h1.6v1.6h-1.6zM164.1 486.8h1.6v1.6h-1.6zM166.7 486.8h1.6v1.6h-1.6zM160.7 499.6h1.6v1.6h-1.6zM158.9 494.5h1.6v1.6h-1.6zM182.7 488.3h1.6v1.6h-1.6zM178.1 499.9h1.6v1.6h-1.6zM158.1 488.6h1.6v1.6h-1.6zM190.9 503.2h1.6v1.6h-1.6zM159.4 468.7h1.6v1.6h-1.6zM174.3 502.4h1.6v1.6h-1.6zM187.8 499.9h1.6v1.6h-1.6zM167.4 495.2h1.6v1.6h-1.6zM154.0 490.0h1.6v1.6h-1.6zM160.5 498.1h1.6v1.6h-1.6zM167.4 502.3h1.6v1.6h-1.6zM170.1 503.1h1.6v1.6h-1.6zM156.8 474.9h1.6v1.6h-1.6zM159.7 504.2h1.6v1.6h-1.6zM166.0 493.6h1.6v1.6h-1.6zM153.9 460.7h1.6v1.6h-1.6zM147.8 489.1h1.6v1.6h-1.6zM175.4 499.4h1.6v1.6h-1.6zM188.4 502.3h1.6v1.6h-1.6zM149.5 498.0h1.6v1.6h-1.6zM136.8 490.4h1.6v1.6h-1.6zM152.7 493.9h1.6v1.6h-1.6zM144.4 503.6h1.6v1.6h-1.6zM181.7 500.3h1.6v1.6h-1.6zM160.8 484.9h1.6v1.6h-1.6zM178.6 502.0h1.6v1.6h-1.6zM155.9 503.5h1.6v1.6h-1.6zM139.2 503.1h1.6v1.6h-1.6zM180.4 499.9h1.6v1.6h-1.6zM168.1 488.9h1.6v1.6h-1.6zM159.4 480.8h1.6v1.6h-1.6zM182.8 499.6h1.6v1.6h-1.6zM150.1 497.5h1.6v1.6h-1.6zM155.5 483.2h1.6v1.6h-1.6zM184.1 490.6h1.6v1.6h-1.6zM161.7 495.7h1.6v1.6h-1.6zM148.0 478.6h1.6v1.6h-1.6zM160.0 491.6h1.6v1.6h-1.6zM178.7 502.9h1.6v1.6h-1.6zM186.4 503.9h1.6v1.6h-1.6zM172.2 499.3h1.6v1.6h-1.6zM195.6 503.1h1.6v1.6h-1.6zM147.5 485.3h1.6v1.6h-1.6zM172.8 494.0h1.6v1.6h-1.6zM159.8 495.0h1.6v1.6h-1.6zM157.7 498.2h1.6v1.6h-1.6zM194.2 501.6h1.6v1.6h-1.6zM189.3 503.8h1.6v1.6h-1.6zM147.2 498.2h1.6v1.6h-1.6zM154.4 504.5h1.6v1.6h-1.6zM150.8 489.6h1.6v1.6h-1.6zM150.3 480.6h1.6v1.6h-1.6zM191.2 503.5h1.6v1.6h-1.6zM159.8 460.1h1.6v1.6h-1.6zM170.6 499.5h1.6v1.6h-1.6zM166.9 493.4h1.6v1.6h-1.6zM171.7 504.3h1.6v1.6h-1.6zM180.2 503.1h1.6v1.6h-1.6zM154.0 493.0h1.6v1.6h-1.6zM175.8 502.6h1.6v1.6h-1.6zM157.9 494.4h1.6v1.6h-1.6zM181.5 499.3h1.6v1.6h-1.6zM153.5 499.7h1.6v1.6h-1.6zM175.0 502.0h1.6v1.6h-1.6zM166.6 497.9h1.6v1.6h-1.6zM149.5 487.6h1.6v1.6h-1.6zM156.5 499.2h1.6v1.6h-1.6zM170.8 502.8h1.6v1.6h-1.6zM163.4 493.3h1.6v1.6h-1.6zM160.4 499.6h1.6v1.6h-1.6zM151.8 464.5h1.6v1.6h-1.6zM158.3 495.6h1.6v1.6h-1.6zM159.9 494.9h1.6v1.6h-1.6zM149.2 478.8h1.6v1.6h-1.6zM178.3 503.4h1.6v1.6h-1.6zM173.9 502.3h1.6v1.6h-1.6zM173.0 500.5h1.6v1.6h-1.6zM167.7 491.6h1.6v1.6h-1.6zM185.2 501.7h1.6v1.6h-1.6zM190.4 503.6h1.6v1.6h-1.6zM161.4 494.7h1.6v1.6h-1.6zM192.1 503.5h1.6v1.6h-1.6zM172.5 504.3h1.6v1.6h-1.6zM147.1 502.7h1.6v1.6h-1.6zM144.1 504.3h1.6v1.6h-1.6zM145.0 496.9h1.6v1.6h-1.6zM147.6 492.1h1.6v1.6h-1.6zM155.5 499.2h1.6v1.6h-1.6zM173.8 491.5h1.6v1.6h-1.6zM182.1 502.6h1.6v1.6h-1.6zM186.5 501.5h1.6v1.6h-1.6zM174.0 489.6h1.6v1.6h-1.6zM155.2 499.2h1.6v1.6h-1.6zM142.0 502.1h1.6v1.6h-1.6zM149.4 485.8h1.6v1.6h-1.6zM176.0 500.5h1.6v1.6h-1.6zM156.7 504.0h1.6v1.6h-1.6zM152.4 501.7h1.6v1.6h-1.6zM160.4 488.6h1.6v1.6h-1.6zM153.8 493.3h1.6v1.6h-1.6zM183.7 502.5h1.6v1.6h-1.6zM159.0 471.5h1.6v1.6h-1.6zM147.5 501.7h1.6v1.6h-1.6zM140.0 502.8h1.6v1.6h-1.6zM174.6 495.9h1.6v1.6h-1.6zM157.1 495.0h1.6v1.6h-1.6zM159.5 496.0h1.6v1.6h-1.6zM162.4 493.7h1.6v1.6h-1.6zM158.8 483.7h1.6v1.6h-1.6zM167.5 495.6h1.6v1.6h-1.6zM158.3 482.3h1.6v1.6h-1.6zM142.5 498.4h1.6v1.6h-1.6zM160.4 493.1h1.6v1.6h-1.6zM188.7 503.6h1.6v1.6h-1.6zM173.8 499.6h1.6v1.6h-1.6zM174.9 493.8h1.6v1.6h-1.6zM156.9 492.4h1.6v1.6h-1.6zM163.4 471.5h1.6v1.6h-1.6zM138.7 504.2h1.6v1.6h-1.6zM157.5 481.5h1.6v1.6h-1.6zM165.9 503.3h1.6v1.6h-1.6zM159.9 496.0h1.6v1.6h-1.6zM178.3 500.9h1.6v1.6h-1.6zM143.8 481.8h1.6v1.6h-1.6zM157.2 495.8h1.6v1.6h-1.6zM140.7 502.5h1.6v1.6h-1.6zM175.8 498.0h1.6v1.6h-1.6zM150.4 485.6h1.6v1.6h-1.6zM150.2 489.0h1.6v1.6h-1.6zM147.2 496.2h1.6v1.6h-1.6zM164.9 494.4h1.6v1.6h-1.6zM159.7 500.9h1.6v1.6h-1.6zM149.5 498.2h1.6v1.6h-1.6zM157.0 492.0h1.6v1.6h-1.6zM149.7 490.9h1.6v1.6h-1.6zM158.4 496.0h1.6v1.6h-1.6zM166.2 502.6h1.6v1.6h-1.6zM165.8 500.2h1.6v1.6h-1.6zM153.5 485.3h1.6v1.6h-1.6zM167.1 473.0h1.6v1.6h-1.6zM185.2 503.2h1.6v1.6h-1.6zM183.3 503.5h1.6v1.6h-1.6zM157.5 473.6h1.6v1.6h-1.6zM141.2 500.3h1.6v1.6h-1.6zM163.9 491.7h1.6v1.6h-1.6zM158.1 502.3h1.6v1.6h-1.6zM163.7 503.6h1.6v1.6h-1.6zM152.8 488.9h1.6v1.6h-1.6zM149.0 488.0h1.6v1.6h-1.6zM171.1 495.7h1.6v1.6h-1.6zM156.7 499.1h1.6v1.6h-1.6zM163.2 504.3h1.6v1.6h-1.6zM190.7 502.8h1.6v1.6h-1.6zM157.0 494.0h1.6v1.6h-1.6zM148.1 490.9h1.6v1.6h-1.6zM149.2 491.2h1.6v1.6h-1.6zM164.7 502.0h1.6v1.6h-1.6zM152.0 468.3h1.6v1.6h-1.6zM169.7 504.0h1.6v1.6h-1.6zM139.2 501.9h1.6v1.6h-1.6zM165.7 487.8h1.6v1.6h-1.6zM155.8 485.5h1.6v1.6h-1.6zM147.4 494.4h1.6v1.6h-1.6zM154.1 499.5h1.6v1.6h-1.6zM155.2 456.8h1.6v1.6h-1.6zM172.7 501.6h1.6v1.6h-1.6zM150.1 493.9h1.6v1.6h-1.6zM167.8 502.6h1.6v1.6h-1.6zM157.7 476.9h1.6v1.6h-1.6zM141.2 503.8h1.6v1.6h-1.6zM190.3 503.8h1.6v1.6h-1.6zM170.4 502.6h1.6v1.6h-1.6zM148.2 488.2h1.6v1.6h-1.6zM152.3 499.1h1.6v1.6h-1.6zM150.5 487.7h1.6v1.6h-1.6zM138.7 500.6h1.6v1.6h-1.6zM163.3 494.7h1.6v1.6h-1.6zM144.7 498.4h1.6v1.6h-1.6zM176.2 496.1h1.6v1.6h-1.6zM180.0 486.3h1.6v1.6h-1.6zM179.2 492.6h1.6v1.6h-1.6zM169.3 490.4h1.6v1.6h-1.6zM156.4 484.4h1.6v1.6h-1.6zM155.7 466.3h1.6v1.6h-1.6zM172.8 489.6h1.6v1.6h-1.6zM150.6 476.5h1.6v1.6h-1.6zM163.1 498.3h1.6v1.6h-1.6zM177.3 494.4h1.6v1.6h-1.6zM144.9 498.6h1.6v1.6h-1.6zM143.6 496.0h1.6v1.6h-1.6zM149.5 495.1h1.6v1.6h-1.6zM169.1 494.5h1.6v1.6h-1.6zM140.8 502.7h1.6v1.6h-1.6zM186.7 488.5h1.6v1.6h-1.6zM151.1 504.1h1.6v1.6h-1.6zM150.0 448.2h1.6v1.6h-1.6zM172.0 499.8h1.6v1.6h-1.6zM143.6 504.2h1.6v1.6h-1.6zM152.8 500.6h1.6v1.6h-1.6zM163.1 499.1h1.6v1.6h-1.6zM141.1 503.9h1.6v1.6h-1.6zM165.4 481.7h1.6v1.6h-1.6zM192.5 483.7h1.6v1.6h-1.6zM175.4 501.1h1.6v1.6h-1.6zM175.2 500.1h1.6v1.6h-1.6zM142.7 501.7h1.6v1.6h-1.6zM167.2 502.9h1.6v1.6h-1.6zM158.6 496.0h1.6v1.6h-1.6zM190.6 502.9h1.6v1.6h-1.6zM159.9 498.1h1.6v1.6h-1.6zM185.8 503.9h1.6v1.6h-1.6zM141.6 497.9h1.6v1.6h-1.6zM154.0 491.3h1.6v1.6h-1.6zM188.3 502.3h1.6v1.6h-1.6zM174.6 489.8h1.6v1.6h-1.6zM186.5 502.7h1.6v1.6h-1.6zM148.1 493.5h1.6v1.6h-1.6zM167.8 492.3h1.6v1.6h-1.6zM153.1 493.7h1.6v1.6h-1.6zM163.7 468.2h1.6v1.6h-1.6zM160.1 452.3h1.6v1.6h-1.6zM175.6 498.2h1.6v1.6h-1.6zM166.6 502.5h1.6v1.6h-1.6zM156.8 500.9h1.6v1.6h-1.6zM149.7 495.7h1.6v1.6h-1.6zM165.5 502.3h1.6v1.6h-1.6zM147.4 504.3h1.6v1.6h-1.6zM156.1 500.2h1.6v1.6h-1.6zM160.8 485.5h1.6v1.6h-1.6zM166.3 478.5h1.6v1.6h-1.6zM177.6 501.0h1.6v1.6h-1.6zM136.7 504.6h1.6v1.6h-1.6zM140.5 500.2h1.6v1.6h-1.6zM175.4 500.3h1.6v1.6h-1.6zM145.3 495.4h1.6v1.6h-1.6zM183.7 500.6h1.6v1.6h-1.6zM141.9 501.2h1.6v1.6h-1.6zM177.7 498.1h1.6v1.6h-1.6zM153.4 475.3h1.6v1.6h-1.6zM154.8 493.2h1.6v1.6h-1.6zM153.6 481.6h1.6v1.6h-1.6zM157.4 481.8h1.6v1.6h-1.6zM148.5 485.0h1.6v1.6h-1.6zM151.3 503.5h1.6v1.6h-1.6zM188.3 502.7h1.6v1.6h-1.6zM142.9 501.2h1.6v1.6h-1.6zM166.5 497.9h1.6v1.6h-1.6zM170.8 497.9h1.6v1.6h-1.6zM179.9 504.4h1.6v1.6h-1.6zM149.1 498.2h1.6v1.6h-1.6zM173.9 503.7h1.6v1.6h-1.6zM166.9 502.3h1.6v1.6h-1.6zM151.4 477.0h1.6v1.6h-1.6zM155.6 496.0h1.6v1.6h-1.6zM143.9 496.1h1.6v1.6h-1.6zM157.0 495.0h1.6v1.6h-1.6zM146.9 497.8h1.6v1.6h-1.6zM179.6 498.2h1.6v1.6h-1.6zM153.7 482.2h1.6v1.6h-1.6zM153.9 504.1h1.6v1.6h-1.6zM163.3 484.5h1.6v1.6h-1.6zM190.0 502.7h1.6v1.6h-1.6zM161.1 493.7h1.6v1.6h-1.6zM157.6 492.6h1.6v1.6h-1.6zM162.5 499.0h1.6v1.6h-1.6zM160.9 500.7h1.6v1.6h-1.6zM145.8 494.6h1.6v1.6h-1.6zM162.5 493.7h1.6v1.6h-1.6zM154.5 501.5h1.6v1.6h-1.6zM159.7 487.7h1.6v1.6h-1.6zM172.5 500.2h1.6v1.6h-1.6zM148.1 501.2h1.6v1.6h-1.6zM150.3 504.2h1.6v1.6h-1.6zM196.9 503.6h1.6v1.6h-1.6zM175.9 500.3h1.6v1.6h-1.6zM183.1 474.7h1.6v1.6h-1.6zM156.4 490.8h1.6v1.6h-1.6zM150.7 492.7h1.6v1.6h-1.6zM169.3 501.4h1.6v1.6h-1.6zM166.5 496.1h1.6v1.6h-1.6zM168.1 489.5h1.6v1.6h-1.6zM174.2 504.4h1.6v1.6h-1.6zM197.4 504.2h1.6v1.6h-1.6zM185.9 499.0h1.6v1.6h-1.6zM196.2 502.1h1.6v1.6h-1.6zM181.4 502.5h1.6v1.6h-1.6zM173.0 496.4h1.6v1.6h-1.6zM170.1 489.0h1.6v1.6h-1.6zM156.2 495.7h1.6v1.6h-1.6zM166.7 499.9h1.6v1.6h-1.6zM157.1 492.3h1.6v1.6h-1.6zM160.6 494.3h1.6v1.6h-1.6zM171.8 497.5h1.6v1.6h-1.6zM159.0 494.2h1.6v1.6h-1.6zM147.0 499.3h1.6v1.6h-1.6zM171.3 498.4h1.6v1.6h-1.6zM152.6 483.5h1.6v1.6h-1.6zM153.8 492.7h1.6v1.6h-1.6zM157.9 491.2h1.6v1.6h-1.6zM182.6 495.4h1.6v1.6h-1.6zM157.0 496.3h1.6v1.6h-1.6zM168.7 500.0h1.6v1.6h-1.6zM186.3 502.5h1.6v1.6h-1.6zM160.3 487.8h1.6v1.6h-1.6zM184.6 503.3h1.6v1.6h-1.6zM145.4 500.9h1.6v1.6h-1.6zM176.1 490.7h1.6v1.6h-1.6zM185.8 502.0h1.6v1.6h-1.6zM156.5 496.2h1.6v1.6h-1.6zM172.5 484.2h1.6v1.6h-1.6zM161.5 491.0h1.6v1.6h-1.6zM186.6 500.0h1.6v1.6h-1.6zM190.2 502.9h1.6v1.6h-1.6zM170.2 494.5h1.6v1.6h-1.6zM161.7 500.3h1.6v1.6h-1.6zM147.0 489.3h1.6v1.6h-1.6zM163.0 503.9h1.6v1.6h-1.6zM146.7 502.2h1.6v1.6h-1.6zM175.1 504.1h1.6v1.6h-1.6zM159.0 478.1h1.6v1.6h-1.6zM172.5 497.8h1.6v1.6h-1.6zM155.8 480.8h1.6v1.6h-1.6zM145.3 498.4h1.6v1.6h-1.6zM177.7 494.2h1.6v1.6h-1.6zM156.3 485.5h1.6v1.6h-1.6zM160.2 485.5h1.6v1.6h-1.6zM169.6 495.4h1.6v1.6h-1.6zM144.0 496.1h1.6v1.6h-1.6zM175.9 500.4h1.6v1.6h-1.6zM151.6 499.3h1.6v1.6h-1.6zM159.1 476.2h1.6v1.6h-1.6zM150.0 475.8h1.6v1.6h-1.6zM164.4 491.9h1.6v1.6h-1.6zM162.1 493.8h1.6v1.6h-1.6zM147.4 472.3h1.6v1.6h-1.6zM155.0 488.5h1.6v1.6h-1.6zM141.5 478.0h1.6v1.6h-1.6zM198.5 503.9h1.6v1.6h-1.6zM147.1 496.3h1.6v1.6h-1.6zM147.8 504.2h1.6v1.6h-1.6zM163.5 484.7h1.6v1.6h-1.6zM158.6 501.2h1.6v1.6h-1.6zM172.5 504.3h1.6v1.6h-1.6zM177.1 485.3h1.6v1.6h-1.6zM143.8 504.4h1.6v1.6h-1.6zM143.4 503.0h1.6v1.6h-1.6zM162.3 502.4h1.6v1.6h-1.6zM147.5 494.6h1.6v1.6h-1.6zM179.6 503.0h1.6v1.6h-1.6zM149.4 480.3h1.6v1.6h-1.6zM164.9 497.6h1.6v1.6h-1.6zM149.0 484.7h1.6v1.6h-1.6zM156.8 489.5h1.6v1.6h-1.6zM161.2 504.2h1.6v1.6h-1.6zM157.9 490.9h1.6v1.6h-1.6zM164.0 504.3h1.6v1.6h-1.6zM152.6 491.0h1.6v1.6h-1.6zM182.7 499.9h1.6v1.6h-1.6zM167.5 496.3h1.6v1.6h-1.6zM146.0 490.0h1.6v1.6h-1.6zM170.0 503.9h1.6v1.6h-1.6zM144.1 499.2h1.6v1.6h-1.6zM173.2 502.8h1.6v1.6h-1.6zM163.3 484.9h1.6v1.6h-1.6zM190.7 502.3h1.6v1.6h-1.6zM172.4 492.3h1.6v1.6h-1.6zM164.4 488.6h1.6v1.6h-1.6zM178.3 497.1h1.6v1.6h-1.6zM143.2 503.8h1.6v1.6h-1.6zM152.5 499.9h1.6v1.6h-1.6zM155.4 488.9h1.6v1.6h-1.6zM182.4 502.6h1.6v1.6h-1.6zM159.9 484.3h1.6v1.6h-1.6zM170.6 486.7h1.6v1.6h-1.6zM155.9 504.3h1.6v1.6h-1.6zM153.5 503.5h1.6v1.6h-1.6zM166.4 503.0h1.6v1.6h-1.6zM153.4 490.0h1.6v1.6h-1.6zM180.5 502.3h1.6v1.6h-1.6zM142.8 502.3h1.6v1.6h-1.6zM172.3 502.6h1.6v1.6h-1.6zM137.7 454.3h1.6v1.6h-1.6zM163.8 502.9h1.6v1.6h-1.6zM198.2 495.0h1.6v1.6h-1.6zM148.8 493.6h1.6v1.6h-1.6zM180.2 491.8h1.6v1.6h-1.6zM143.0 500.1h1.6v1.6h-1.6zM151.9 502.6h1.6v1.6h-1.6zM160.9 497.3h1.6v1.6h-1.6zM152.4 487.3h1.6v1.6h-1.6zM174.9 485.5h1.6v1.6h-1.6zM165.4 499.8h1.6v1.6h-1.6zM173.6 503.8h1.6v1.6h-1.6zM164.4 493.6h1.6v1.6h-1.6zM162.6 471.7h1.6v1.6h-1.6zM197.0 503.8h1.6v1.6h-1.6zM157.2 466.8h1.6v1.6h-1.6zM172.8 497.5h1.6v1.6h-1.6zM153.7 498.6h1.6v1.6h-1.6zM147.3 496.2h1.6v1.6h-1.6zM153.5 479.3h1.6v1.6h-1.6zM155.1 494.5h1.6v1.6h-1.6zM151.6 486.2h1.6v1.6h-1.6zM144.4 495.1h1.6v1.6h-1.6zM147.4 500.6h1.6v1.6h-1.6zM161.5 489.3h1.6v1.6h-1.6zM159.5 489.2h1.6v1.6h-1.6zM172.1 497.5h1.6v1.6h-1.6zM156.4 502.5h1.6v1.6h-1.6zM156.5 491.9h1.6v1.6h-1.6zM143.3 498.5h1.6v1.6h-1.6zM151.2 486.1h1.6v1.6h-1.6zM144.3 495.5h1.6v1.6h-1.6zM170.6 498.3h1.6v1.6h-1.6zM145.3 504.2h1.6v1.6h-1.6zM150.2 467.6h1.6v1.6h-1.6zM141.7 497.9h1.6v1.6h-1.6zM172.5 501.7h1.6v1.6h-1.6zM164.6 499.0h1.6v1.6h-1.6zM166.9 487.3h1.6v1.6h-1.6zM158.8 502.4h1.6v1.6h-1.6zM174.8 503.3h1.6v1.6h-1.6zM157.3 499.0h1.6v1.6h-1.6zM159.3 501.5h1.6v1.6h-1.6zM159.1 491.8h1.6v1.6h-1.6zM154.5 497.1h1.6v1.6h-1.6zM179.2 499.9h1.6v1.6h-1.6zM154.4 486.1h1.6v1.6h-1.6zM154.5 481.3h1.6v1.6h-1.6zM162.6 501.0h1.6v1.6h-1.6zM157.7 500.3h1.6v1.6h-1.6zM141.0 493.2h1.6v1.6h-1.6zM147.6 486.8h1.6v1.6h-1.6zM166.0 498.1h1.6v1.6h-1.6zM168.6 498.8h1.6v1.6h-1.6zM139.9 502.3h1.6v1.6h-1.6zM163.0 485.7h1.6v1.6h-1.6zM149.3 500.7h1.6v1.6h-1.6zM148.3 479.7h1.6v1.6h-1.6zM159.8 485.9h1.6v1.6h-1.6zM147.2 497.8h1.6v1.6h-1.6zM195.9 503.9h1.6v1.6h-1.6zM147.0 496.0h1.6v1.6h-1.6zM155.3 500.6h1.6v1.6h-1.6zM161.8 488.4h1.6v1.6h-1.6zM169.6 490.5h1.6v1.6h-1.6zM153.7 495.7h1.6v1.6h-1.6zM150.6 485.5h1.6v1.6h-1.6zM154.8 503.3h1.6v1.6h-1.6zM144.9 501.5h1.6v1.6h-1.6zM162.1 485.1h1.6v1.6h-1.6zM159.7 500.2h1.6v1.6h-1.6zM138.3 502.9h1.6v1.6h-1.6zM163.1 491.5h1.6v1.6h-1.6zM159.8 494.3h1.6v1.6h-1.6zM153.9 503.9h1.6v1.6h-1.6zM142.9 481.1h1.6v1.6h-1.6zM152.5 498.2h1.6v1.6h-1.6zM145.6 497.3h1.6v1.6h-1.6zM152.9 481.5h1.6v1.6h-1.6zM184.7 500.7h1.6v1.6h-1.6zM190.2 504.6h1.6v1.6h-1.6zM165.6 503.7h1.6v1.6h-1.6zM158.3 496.5h1.6v1.6h-1.6zM153.4 482.1h1.6v1.6h-1.6zM184.1 496.4h1.6v1.6h-1.6zM181.1 502.3h1.6v1.6h-1.6zM171.7 497.9h1.6v1.6h-1.6zM157.8 499.0h1.6v1.6h-1.6zM162.1 496.4h1.6v1.6h-1.6zM149.8 504.2h1.6v1.6h-1.6zM153.5 491.1h1.6v1.6h-1.6zM155.7 502.5h1.6v1.6h-1.6zM164.4 501.0h1.6v1.6h-1.6zM185.0 504.1h1.6v1.6h-1.6zM188.6 498.5h1.6v1.6h-1.6zM177.8 498.8h1.6v1.6h-1.6zM161.6 493.9h1.6v1.6h-1.6zM145.9 496.2h1.6v1.6h-1.6zM158.8 486.2h1.6v1.6h-1.6zM151.8 483.0h1.6v1.6h-1.6zM148.6 488.8h1.6v1.6h-1.6zM147.0 497.8h1.6v1.6h-1.6zM148.6 500.4h1.6v1.6h-1.6zM168.0 497.4h1.6v1.6h-1.6zM150.6 491.5h1.6v1.6h-1.6zM164.7 500.0h1.6v1.6h-1.6zM154.7 474.4h1.6v1.6h-1.6zM183.5 499.6h1.6v1.6h-1.6zM167.4 499.6h1.6v1.6h-1.6zM170.7 497.8h1.6v1.6h-1.6zM158.3 481.6h1.6v1.6h-1.6zM159.2 492.8h1.6v1.6h-1.6zM182.6 501.6h1.6v1.6h-1.6zM171.2 482.3h1.6v1.6h-1.6zM153.9 496.8h1.6v1.6h-1.6zM150.6 501.3h1.6v1.6h-1.6zM168.5 493.6h1.6v1.6h-1.6zM149.0 496.7h1.6v1.6h-1.6zM154.9 488.2h1.6v1.6h-1.6zM167.1 500.5h1.6v1.6h-1.6zM170.6 504.5h1.6v1.6h-1.6zM149.7 502.9h1.6v1.6h-1.6zM167.4 501.4h1.6v1.6h-1.6zM156.0 462.8h1.6v1.6h-1.6zM162.1 498.5h1.6v1.6h-1.6zM155.7 500.2h1.6v1.6h-1.6zM141.5 497.9h1.6v1.6h-1.6zM183.2 501.3h1.6v1.6h-1.6zM155.9 497.1h1.6v1.6h-1.6zM168.7 496.6h1.6v1.6h-1.6zM153.0 489.3h1.6v1.6h-1.6zM152.8 497.7h1.6v1.6h-1.6zM156.2 485.7h1.6v1.6h-1.6zM157.1 498.4h1.6v1.6h-1.6zM174.4 490.0h1.6v1.6h-1.6zM158.5 496.5h1.6v1.6h-1.6zM162.6 498.4h1.6v1.6h-1.6zM152.5 497.2h1.6v1.6h-1.6zM156.4 482.6h1.6v1.6h-1.6zM157.7 495.8h1.6v1.6h-1.6zM168.2 492.5h1.6v1.6h-1.6zM147.9 491.3h1.6v1.6h-1.6zM155.8 493.8h1.6v1.6h-1.6zM156.4 498.8h1.6v1.6h-1.6zM151.9 486.2h1.6v1.6h-1.6zM148.9 487.6h1.6v1.6h-1.6zM171.9 495.6h1.6v1.6h-1.6zM143.5 503.4h1.6v1.6h-1.6zM153.1 502.2h1.6v1.6h-1.6zM158.1 486.4h1.6v1.6h-1.6zM171.2 491.6h1.6v1.6h-1.6zM153.1 491.8h1.6v1.6h-1.6zM147.7 481.0h1.6v1.6h-1.6zM169.9 496.8h1.6v1.6h-1.6zM151.4 485.7h1.6v1.6h-1.6zM174.5 493.0h1.6v1.6h-1.6zM162.7 488.3h1.6v1.6h-1.6zM172.4 503.2h1.6v1.6h-1.6zM152.9 492.9h1.6v1.6h-1.6zM144.6 500.1h1.6v1.6h-1.6zM157.5 501.5h1.6v1.6h-1.6zM206.3 501.8h1.6v1.6h-1.6zM158.7 494.9h1.6v1.6h-1.6zM156.2 493.6h1.6v1.6h-1.6zM178.4 495.2h1.6v1.6h-1.6zM167.8 500.8h1.6v1.6h-1.6zM153.3 493.6h1.6v1.6h-1.6zM147.2 500.4h1.6v1.6h-1.6zM160.7 486.4h1.6v1.6h-1.6zM168.1 498.8h1.6v1.6h-1.6zM157.6 500.1h1.6v1.6h-1.6zM139.6 502.7h1.6v1.6h-1.6zM171.1 498.6h1.6v1.6h-1.6zM163.6 501.4h1.6v1.6h-1.6zM163.2 480.1h1.6v1.6h-1.6zM162.8 486.7h1.6v1.6h-1.6zM166.5 500.0h1.6v1.6h-1.6zM158.7 491.4h1.6v1.6h-1.6zM164.1 484.4h1.6v1.6h-1.6zM161.2 492.2h1.6v1.6h-1.6zM155.8 470.1h1.6v1.6h-1.6zM156.0 468.4h1.6v1.6h-1.6zM180.9 494.0h1.6v1.6h-1.6zM163.2 495.3h1.6v1.6h-1.6zM182.9 502.6h1.6v1.6h-1.6zM159.2 494.1h1.6v1.6h-1.6zM178.8 502.8h1.6v1.6h-1.6zM175.0 480.0h1.6v1.6h-1.6zM192.7 503.8h1.6v1.6h-1.6zM158.2 489.9h1.6v1.6h-1.6zM150.0 484.8h1.6v1.6h-1.6zM166.2 500.1h1.6v1.6h-1.6zM166.7 504.0h1.6v1.6h-1.6zM185.1 498.7h1.6v1.6h-1.6zM152.0 503.7h1.6v1.6h-1.6zM158.5 497.2h1.6v1.6h-1.6zM206.7 501.2h1.6v1.6h-1.6zM149.1 491.1h1.6v1.6h-1.6zM168.6 489.4h1.6v1.6h-1.6zM187.6 502.3h1.6v1.6h-1.6zM156.7 486.0h1.6v1.6h-1.6zM149.6 503.9h1.6v1.6h-1.6zM144.7 498.2h1.6v1.6h-1.6zM163.2 500.1h1.6v1.6h-1.6zM178.8 504.0h1.6v1.6h-1.6zM144.1 482.3h1.6v1.6h-1.6zM161.1 490.7h1.6v1.6h-1.6zM155.8 488.3h1.6v1.6h-1.6zM172.6 502.8h1.6v1.6h-1.6zM193.8 503.8h1.6v1.6h-1.6zM205.0 481.8h1.6v1.6h-1.6zM183.2 499.9h1.6v1.6h-1.6zM161.9 484.0h1.6v1.6h-1.6zM188.6 489.1h1.6v1.6h-1.6zM183.9 502.6h1.6v1.6h-1.6zM191.4 503.7h1.6v1.6h-1.6zM154.4 487.6h1.6v1.6h-1.6zM151.5 479.8h1.6v1.6h-1.6zM193.5 504.0h1.6v1.6h-1.6zM143.3 501.7h1.6v1.6h-1.6zM150.5 496.2h1.6v1.6h-1.6zM187.3 498.6h1.6v1.6h-1.6zM141.7 501.7h1.6v1.6h-1.6zM162.3 492.0h1.6v1.6h-1.6zM180.9 496.2h1.6v1.6h-1.6zM161.9 497.3h1.6v1.6h-1.6zM172.3 498.7h1.6v1.6h-1.6zM161.4 481.9h1.6v1.6h-1.6zM159.6 503.3h1.6v1.6h-1.6zM153.4 490.0h1.6v1.6h-1.6zM162.2 501.4h1.6v1.6h-1.6zM149.3 491.9h1.6v1.6h-1.6zM143.6 502.4h1.6v1.6h-1.6zM166.6 493.1h1.6v1.6h-1.6zM185.2 498.3h1.6v1.6h-1.6zM147.7 501.8h1.6v1.6h-1.6zM156.0 499.7h1.6v1.6h-1.6zM156.7 494.8h1.6v1.6h-1.6zM176.1 502.0h1.6v1.6h-1.6zM152.6 495.3h1.6v1.6h-1.6zM163.8 499.7h1.6v1.6h-1.6zM159.1 499.1h1.6v1.6h-1.6zM157.8 495.6h1.6v1.6h-1.6zM176.6 499.6h1.6v1.6h-1.6zM166.4 503.9h1.6v1.6h-1.6zM155.2 495.9h1.6v1.6h-1.6zM172.7 495.4h1.6v1.6h-1.6zM153.6 496.5h1.6v1.6h-1.6zM159.5 492.0h1.6v1.6h-1.6zM138.4 502.6h1.6v1.6h-1.6zM191.1 501.9h1.6v1.6h-1.6zM155.7 488.2h1.6v1.6h-1.6zM164.2 500.5h1.6v1.6h-1.6zM147.9 500.2h1.6v1.6h-1.6zM150.0 487.0h1.6v1.6h-1.6zM145.5 492.2h1.6v1.6h-1.6zM174.0 500.1h1.6v1.6h-1.6zM142.0 502.0h1.6v1.6h-1.6zM155.5 470.2h1.6v1.6h-1.6zM140.5 502.4h1.6v1.6h-1.6zM142.7 501.0h1.6v1.6h-1.6zM153.3 495.3h1.6v1.6h-1.6zM179.9 485.6h1.6v1.6h-1.6zM141.1 496.4h1.6v1.6h-1.6zM160.9 500.0h1.6v1.6h-1.6zM157.1 488.1h1.6v1.6h-1.6zM167.1 503.5h1.6v1.6h-1.6zM150.2 498.1h1.6v1.6h-1.6zM145.9 499.4h1.6v1.6h-1.6zM150.9 461.2h1.6v1.6h-1.6zM146.8 500.1h1.6v1.6h-1.6zM148.2 502.3h1.6v1.6h-1.6zM166.5 501.9h1.6v1.6h-1.6zM163.8 503.7h1.6v1.6h-1.6zM160.2 489.7h1.6v1.6h-1.6zM156.6 503.3h1.6v1.6h-1.6zM154.0 490.9h1.6v1.6h-1.6zM160.8 480.6h1.6v1.6h-1.6zM171.2 501.8h1.6v1.6h-1.6zM180.3 499.6h1.6v1.6h-1.6zM174.1 484.2h1.6v1.6h-1.6zM148.2 500.9h1.6v1.6h-1.6zM162.7 498.6h1.6v1.6h-1.6zM172.1 499.5h1.6v1.6h-1.6zM167.9 501.1h1.6v1.6h-1.6zM185.7 503.9h1.6v1.6h-1.6zM159.1 490.1h1.6v1.6h-1.6zM165.0 503.6h1.6v1.6h-1.6zM174.9 500.3h1.6v1.6h-1.6zM149.9 502.0h1.6v1.6h-1.6zM161.6 484.6h1.6v1.6h-1.6zM177.1 485.3h1.6v1.6h-1.6zM183.4 501.8h1.6v1.6h-1.6zM163.3 497.2h1.6v1.6h-1.6zM147.5 494.3h1.6v1.6h-1.6zM165.5 455.8h1.6v1.6h-1.6zM151.1 491.2h1.6v1.6h-1.6zM152.0 501.4h1.6v1.6h-1.6zM163.1 474.8h1.6v1.6h-1.6zM143.1 496.8h1.6v1.6h-1.6zM179.9 496.5h1.6v1.6h-1.6zM157.0 483.9h1.6v1.6h-1.6zM160.9 498.6h1.6v1.6h-1.6zM164.5 458.1h1.6v1.6h-1.6zM188.4 501.6h1.6v1.6h-1.6zM168.4 498.8h1.6v1.6h-1.6zM144.2 504.3h1.6v1.6h-1.6zM145.4 502.6h1.6v1.6h-1.6zM180.6 476.8h1.6v1.6h-1.6zM148.6 503.2h1.6v1.6h-1.6zM147.0 495.6h1.6v1.6h-1.6zM140.2 504.4h1.6v1.6h-1.6zM162.4 502.2h1.6v1.6h-1.6zM161.6 483.6h1.6v1.6h-1.6zM181.9 503.0h1.6v1.6h-1.6zM154.6 483.6h1.6v1.6h-1.6zM148.6 502.8h1.6v1.6h-1.6zM152.8 503.2h1.6v1.6h-1.6zM149.7 500.4h1.6v1.6h-1.6zM155.7 495.6h1.6v1.6h-1.6zM152.6 472.6h1.6v1.6h-1.6zM157.8 496.4h1.6v1.6h-1.6zM148.7 489.6h1.6v1.6h-1.6zM158.7 475.3h1.6v1.6h-1.6zM175.6 504.5h1.6v1.6h-1.6zM161.3 476.3h1.6v1.6h-1.6zM190.8 502.9h1.6v1.6h-1.6zM145.7 503.3h1.6v1.6h-1.6zM190.6 503.1h1.6v1.6h-1.6zM155.1 479.5h1.6v1.6h-1.6zM181.3 503.5h1.6v1.6h-1.6zM165.0 493.4h1.6v1.6h-1.6zM176.0 496.1h1.6v1.6h-1.6zM153.8 499.3h1.6v1.6h-1.6zM163.2 495.6h1.6v1.6h-1.6zM147.4 504.4h1.6v1.6h-1.6zM160.1 496.1h1.6v1.6h-1.6zM183.8 500.8h1.6v1.6h-1.6zM154.6 486.0h1.6v1.6h-1.6zM149.7 489.7h1.6v1.6h-1.6zM177.8 494.9h1.6v1.6h-1.6zM172.7 493.6h1.6v1.6h-1.6zM169.1 492.7h1.6v1.6h-1.6zM164.4 504.0h1.6v1.6h-1.6zM158.5 502.5h1.6v1.6h-1.6zM197.5 504.6h1.6v1.6h-1.6zM145.0 497.7h1.6v1.6h-1.6zM186.9 502.1h1.6v1.6h-1.6zM146.6 497.9h1.6v1.6h-1.6zM166.9 497.8h1.6v1.6h-1.6zM169.4 500.6h1.6v1.6h-1.6zM160.8 495.0h1.6v1.6h-1.6zM154.1 503.9h1.6v1.6h-1.6zM164.9 497.8h1.6v1.6h-1.6zM159.7 502.7h1.6v1.6h-1.6zM174.4 493.9h1.6v1.6h-1.6zM152.4 494.5h1.6v1.6h-1.6zM181.0 500.4h1.6v1.6h-1.6zM168.0 491.5h1.6v1.6h-1.6zM155.1 494.3h1.6v1.6h-1.6zM186.4 502.6h1.6v1.6h-1.6zM154.1 493.5h1.6v1.6h-1.6zM157.0 486.4h1.6v1.6h-1.6zM165.3 495.3h1.6v1.6h-1.6zM156.0 492.3h1.6v1.6h-1.6zM150.8 502.9h1.6v1.6h-1.6zM187.8 502.4h1.6v1.6h-1.6zM156.5 493.0h1.6v1.6h-1.6zM153.1 497.6h1.6v1.6h-1.6zM166.8 497.2h1.6v1.6h-1.6zM159.2 501.3h1.6v1.6h-1.6zM139.6 501.6h1.6v1.6h-1.6zM169.4 503.9h1.6v1.6h-1.6zM154.9 481.5h1.6v1.6h-1.6zM160.9 480.0h1.6v1.6h-1.6zM172.8 503.6h1.6v1.6h-1.6zM164.3 501.5h1.6v1.6h-1.6zM158.5 503.4h1.6v1.6h-1.6zM174.8 483.4h1.6v1.6h-1.6zM178.7 500.1h1.6v1.6h-1.6zM157.4 498.0h1.6v1.6h-1.6zM140.3 504.5h1.6v1.6h-1.6zM175.9 490.7h1.6v1.6h-1.6zM166.1 491.3h1.6v1.6h-1.6zM178.3 504.3h1.6v1.6h-1.6zM198.3 504.5h1.6v1.6h-1.6zM152.0 493.3h1.6v1.6h-1.6zM170.7 487.9h1.6v1.6h-1.6zM195.0 495.3h1.6v1.6h-1.6zM175.4 504.0h1.6v1.6h-1.6zM159.8 490.5h1.6v1.6h-1.6zM171.6 497.0h1.6v1.6h-1.6zM163.9 484.6h1.6v1.6h-1.6zM181.4 496.4h1.6v1.6h-1.6zM166.5 491.0h1.6v1.6h-1.6zM152.1 479.2h1.6v1.6h-1.6zM171.4 486.7h1.6v1.6h-1.6zM161.1 490.4h1.6v1.6h-1.6zM157.9 498.3h1.6v1.6h-1.6zM180.8 504.4h1.6v1.6h-1.6zM145.2 496.4h1.6v1.6h-1.6zM169.5 491.3h1.6v1.6h-1.6zM171.3 494.8h1.6v1.6h-1.6zM149.5 487.9h1.6v1.6h-1.6zM143.3 497.9h1.6v1.6h-1.6zM154.9 469.4h1.6v1.6h-1.6zM147.5 488.2h1.6v1.6h-1.6zM180.3 503.7h1.6v1.6h-1.6zM159.0 500.2h1.6v1.6h-1.6zM179.6 499.1h1.6v1.6h-1.6zM143.2 495.8h1.6v1.6h-1.6zM171.0 489.6h1.6v1.6h-1.6zM147.0 497.8h1.6v1.6h-1.6zM154.2 468.1h1.6v1.6h-1.6zM158.6 457.2h1.6v1.6h-1.6zM170.3 457.9h1.6v1.6h-1.6zM187.1 441.1h1.6v1.6h-1.6zM187.1 454.2h1.6v1.6h-1.6zM213.4 470.3h1.6v1.6h-1.6zM191.9 484.6h1.6v1.6h-1.6zM195.8 496.6h1.6v1.6h-1.6zM201.7 503.6h1.6v1.6h-1.6zM154.7 454.2h1.6v1.6h-1.6zM156.7 459.2h1.6v1.6h-1.6z" fill="#f21414"/>
<line x1="128.6" y1="365.7" x2="128.6" y2="513" stroke="#444" stroke-width="0.7" stroke-dasharray="1.5 1.3"/>
<line x1="137.2" y1="365.7" x2="137.2" y2="513" stroke="#444" stroke-width="0.7" stroke-dasharray="1.5 1.3"/>
<line x1="25" y1="505.4" x2="215" y2="505.4" stroke="#444" stroke-width="0.7" stroke-dasharray="1.5 1.3"/>
<text x="23" y="374" font-size="4.2" text-anchor="middle" fill="#777">50</text>
<text x="23" y="401.5" font-size="4.2" text-anchor="middle" fill="#777">40</text>
<text x="23" y="428.7" font-size="4.2" text-anchor="middle" fill="#777">30</text>
<text x="23" y="456" font-size="4.2" text-anchor="middle" fill="#777">20</text>
<text x="23" y="483" font-size="4.2" text-anchor="middle" fill="#777">10</text>
<text x="23" y="510.5" font-size="4.2" text-anchor="middle" fill="#777">0</text>
<text x="58.5" y="520" font-size="4.2" text-anchor="middle" fill="#777">-10</text>
<text x="95.6" y="520" font-size="4.2" text-anchor="middle" fill="#777">-5</text>
<text x="132.9" y="520" font-size="4.2" text-anchor="middle" fill="#777">0</text>
<text x="170.3" y="520" font-size="4.2" text-anchor="middle" fill="#777">5</text>
<text x="208.2" y="520" font-size="4.2" text-anchor="middle" fill="#777">10</text>
<text x="54" y="399.79" font-size="7.24" textLength="28.9" lengthAdjust="spacingAndGlyphs">MYO18B</text>
<text x="85.1" y="430.29" font-size="7.24" textLength="24.1" lengthAdjust="spacingAndGlyphs">NKX2-5</text>
<text x="73.2" y="452.39" font-size="7.24" textLength="19.3" lengthAdjust="spacingAndGlyphs">MYH6</text>
<text x="94.1" y="459.79" font-size="7.24" textLength="22.2" lengthAdjust="spacingAndGlyphs">TNNT2</text>
<text x="81.9" y="471.69" font-size="7.24" textLength="21.5" lengthAdjust="spacingAndGlyphs">ACTA1</text>
<text x="90.6" y="478.09" font-size="7.24" textLength="19.2" lengthAdjust="spacingAndGlyphs">NPPB</text>
<text x="104.4" y="483.89" font-size="7.24" textLength="33.4" lengthAdjust="spacingAndGlyphs">CACNA1C</text>
<text x="131" y="453.99" font-size="7.24" textLength="28.7" lengthAdjust="spacingAndGlyphs">CDKN1C</text>
<text x="163.1" y="452.49" font-size="7.24" textLength="14.6" lengthAdjust="spacingAndGlyphs">IGF1</text>
<text x="161.6" y="467.09" font-size="7.24" textLength="18" lengthAdjust="spacingAndGlyphs">BCL2</text>
<text x="161.2" y="478.39" font-size="7.24" textLength="33.3" lengthAdjust="spacingAndGlyphs">ONECUT2</text>
<text x="195.6" y="486.09" font-size="7.24" textLength="22.2" lengthAdjust="spacingAndGlyphs">NBAT1</text>
<text x="180.6" y="494.09" font-size="7.24" textLength="24.8" lengthAdjust="spacingAndGlyphs">ZNF717</text>
<text x="140.7" y="505.09" font-size="7.24" textLength="14" lengthAdjust="spacingAndGlyphs">ISL1</text>
<text x="112.2" y="529" font-size="9.7" textLength="30.2" lengthAdjust="spacingAndGlyphs">Log<tspan font-size="6" dy="2.2">2</tspan><tspan dy="-2.2">FC</tspan></text>
<text transform="translate(16.1,449.5) rotate(-90)" x="0" y="0" font-size="9.8" text-anchor="middle" textLength="43" lengthAdjust="spacingAndGlyphs">-Log<tspan font-size="6" dy="2.2">10</tspan><tspan dy="-2.2">Adjp</tspan></text>
<text x="221.7" y="186.9" font-size="17.18" font-weight="bold" textLength="11.3" lengthAdjust="spacingAndGlyphs">D</text>
<text x="433.9" y="198.2" font-size="10.75" font-weight="bold" textLength="77.1" lengthAdjust="spacingAndGlyphs">Down-regulated</text>
<line x1="265" y1="203.3" x2="676.4" y2="203.3" stroke="#000" stroke-width="1.1"/>
<text x="440.9" y="356.1" font-size="10.34" font-weight="bold" textLength="63.2" lengthAdjust="spacingAndGlyphs">Up-regulated</text>
<line x1="265" y1="361.6" x2="676.7" y2="361.6" stroke="#000" stroke-width="1.1"/>
<line x1="280.7" y1="267.8" x2="280.7" y2="284.8" stroke="#888" stroke-width="0.9"/>
<line x1="277.7" y1="267.8" x2="283.7" y2="267.8" stroke="#888" stroke-width="0.9"/>
<rect x="274.3" y="284.8" width="12.8" height="51.7" fill="#000"/>
<line x1="309.7" y1="282.2" x2="309.7" y2="294.9" stroke="#888" stroke-width="0.9"/>
<line x1="306.7" y1="282.2" x2="312.7" y2="282.2" stroke="#888" stroke-width="0.9"/>
<rect x="303.7" y="295.3" width="12" height="41.2" fill="#8a8a8a" stroke="#4a4a4a" stroke-width="0.8"/>
<line x1="309.7" y1="294.9" x2="309.7" y2="307.3" stroke="#444" stroke-width="0.9"/>
<line x1="306.7" y1="307.3" x2="312.7" y2="307.3" stroke="#444" stroke-width="0.9"/>
<line x1="324.2" y1="307.3" x2="324.2" y2="317.2" stroke="#888" stroke-width="0.9"/>
<line x1="321.2" y1="307.3" x2="327.2" y2="307.3" stroke="#888" stroke-width="0.9"/>
<rect x="318.2" y="317.6" width="12" height="18.9" fill="#ececec" stroke="#777" stroke-width="0.8"/>
<line x1="324.2" y1="317.2" x2="324.2" y2="327.1" stroke="#444" stroke-width="0.9"/>
<line x1="321.2" y1="327.1" x2="327.2" y2="327.1" stroke="#444" stroke-width="0.9"/>
<line x1="267.5" y1="221.5" x2="267.5" y2="337" stroke="#4a4a4a" stroke-width="1"/>
<line x1="267.5" y1="336.5" x2="337.5" y2="336.5" stroke="#4a4a4a" stroke-width="1"/>
<line x1="263" y1="221.5" x2="267.5" y2="221.5" stroke="#4a4a4a" stroke-width="1"/>
<text x="261.6" y="226.5" font-size="8.9" text-anchor="end">0.2</text>
<line x1="263" y1="278.5" x2="267.5" y2="278.5" stroke="#4a4a4a" stroke-width="1"/>
<text x="261.6" y="282.6" font-size="8.9" text-anchor="end">0.1</text>
<line x1="263" y1="336.5" x2="267.5" y2="336.5" stroke="#4a4a4a" stroke-width="1"/>
<text x="261.6" y="340.6" font-size="8.9" text-anchor="end">0</text>
<circle cx="275.8" cy="243.9" r="2" fill="#fff" stroke="#444" stroke-width="0.8"/>
<circle cx="285.3" cy="245.4" r="2" fill="#fff" stroke="#444" stroke-width="0.8"/>
<circle cx="280.5" cy="296.3" r="1.9" fill="#fff" stroke="#fff" stroke-width="0.2"/>
<circle cx="280.5" cy="315.3" r="1.9" fill="#fff" stroke="#fff" stroke-width="0.2"/>
<circle cx="280.5" cy="322.7" r="1.9" fill="#fff" stroke="#fff" stroke-width="0.2"/>
<circle cx="290.5" cy="335.2" r="2" fill="#fff" stroke="#444" stroke-width="0.8"/>
<circle cx="293.5" cy="335.2" r="2" fill="#fff" stroke="#444" stroke-width="0.8"/>
<circle cx="296.5" cy="335.2" r="2" fill="#fff" stroke="#444" stroke-width="0.8"/>
<circle cx="299.5" cy="335.2" r="2" fill="#fff" stroke="#444" stroke-width="0.8"/>
<path d="M307.7 259.82h4.2l-2.1 3.36z" fill="#fff" stroke="#444" stroke-width="0.75"/>
<path d="M307.7 269.62h4.2l-2.1 3.36z" fill="#fff" stroke="#444" stroke-width="0.75"/>
<path d="M307.7 294.43h4.2l-2.1 3.36z" fill="#fff" stroke="#444" stroke-width="0.75"/>
<circle cx="309.8" cy="317.9" r="2" fill="#fff" stroke="#444" stroke-width="0.8"/>
<circle cx="309.8" cy="324.8" r="2" fill="#fff" stroke="#444" stroke-width="0.8"/>
<path d="M322.3 277.62h4.2l-2.1 3.36z" fill="#fff" stroke="#444" stroke-width="0.75"/>
<path d="M322.3 314.12h4.2l-2.1 3.36z" fill="#fff" stroke="#444" stroke-width="0.75"/>
<path d="M322.3 321.12h4.2l-2.1 3.36z" fill="#fff" stroke="#444" stroke-width="0.75"/>
<path d="M317.7 330.23h4.2l-2.1 3.36z" fill="#fff" stroke="#444" stroke-width="0.75"/>
<path d="M326.7 330.23h4.2l-2.1 3.36z" fill="#fff" stroke="#444" stroke-width="0.75"/>
<text x="275.8" y="234.9" font-size="8.83" textLength="22.9" lengthAdjust="spacingAndGlyphs">0.0061</text>
<line x1="280.1" y1="236.5" x2="294.9" y2="236.5" stroke="#000" stroke-width="0.8"/>
<text x="305.7" y="253.9" font-size="9.33" fill="#9a9a9a" textLength="23.1" lengthAdjust="spacingAndGlyphs">0.0099</text>
<line x1="310" y1="255.5" x2="325" y2="255.5" stroke="#9a9a9a" stroke-width="0.8"/>
<text x="285.1" y="218.8" font-size="10.06" font-weight="bold" font-style="italic" textLength="35.9" lengthAdjust="spacingAndGlyphs">NKX2-5</text>
<line x1="365.7" y1="282.3" x2="365.7" y2="297.4" stroke="#888" stroke-width="0.9"/>
<line x1="362.7" y1="282.3" x2="368.7" y2="282.3" stroke="#888" stroke-width="0.9"/>
<rect x="359.3" y="297.4" width="12.8" height="39.1" fill="#000"/>
<line x1="394.7" y1="308" x2="394.7" y2="314.4" stroke="#888" stroke-width="0.9"/>
<line x1="391.7" y1="308" x2="397.7" y2="308" stroke="#888" stroke-width="0.9"/>
<rect x="388.7" y="314.8" width="12" height="21.7" fill="#8a8a8a" stroke="#4a4a4a" stroke-width="0.8"/>
<line x1="409.2" y1="320" x2="409.2" y2="325.7" stroke="#888" stroke-width="0.9"/>
<line x1="406.2" y1="320" x2="412.2" y2="320" stroke="#888" stroke-width="0.9"/>
<rect x="403.2" y="326.1" width="12" height="10.4" fill="#ececec" stroke="#777" stroke-width="0.8"/>
<line x1="352.5" y1="221.5" x2="352.5" y2="337" stroke="#4a4a4a" stroke-width="1"/>
<line x1="352.5" y1="336.5" x2="421.7" y2="336.5" stroke="#4a4a4a" stroke-width="1"/>
<line x1="348" y1="221.5" x2="352.5" y2="221.5" stroke="#4a4a4a" stroke-width="1"/>
<text x="347.4" y="226.5" font-size="8.9" text-anchor="end">0.8</text>
<line x1="348" y1="278.5" x2="352.5" y2="278.5" stroke="#4a4a4a" stroke-width="1"/>
<text x="347.4" y="282.6" font-size="8.9" text-anchor="end">0.4</text>
<line x1="348" y1="336.5" x2="352.5" y2="336.5" stroke="#4a4a4a" stroke-width="1"/>
<text x="347.4" y="340.6" font-size="8.9" text-anchor="end">0</text>
<circle cx="365.5" cy="250.3" r="2" fill="#fff" stroke="#444" stroke-width="0.8"/>
<circle cx="365.5" cy="274.5" r="2" fill="#fff" stroke="#444" stroke-width="0.8"/>
<circle cx="365.5" cy="316" r="1.9" fill="#fff" stroke="#fff" stroke-width="0.2"/>
<circle cx="361.3" cy="324.6" r="1.9" fill="#fff" stroke="#fff" stroke-width="0.2"/>
<circle cx="370" cy="320.8" r="1.9" fill="#fff" stroke="#fff" stroke-width="0.2"/>
<circle cx="376" cy="335.2" r="2" fill="#fff" stroke="#444" stroke-width="0.8"/>
<circle cx="380.5" cy="335.2" r="2" fill="#fff" stroke="#444" stroke-width="0.8"/>
<circle cx="385" cy="335.2" r="2" fill="#fff" stroke="#444" stroke-width="0.8"/>
<path d="M392.4 293.93h4.2l-2.1 3.36z" fill="#fff" stroke="#444" stroke-width="0.75"/>
<path d="M392.4 300.82h4.2l-2.1 3.36z" fill="#fff" stroke="#444" stroke-width="0.75"/>
<circle cx="390.5" cy="323.6" r="2" fill="#fff" stroke="#444" stroke-width="0.8"/>
<circle cx="394.5" cy="322" r="2" fill="#fff" stroke="#444" stroke-width="0.8"/>
<circle cx="398.5" cy="323.6" r="2" fill="#fff" stroke="#444" stroke-width="0.8"/>
<path d="M407.2 306.93h4.2l-2.1 3.36z" fill="#fff" stroke="#444" stroke-width="0.75"/>
<path d="M407.2 318.43h4.2l-2.1 3.36z" fill="#fff" stroke="#444" stroke-width="0.75"/>
<path d="M403.2 329.43h4.2l-2.1 3.36z" fill="#fff" stroke="#444" stroke-width="0.75"/>
<path d="M411.4 329.43h4.2l-2.1 3.36z" fill="#fff" stroke="#444" stroke-width="0.75"/>
<circle cx="409.3" cy="326.5" r="2" fill="#fff" stroke="#444" stroke-width="0.8"/>
<text x="360.5" y="242.5" font-size="9.16" textLength="23.7" lengthAdjust="spacingAndGlyphs">0.0006</text>
<line x1="364.8" y1="244.1" x2="380.4" y2="244.1" stroke="#000" stroke-width="0.8"/>
<text x="392.2" y="290.5" font-size="9.83" fill="#9a9a9a" textLength="18.9" lengthAdjust="spacingAndGlyphs">0.024</text>
<line x1="396.5" y1="292.1" x2="407.3" y2="292.1" stroke="#9a9a9a" stroke-width="0.8"/>
<text x="365.8" y="218.8" font-size="10.06" font-weight="bold" font-style="italic" textLength="42" lengthAdjust="spacingAndGlyphs">MYO18B</text>
<line x1="454.7" y1="304.2" x2="454.7" y2="312.5" stroke="#888" stroke-width="0.9"/>
<line x1="451.7" y1="304.2" x2="457.7" y2="304.2" stroke="#888" stroke-width="0.9"/>
<rect x="448.3" y="312.5" width="12.8" height="24" fill="#000"/>
<line x1="483.7" y1="293.7" x2="483.7" y2="308" stroke="#888" stroke-width="0.9"/>
<line x1="480.7" y1="293.7" x2="486.7" y2="293.7" stroke="#888" stroke-width="0.9"/>
<rect x="477.7" y="308.4" width="12" height="28.1" fill="#8a8a8a" stroke="#4a4a4a" stroke-width="0.8"/>
<line x1="483.7" y1="308" x2="483.7" y2="321.6" stroke="#444" stroke-width="0.9"/>
<line x1="480.7" y1="321.6" x2="486.7" y2="321.6" stroke="#444" stroke-width="0.9"/>
<line x1="498.2" y1="320.5" x2="498.2" y2="326.1" stroke="#888" stroke-width="0.9"/>
<line x1="495.2" y1="320.5" x2="501.2" y2="320.5" stroke="#888" stroke-width="0.9"/>
<rect x="492.2" y="326.5" width="12" height="10" fill="#ececec" stroke="#777" stroke-width="0.8"/>
<line x1="441.5" y1="221.5" x2="441.5" y2="337" stroke="#4a4a4a" stroke-width="1"/>
<line x1="441.5" y1="336.5" x2="509.5" y2="336.5" stroke="#4a4a4a" stroke-width="1"/>
<line x1="437" y1="221.5" x2="441.5" y2="221.5" stroke="#4a4a4a" stroke-width="1"/>
<text x="434.2" y="226.5" font-size="8.9" text-anchor="end">3</text>
<line x1="437" y1="278.5" x2="441.5" y2="278.5" stroke="#4a4a4a" stroke-width="1"/>
<text x="434.2" y="282.6" font-size="8.9" text-anchor="end">1.5</text>
<line x1="437" y1="336.5" x2="441.5" y2="336.5" stroke="#4a4a4a" stroke-width="1"/>
<text x="434.2" y="340.6" font-size="8.9" text-anchor="end">0</text>
<circle cx="453.5" cy="289.9" r="2" fill="#fff" stroke="#444" stroke-width="0.8"/>
<circle cx="453.5" cy="301.5" r="2" fill="#fff" stroke="#444" stroke-width="0.8"/>
<circle cx="453.5" cy="310.3" r="2" fill="#fff" stroke="#444" stroke-width="0.8"/>
<circle cx="453.5" cy="327.6" r="1.9" fill="#fff" stroke="#fff" stroke-width="0.2"/>
<circle cx="453.5" cy="332.9" r="1.9" fill="#fff" stroke="#fff" stroke-width="0.2"/>
<circle cx="463" cy="335.2" r="2" fill="#fff" stroke="#444" stroke-width="0.8"/>
<circle cx="466.33" cy="335.2" r="2" fill="#fff" stroke="#444" stroke-width="0.8"/>
<circle cx="469.67" cy="335.2" r="2" fill="#fff" stroke="#444" stroke-width="0.8"/>
<circle cx="473" cy="335.2" r="2" fill="#fff" stroke="#444" stroke-width="0.8"/>
<path d="M480.1 253.53h4.2l-2.1 3.36z" fill="#fff" stroke="#444" stroke-width="0.75"/>
<path d="M480.1 301.12h4.2l-2.1 3.36z" fill="#fff" stroke="#444" stroke-width="0.75"/>
<circle cx="482.2" cy="315.1" r="2" fill="#fff" stroke="#444" stroke-width="0.8"/>
<circle cx="482.2" cy="327.6" r="2" fill="#fff" stroke="#444" stroke-width="0.8"/>
<circle cx="482.2" cy="333.7" r="2" fill="#fff" stroke="#444" stroke-width="0.8"/>
<path d="M494.3 302.32h4.2l-2.1 3.36z" fill="#fff" stroke="#444" stroke-width="0.75"/>
<path d="M494.3 322.03h4.2l-2.1 3.36z" fill="#fff" stroke="#444" stroke-width="0.75"/>
<path d="M490.5 329.43h4.2l-2.1 3.36z" fill="#fff" stroke="#444" stroke-width="0.75"/>
<path d="M498.3 329.43h4.2l-2.1 3.36z" fill="#fff" stroke="#444" stroke-width="0.75"/>
<circle cx="496.4" cy="328" r="2" fill="#fff" stroke="#444" stroke-width="0.8"/>
<text x="448.5" y="283.3" font-size="9.16" textLength="23.1" lengthAdjust="spacingAndGlyphs">0.0054</text>
<line x1="452.8" y1="284.9" x2="467.8" y2="284.9" stroke="#000" stroke-width="0.8"/>
<text x="477.7" y="247.8" font-size="9.16" fill="#9a9a9a" textLength="23.2" lengthAdjust="spacingAndGlyphs">0.0022</text>
<line x1="482" y1="249.4" x2="497.1" y2="249.4" stroke="#9a9a9a" stroke-width="0.8"/>
<text x="458.3" y="218.8" font-size="10.06" font-weight="bold" font-style="italic" textLength="34" lengthAdjust="spacingAndGlyphs">ACTA1</text>
<line x1="540.7" y1="289.4" x2="540.7" y2="301.5" stroke="#888" stroke-width="0.9"/>
<line x1="537.7" y1="289.4" x2="543.7" y2="289.4" stroke="#888" stroke-width="0.9"/>
<rect x="534.3" y="301.5" width="12.8" height="35" fill="#000"/>
<line x1="569.7" y1="264.7" x2="569.7" y2="279" stroke="#888" stroke-width="0.9"/>
<line x1="566.7" y1="264.7" x2="572.7" y2="264.7" stroke="#888" stroke-width="0.9"/>
<rect x="563.7" y="279.4" width="12" height="57.1" fill="#8a8a8a" stroke="#4a4a4a" stroke-width="0.8"/>
<line x1="569.7" y1="279" x2="569.7" y2="292.9" stroke="#444" stroke-width="0.9"/>
<line x1="566.7" y1="292.9" x2="572.7" y2="292.9" stroke="#444" stroke-width="0.9"/>
<line x1="584.2" y1="294.4" x2="584.2" y2="301.5" stroke="#888" stroke-width="0.9"/>
<line x1="581.2" y1="294.4" x2="587.2" y2="294.4" stroke="#888" stroke-width="0.9"/>
<rect x="578.2" y="301.9" width="12" height="34.6" fill="#ececec" stroke="#777" stroke-width="0.8"/>
<line x1="584.2" y1="301.5" x2="584.2" y2="308" stroke="#444" stroke-width="0.9"/>
<line x1="581.2" y1="308" x2="587.2" y2="308" stroke="#444" stroke-width="0.9"/>
<line x1="527.5" y1="221.5" x2="527.5" y2="337" stroke="#4a4a4a" stroke-width="1"/>
<line x1="527.5" y1="336.5" x2="596.7" y2="336.5" stroke="#4a4a4a" stroke-width="1"/>
<line x1="523" y1="221.5" x2="527.5" y2="221.5" stroke="#4a4a4a" stroke-width="1"/>
<text x="520.6" y="226.5" font-size="8.9" text-anchor="end">0.4</text>
<line x1="523" y1="278.5" x2="527.5" y2="278.5" stroke="#4a4a4a" stroke-width="1"/>
<text x="520.6" y="282.6" font-size="8.9" text-anchor="end">0.2</text>
<line x1="523" y1="336.5" x2="527.5" y2="336.5" stroke="#4a4a4a" stroke-width="1"/>
<text x="520.6" y="340.6" font-size="8.9" text-anchor="end">0</text>
<circle cx="540.5" cy="269.8" r="2" fill="#fff" stroke="#444" stroke-width="0.8"/>
<circle cx="540.5" cy="274.8" r="2" fill="#fff" stroke="#444" stroke-width="0.8"/>
<circle cx="540.5" cy="313" r="1.9" fill="#fff" stroke="#fff" stroke-width="0.2"/>
<circle cx="540.5" cy="320.4" r="1.9" fill="#fff" stroke="#fff" stroke-width="0.2"/>
<circle cx="540.5" cy="326.9" r="1.9" fill="#fff" stroke="#fff" stroke-width="0.2"/>
<circle cx="550.5" cy="333.8" r="2" fill="#fff" stroke="#444" stroke-width="0.8"/>
<circle cx="553.5" cy="331.6" r="2" fill="#fff" stroke="#444" stroke-width="0.8"/>
<circle cx="556.5" cy="333.6" r="2" fill="#fff" stroke="#444" stroke-width="0.8"/>
<circle cx="559.6" cy="334.5" r="2" fill="#fff" stroke="#444" stroke-width="0.8"/>
<path d="M567.1 240.43h4.2l-2.1 3.36z" fill="#fff" stroke="#444" stroke-width="0.75"/>
<path d="M567.1 251.62h4.2l-2.1 3.36z" fill="#fff" stroke="#444" stroke-width="0.75"/>
<path d="M567.1 272.43h4.2l-2.1 3.36z" fill="#fff" stroke="#444" stroke-width="0.75"/>
<circle cx="565" cy="312.5" r="2" fill="#fff" stroke="#444" stroke-width="0.8"/>
<circle cx="573.7" cy="309.5" r="2" fill="#fff" stroke="#444" stroke-width="0.8"/>
<path d="M576.8 288.32h4.2l-2.1 3.36z" fill="#fff" stroke="#444" stroke-width="0.75"/>
<path d="M581.3 285.32h4.2l-2.1 3.36z" fill="#fff" stroke="#444" stroke-width="0.75"/>
<path d="M585.8 289.03h4.2l-2.1 3.36z" fill="#fff" stroke="#444" stroke-width="0.75"/>
<path d="M581.3 313.23h4.2l-2.1 3.36z" fill="#fff" stroke="#444" stroke-width="0.75"/>
<path d="M581.3 320.03h4.2l-2.1 3.36z" fill="#fff" stroke="#444" stroke-width="0.75"/>
<text x="535" y="262.1" font-size="9.66" textLength="23.9" lengthAdjust="spacingAndGlyphs">0.0006</text>
<line x1="539.3" y1="263.7" x2="555.1" y2="263.7" stroke="#000" stroke-width="0.8"/>
<text x="564.2" y="234.9" font-size="8.99" fill="#9a9a9a" textLength="23.1" lengthAdjust="spacingAndGlyphs">0.0067</text>
<line x1="568.5" y1="236.5" x2="583.5" y2="236.5" stroke="#9a9a9a" stroke-width="0.8"/>
<text x="534.7" y="218.8" font-size="10.06" font-weight="bold" font-style="italic" textLength="49.9" lengthAdjust="spacingAndGlyphs">CACNA1C</text>
<line x1="627.7" y1="280.5" x2="627.7" y2="295.5" stroke="#888" stroke-width="0.9"/>
<line x1="624.7" y1="280.5" x2="630.7" y2="280.5" stroke="#888" stroke-width="0.9"/>
<rect x="621.3" y="295.5" width="12.8" height="41" fill="#000"/>
<line x1="656.7" y1="295.2" x2="656.7" y2="300" stroke="#888" stroke-width="0.9"/>
<line x1="653.7" y1="295.2" x2="659.7" y2="295.2" stroke="#888" stroke-width="0.9"/>
<rect x="650.7" y="300.4" width="12" height="36.1" fill="#8a8a8a" stroke="#4a4a4a" stroke-width="0.8"/>
<line x1="671.2" y1="311.5" x2="671.2" y2="316.3" stroke="#888" stroke-width="0.9"/>
<line x1="668.2" y1="311.5" x2="674.2" y2="311.5" stroke="#888" stroke-width="0.9"/>
<rect x="665.2" y="316.7" width="12" height="19.8" fill="#ececec" stroke="#777" stroke-width="0.8"/>
<line x1="614.5" y1="221.5" x2="614.5" y2="337" stroke="#4a4a4a" stroke-width="1"/>
<line x1="614.5" y1="336.5" x2="682.4" y2="336.5" stroke="#4a4a4a" stroke-width="1"/>
<line x1="610" y1="221.5" x2="614.5" y2="221.5" stroke="#4a4a4a" stroke-width="1"/>
<text x="607.1" y="226.5" font-size="8.9" text-anchor="end">6</text>
<line x1="610" y1="278.5" x2="614.5" y2="278.5" stroke="#4a4a4a" stroke-width="1"/>
<text x="607.1" y="282.6" font-size="8.9" text-anchor="end">3</text>
<line x1="610" y1="336.5" x2="614.5" y2="336.5" stroke="#4a4a4a" stroke-width="1"/>
<text x="607.1" y="340.6" font-size="8.9" text-anchor="end">0</text>
<circle cx="622.8" cy="259.2" r="2" fill="#fff" stroke="#444" stroke-width="0.8"/>
<circle cx="631.5" cy="262.2" r="2" fill="#fff" stroke="#444" stroke-width="0.8"/>
<circle cx="627.3" cy="305.7" r="1.9" fill="#fff" stroke="#fff" stroke-width="0.2"/>
<circle cx="622.8" cy="324.6" r="1.9" fill="#fff" stroke="#fff" stroke-width="0.2"/>
<circle cx="631.5" cy="323.9" r="1.9" fill="#fff" stroke="#fff" stroke-width="0.2"/>
<circle cx="637" cy="335.2" r="2" fill="#fff" stroke="#444" stroke-width="0.8"/>
<circle cx="640.33" cy="335.2" r="2" fill="#fff" stroke="#444" stroke-width="0.8"/>
<circle cx="643.67" cy="335.2" r="2" fill="#fff" stroke="#444" stroke-width="0.8"/>
<circle cx="647" cy="335.2" r="2" fill="#fff" stroke="#444" stroke-width="0.8"/>
<path d="M649.4 286.82h4.2l-2.1 3.36z" fill="#fff" stroke="#444" stroke-width="0.75"/>
<path d="M658.1 290.53h4.2l-2.1 3.36z" fill="#fff" stroke="#444" stroke-width="0.75"/>
<path d="M653.6 295.12h4.2l-2.1 3.36z" fill="#fff" stroke="#444" stroke-width="0.75"/>
<circle cx="655.7" cy="307.3" r="2" fill="#fff" stroke="#444" stroke-width="0.8"/>
<circle cx="655.7" cy="312.5" r="2" fill="#fff" stroke="#444" stroke-width="0.8"/>
<path d="M664.2 306.03h4.2l-2.1 3.36z" fill="#fff" stroke="#444" stroke-width="0.75"/>
<path d="M672.8 306.03h4.2l-2.1 3.36z" fill="#fff" stroke="#444" stroke-width="0.75"/>
<path d="M668.2 307.93h4.2l-2.1 3.36z" fill="#fff" stroke="#444" stroke-width="0.75"/>
<path d="M668.2 318.43h4.2l-2.1 3.36z" fill="#fff" stroke="#444" stroke-width="0.75"/>
<path d="M668.2 326.82h4.2l-2.1 3.36z" fill="#fff" stroke="#444" stroke-width="0.75"/>
<text x="624" y="253.1" font-size="9.16" textLength="19.2" lengthAdjust="spacingAndGlyphs">0.002</text>
<line x1="628.3" y1="254.7" x2="639.4" y2="254.7" stroke="#000" stroke-width="0.8"/>
<text x="653" y="279.1" font-size="9.66" fill="#9a9a9a" textLength="19.3" lengthAdjust="spacingAndGlyphs">0.046</text>
<line x1="657.3" y1="280.7" x2="668.5" y2="280.7" stroke="#9a9a9a" stroke-width="0.8"/>
<text x="634.1" y="218.8" font-size="10.06" font-weight="bold" font-style="italic" textLength="28.2" lengthAdjust="spacingAndGlyphs">MYH6</text>
<line x1="281.7" y1="487" x2="281.7" y2="489.7" stroke="#888" stroke-width="0.9"/>
<line x1="278.7" y1="487" x2="284.7" y2="487" stroke="#888" stroke-width="0.9"/>
<rect x="275.3" y="489.7" width="12.8" height="5.3" fill="#000"/>
<line x1="296.2" y1="450.8" x2="296.2" y2="464.2" stroke="#888" stroke-width="0.9"/>
<line x1="293.2" y1="450.8" x2="299.2" y2="450.8" stroke="#888" stroke-width="0.9"/>
<rect x="290.2" y="464.6" width="12" height="30.4" fill="#fff" stroke="#222" stroke-width="0.8"/>
<line x1="296.2" y1="464.2" x2="296.2" y2="478" stroke="#444" stroke-width="0.9"/>
<line x1="293.2" y1="478" x2="299.2" y2="478" stroke="#444" stroke-width="0.9"/>
<line x1="310.7" y1="473.3" x2="310.7" y2="479.2" stroke="#888" stroke-width="0.9"/>
<line x1="307.7" y1="473.3" x2="313.7" y2="473.3" stroke="#888" stroke-width="0.9"/>
<rect x="304.7" y="479.6" width="12" height="15.4" fill="#8a8a8a" stroke="#4a4a4a" stroke-width="0.8"/>
<line x1="325.2" y1="480" x2="325.2" y2="481.7" stroke="#888" stroke-width="0.9"/>
<line x1="322.2" y1="480" x2="328.2" y2="480" stroke="#888" stroke-width="0.9"/>
<rect x="319.2" y="482.1" width="12" height="12.9" fill="#ececec" stroke="#777" stroke-width="0.8"/>
<line x1="268.5" y1="380.5" x2="268.5" y2="495.5" stroke="#4a4a4a" stroke-width="1"/>
<line x1="268.5" y1="495" x2="337.5" y2="495" stroke="#4a4a4a" stroke-width="1"/>
<line x1="264" y1="380.5" x2="268.5" y2="380.5" stroke="#4a4a4a" stroke-width="1"/>
<text x="261.3" y="385.5" font-size="8.9" text-anchor="end">0.08</text>
<line x1="264" y1="437.5" x2="268.5" y2="437.5" stroke="#4a4a4a" stroke-width="1"/>
<text x="261.3" y="441.6" font-size="8.9" text-anchor="end">0.05</text>
<line x1="264" y1="495" x2="268.5" y2="495" stroke="#4a4a4a" stroke-width="1"/>
<text x="261.3" y="499.1" font-size="8.9" text-anchor="end">0</text>
<circle cx="277.5" cy="485" r="2" fill="#fff" stroke="#444" stroke-width="0.8"/>
<circle cx="281.2" cy="487" r="2" fill="#fff" stroke="#444" stroke-width="0.8"/>
<circle cx="284.8" cy="489.5" r="2" fill="#fff" stroke="#444" stroke-width="0.8"/>
<circle cx="278.2" cy="491.8" r="2" fill="#fff" stroke="#444" stroke-width="0.8"/>
<circle cx="285.2" cy="492.5" r="2" fill="#fff" stroke="#444" stroke-width="0.8"/>
<circle cx="295.8" cy="413.3" r="2" fill="#fff" stroke="#444" stroke-width="0.8"/>
<circle cx="295.8" cy="466.7" r="2" fill="#fff" stroke="#444" stroke-width="0.8"/>
<circle cx="295.8" cy="471.7" r="2" fill="#fff" stroke="#444" stroke-width="0.8"/>
<circle cx="295.8" cy="481.7" r="2" fill="#fff" stroke="#444" stroke-width="0.8"/>
<circle cx="295.8" cy="488.3" r="2" fill="#fff" stroke="#444" stroke-width="0.8"/>
<path d="M307.9 464.23h4.2l-2.1 3.36z" fill="#fff" stroke="#444" stroke-width="0.75"/>
<path d="M307.9 472.62h4.2l-2.1 3.36z" fill="#fff" stroke="#444" stroke-width="0.75"/>
<circle cx="306.5" cy="479" r="2" fill="#fff" stroke="#444" stroke-width="0.8"/>
<circle cx="310" cy="479.5" r="2" fill="#fff" stroke="#444" stroke-width="0.8"/>
<circle cx="313.5" cy="479" r="2" fill="#fff" stroke="#444" stroke-width="0.8"/>
<path d="M322.6 472.43h4.2l-2.1 3.36z" fill="#fff" stroke="#444" stroke-width="0.75"/>
<path d="M318.9 481.43h4.2l-2.1 3.36z" fill="#fff" stroke="#444" stroke-width="0.75"/>
<path d="M326.4 481.43h4.2l-2.1 3.36z" fill="#fff" stroke="#444" stroke-width="0.75"/>
<circle cx="321.5" cy="489" r="2" fill="#fff" stroke="#444" stroke-width="0.8"/>
<circle cx="327.5" cy="489" r="2" fill="#fff" stroke="#444" stroke-width="0.8"/>
<text x="278.5" y="404.4" font-size="8.49" textLength="19.3" lengthAdjust="spacingAndGlyphs">0.005</text>
<line x1="282.8" y1="406" x2="294" y2="406" stroke="#000" stroke-width="0.8"/>
<text x="292" y="377.5" font-size="9.64" font-weight="bold" font-style="italic" textLength="21.3" lengthAdjust="spacingAndGlyphs">ISL1</text>
<line x1="380.2" y1="442.2" x2="380.2" y2="455.2" stroke="#888" stroke-width="0.9"/>
<line x1="377.2" y1="442.2" x2="383.2" y2="442.2" stroke="#888" stroke-width="0.9"/>
<rect x="374.2" y="455.6" width="12" height="39.4" fill="#fff" stroke="#222" stroke-width="0.8"/>
<line x1="380.2" y1="455.2" x2="380.2" y2="468" stroke="#444" stroke-width="0.9"/>
<line x1="377.2" y1="468" x2="383.2" y2="468" stroke="#444" stroke-width="0.9"/>
<line x1="394.7" y1="487" x2="394.7" y2="488.2" stroke="#888" stroke-width="0.9"/>
<line x1="391.7" y1="487" x2="397.7" y2="487" stroke="#888" stroke-width="0.9"/>
<rect x="388.7" y="488.6" width="12" height="6.4" fill="#8a8a8a" stroke="#4a4a4a" stroke-width="0.8"/>
<line x1="409.2" y1="489.2" x2="409.2" y2="491.4" stroke="#888" stroke-width="0.9"/>
<line x1="406.2" y1="489.2" x2="412.2" y2="489.2" stroke="#888" stroke-width="0.9"/>
<rect x="403.2" y="491.8" width="12" height="3.2" fill="#ececec" stroke="#777" stroke-width="0.8"/>
<line x1="352.5" y1="380.5" x2="352.5" y2="495.5" stroke="#4a4a4a" stroke-width="1"/>
<line x1="352.5" y1="495" x2="422.5" y2="495" stroke="#4a4a4a" stroke-width="1"/>
<line x1="348" y1="380.5" x2="352.5" y2="380.5" stroke="#4a4a4a" stroke-width="1"/>
<text x="347" y="385.5" font-size="8.9" text-anchor="end">0.06</text>
<line x1="348" y1="437.5" x2="352.5" y2="437.5" stroke="#4a4a4a" stroke-width="1"/>
<text x="347" y="441.6" font-size="8.9" text-anchor="end">0.05</text>
<line x1="348" y1="495" x2="352.5" y2="495" stroke="#4a4a4a" stroke-width="1"/>
<text x="347" y="499.1" font-size="8.9" text-anchor="end">0</text>
<circle cx="361" cy="494.3" r="2" fill="#fff" stroke="#444" stroke-width="0.8"/>
<circle cx="364.33" cy="494.3" r="2" fill="#fff" stroke="#444" stroke-width="0.8"/>
<circle cx="367.67" cy="494.3" r="2" fill="#fff" stroke="#444" stroke-width="0.8"/>
<circle cx="371" cy="494.3" r="2" fill="#fff" stroke="#444" stroke-width="0.8"/>
<circle cx="380.2" cy="418.1" r="2" fill="#fff" stroke="#444" stroke-width="0.8"/>
<circle cx="380.2" cy="431.1" r="2" fill="#fff" stroke="#444" stroke-width="0.8"/>
<circle cx="375.8" cy="470.7" r="2" fill="#fff" stroke="#444" stroke-width="0.8"/>
<circle cx="384.6" cy="472.1" r="2" fill="#fff" stroke="#444" stroke-width="0.8"/>
<circle cx="380.2" cy="484.5" r="2" fill="#fff" stroke="#444" stroke-width="0.8"/>
<path d="M388.9 483.43h4.2l-2.1 3.36z" fill="#fff" stroke="#444" stroke-width="0.75"/>
<path d="M396.9 483.43h4.2l-2.1 3.36z" fill="#fff" stroke="#444" stroke-width="0.75"/>
<circle cx="392" cy="490.5" r="2" fill="#fff" stroke="#444" stroke-width="0.8"/>
<circle cx="396" cy="490.5" r="2" fill="#fff" stroke="#444" stroke-width="0.8"/>
<circle cx="400" cy="490.5" r="2" fill="#fff" stroke="#444" stroke-width="0.8"/>
<path d="M407.3 481.03h4.2l-2.1 3.36z" fill="#fff" stroke="#444" stroke-width="0.75"/>
<circle cx="405.5" cy="492" r="2" fill="#fff" stroke="#444" stroke-width="0.8"/>
<circle cx="409.5" cy="490.5" r="2" fill="#fff" stroke="#444" stroke-width="0.8"/>
<circle cx="413.5" cy="492" r="2" fill="#fff" stroke="#444" stroke-width="0.8"/>
<text x="361.5" y="412.5" font-size="9.66" textLength="23.4" lengthAdjust="spacingAndGlyphs">0.0002</text>
<line x1="365.8" y1="414.1" x2="381.1" y2="414.1" stroke="#000" stroke-width="0.8"/>
<text x="362.7" y="377.5" font-size="9.64" font-weight="bold" font-style="italic" textLength="48.4" lengthAdjust="spacingAndGlyphs">ONECUT2</text>
<line x1="468.2" y1="487" x2="468.2" y2="489.9" stroke="#888" stroke-width="0.9"/>
<line x1="465.2" y1="487" x2="471.2" y2="487" stroke="#888" stroke-width="0.9"/>
<rect x="462.2" y="490.3" width="12" height="4.7" fill="#fff" stroke="#222" stroke-width="0.8"/>
<line x1="482.7" y1="472.4" x2="482.7" y2="476.1" stroke="#888" stroke-width="0.9"/>
<line x1="479.7" y1="472.4" x2="485.7" y2="472.4" stroke="#888" stroke-width="0.9"/>
<rect x="476.7" y="476.5" width="12" height="18.5" fill="#8a8a8a" stroke="#4a4a4a" stroke-width="0.8"/>
<line x1="497.2" y1="440.3" x2="497.2" y2="459.6" stroke="#888" stroke-width="0.9"/>
<line x1="494.2" y1="440.3" x2="500.2" y2="440.3" stroke="#888" stroke-width="0.9"/>
<rect x="491.2" y="460" width="12" height="35" fill="#ececec" stroke="#777" stroke-width="0.8"/>
<line x1="497.2" y1="459.6" x2="497.2" y2="478" stroke="#444" stroke-width="0.9"/>
<line x1="494.2" y1="478" x2="500.2" y2="478" stroke="#444" stroke-width="0.9"/>
<line x1="440.5" y1="380.5" x2="440.5" y2="495.5" stroke="#4a4a4a" stroke-width="1"/>
<line x1="440.5" y1="495" x2="510" y2="495" stroke="#4a4a4a" stroke-width="1"/>
<line x1="436" y1="380.5" x2="440.5" y2="380.5" stroke="#4a4a4a" stroke-width="1"/>
<text x="434.5" y="385.5" font-size="8.9" text-anchor="end">1.2</text>
<line x1="436" y1="437.5" x2="440.5" y2="437.5" stroke="#4a4a4a" stroke-width="1"/>
<text x="434.5" y="441.6" font-size="8.9" text-anchor="end">0.6</text>
<line x1="436" y1="495" x2="440.5" y2="495" stroke="#4a4a4a" stroke-width="1"/>
<text x="434.5" y="499.1" font-size="8.9" text-anchor="end">0</text>
<circle cx="448" cy="494.3" r="2" fill="#fff" stroke="#444" stroke-width="0.8"/>
<circle cx="451.67" cy="494.3" r="2" fill="#fff" stroke="#444" stroke-width="0.8"/>
<circle cx="455.33" cy="494.3" r="2" fill="#fff" stroke="#444" stroke-width="0.8"/>
<circle cx="459" cy="494.3" r="2" fill="#fff" stroke="#444" stroke-width="0.8"/>
<circle cx="468" cy="484.8" r="2" fill="#fff" stroke="#444" stroke-width="0.8"/>
<circle cx="463.5" cy="489.5" r="2" fill="#fff" stroke="#444" stroke-width="0.8"/>
<circle cx="467.5" cy="490.5" r="2" fill="#fff" stroke="#444" stroke-width="0.8"/>
<circle cx="471.5" cy="489.5" r="2" fill="#fff" stroke="#444" stroke-width="0.8"/>
<path d="M475.3 466.43h4.2l-2.1 3.36z" fill="#fff" stroke="#444" stroke-width="0.75"/>
<path d="M485 466.43h4.2l-2.1 3.36z" fill="#fff" stroke="#444" stroke-width="0.75"/>
<circle cx="482.5" cy="474.5" r="2" fill="#fff" stroke="#444" stroke-width="0.8"/>
<circle cx="478.5" cy="480" r="2" fill="#fff" stroke="#444" stroke-width="0.8"/>
<circle cx="486.5" cy="480" r="2" fill="#fff" stroke="#444" stroke-width="0.8"/>
<path d="M495.1 381.82h4.2l-2.1 3.36z" fill="#fff" stroke="#444" stroke-width="0.75"/>
<circle cx="493.5" cy="476.5" r="2" fill="#fff" stroke="#444" stroke-width="0.8"/>
<circle cx="497.5" cy="477.5" r="2" fill="#fff" stroke="#444" stroke-width="0.8"/>
<circle cx="501.5" cy="476.5" r="2" fill="#fff" stroke="#444" stroke-width="0.8"/>
<text x="449.7" y="476.3" font-size="9.66" textLength="23.8" lengthAdjust="spacingAndGlyphs">0.0002</text>
<line x1="454" y1="477.9" x2="469.7" y2="477.9" stroke="#000" stroke-width="0.8"/>
<text x="454.5" y="377.5" font-size="9.64" font-weight="bold" font-style="italic" textLength="42.8" lengthAdjust="spacingAndGlyphs">CDKN1C</text>
<line x1="539.7" y1="464.8" x2="539.7" y2="479.4" stroke="#888" stroke-width="0.9"/>
<line x1="536.7" y1="464.8" x2="542.7" y2="464.8" stroke="#888" stroke-width="0.9"/>
<rect x="533.3" y="479.4" width="12.8" height="15.6" fill="#000"/>
<line x1="554.2" y1="448.3" x2="554.2" y2="463.9" stroke="#888" stroke-width="0.9"/>
<line x1="551.2" y1="448.3" x2="557.2" y2="448.3" stroke="#888" stroke-width="0.9"/>
<rect x="548.2" y="464.3" width="12" height="30.7" fill="#fff" stroke="#222" stroke-width="0.8"/>
<line x1="568.7" y1="484.8" x2="568.7" y2="489.2" stroke="#888" stroke-width="0.9"/>
<line x1="565.7" y1="484.8" x2="571.7" y2="484.8" stroke="#888" stroke-width="0.9"/>
<rect x="562.7" y="489.6" width="12" height="5.4" fill="#8a8a8a" stroke="#4a4a4a" stroke-width="0.8"/>
<line x1="583.2" y1="489" x2="583.2" y2="490.7" stroke="#888" stroke-width="0.9"/>
<line x1="580.2" y1="489" x2="586.2" y2="489" stroke="#888" stroke-width="0.9"/>
<rect x="577.2" y="491.1" width="12" height="3.9" fill="#ececec" stroke="#777" stroke-width="0.8"/>
<line x1="526.5" y1="380.5" x2="526.5" y2="495.5" stroke="#4a4a4a" stroke-width="1"/>
<line x1="526.5" y1="495" x2="596.4" y2="495" stroke="#4a4a4a" stroke-width="1"/>
<line x1="522" y1="380.5" x2="526.5" y2="380.5" stroke="#4a4a4a" stroke-width="1"/>
<text x="521.2" y="385.5" font-size="8.9" text-anchor="end">1.6</text>
<line x1="522" y1="437.5" x2="526.5" y2="437.5" stroke="#4a4a4a" stroke-width="1"/>
<text x="521.2" y="441.6" font-size="8.9" text-anchor="end">0.8</text>
<line x1="522" y1="495" x2="526.5" y2="495" stroke="#4a4a4a" stroke-width="1"/>
<text x="521.2" y="499.1" font-size="8.9" text-anchor="end">0</text>
<circle cx="539.7" cy="422" r="2" fill="#fff" stroke="#444" stroke-width="0.8"/>
<circle cx="535.5" cy="494" r="2" fill="#fff" stroke="#444" stroke-width="0.8"/>
<circle cx="540" cy="493.2" r="2" fill="#fff" stroke="#444" stroke-width="0.8"/>
<circle cx="544.5" cy="490.5" r="2" fill="#fff" stroke="#444" stroke-width="0.8"/>
<circle cx="554.5" cy="402.8" r="2" fill="#fff" stroke="#444" stroke-width="0.8"/>
<circle cx="554.5" cy="471.7" r="2" fill="#fff" stroke="#444" stroke-width="0.8"/>
<circle cx="549.9" cy="476.8" r="2" fill="#fff" stroke="#444" stroke-width="0.8"/>
<circle cx="559.1" cy="480.4" r="2" fill="#fff" stroke="#444" stroke-width="0.8"/>
<circle cx="554.5" cy="487" r="2" fill="#fff" stroke="#444" stroke-width="0.8"/>
<path d="M566.5 474.53h4.2l-2.1 3.36z" fill="#fff" stroke="#444" stroke-width="0.75"/>
<path d="M566.5 483.93h4.2l-2.1 3.36z" fill="#fff" stroke="#444" stroke-width="0.75"/>
<circle cx="565" cy="492" r="2" fill="#fff" stroke="#444" stroke-width="0.8"/>
<circle cx="569" cy="492" r="2" fill="#fff" stroke="#444" stroke-width="0.8"/>
<circle cx="573" cy="492" r="2" fill="#fff" stroke="#444" stroke-width="0.8"/>
<path d="M578.4 487.43h4.2l-2.1 3.36z" fill="#fff" stroke="#444" stroke-width="0.75"/>
<circle cx="580.5" cy="494" r="2" fill="#fff" stroke="#444" stroke-width="0.8"/>
<circle cx="584" cy="492.6" r="2" fill="#fff" stroke="#444" stroke-width="0.8"/>
<circle cx="587.5" cy="492.6" r="2" fill="#fff" stroke="#444" stroke-width="0.8"/>
<text x="538.2" y="394.1" font-size="9.33" textLength="19.5" lengthAdjust="spacingAndGlyphs">0.022</text>
<line x1="542.5" y1="395.7" x2="553.9" y2="395.7" stroke="#000" stroke-width="0.8"/>
<text x="546" y="377.5" font-size="9.64" font-weight="bold" font-style="italic" textLength="26.7" lengthAdjust="spacingAndGlyphs">BCL2</text>
<line x1="642.2" y1="442.5" x2="642.2" y2="452.3" stroke="#888" stroke-width="0.9"/>
<line x1="639.2" y1="442.5" x2="645.2" y2="442.5" stroke="#888" stroke-width="0.9"/>
<rect x="636.2" y="452.7" width="12" height="42.3" fill="#fff" stroke="#222" stroke-width="0.8"/>
<line x1="656.7" y1="471" x2="656.7" y2="476.8" stroke="#888" stroke-width="0.9"/>
<line x1="653.7" y1="471" x2="659.7" y2="471" stroke="#888" stroke-width="0.9"/>
<rect x="650.7" y="477.2" width="12" height="17.8" fill="#8a8a8a" stroke="#4a4a4a" stroke-width="0.8"/>
<line x1="671.2" y1="484.1" x2="671.2" y2="487" stroke="#888" stroke-width="0.9"/>
<line x1="668.2" y1="484.1" x2="674.2" y2="484.1" stroke="#888" stroke-width="0.9"/>
<rect x="665.2" y="487.4" width="12" height="7.6" fill="#ececec" stroke="#777" stroke-width="0.8"/>
<line x1="614.5" y1="380.5" x2="614.5" y2="495.5" stroke="#4a4a4a" stroke-width="1"/>
<line x1="614.5" y1="495" x2="683.1" y2="495" stroke="#4a4a4a" stroke-width="1"/>
<line x1="610" y1="380.5" x2="614.5" y2="380.5" stroke="#4a4a4a" stroke-width="1"/>
<text x="607" y="385.5" font-size="8.9" text-anchor="end">0.4</text>
<line x1="610" y1="437.5" x2="614.5" y2="437.5" stroke="#4a4a4a" stroke-width="1"/>
<text x="607" y="441.6" font-size="8.9" text-anchor="end">0.2</text>
<line x1="610" y1="495" x2="614.5" y2="495" stroke="#4a4a4a" stroke-width="1"/>
<text x="607" y="499.1" font-size="8.9" text-anchor="end">0</text>
<circle cx="622.5" cy="491.5" r="2" fill="#fff" stroke="#444" stroke-width="0.8"/>
<circle cx="626" cy="489.5" r="2" fill="#fff" stroke="#444" stroke-width="0.8"/>
<circle cx="629.5" cy="491" r="2" fill="#fff" stroke="#444" stroke-width="0.8"/>
<circle cx="632.5" cy="494" r="2" fill="#fff" stroke="#444" stroke-width="0.8"/>
<circle cx="636.8" cy="429.3" r="2" fill="#fff" stroke="#444" stroke-width="0.8"/>
<circle cx="646.3" cy="432.7" r="2" fill="#fff" stroke="#444" stroke-width="0.8"/>
<circle cx="641.6" cy="452" r="2" fill="#fff" stroke="#444" stroke-width="0.8"/>
<circle cx="641.6" cy="462.2" r="2" fill="#fff" stroke="#444" stroke-width="0.8"/>
<circle cx="641.6" cy="485.3" r="2" fill="#fff" stroke="#444" stroke-width="0.8"/>
<path d="M649.9 469.93h4.2l-2.1 3.36z" fill="#fff" stroke="#444" stroke-width="0.75"/>
<path d="M653.9 469.93h4.2l-2.1 3.36z" fill="#fff" stroke="#444" stroke-width="0.75"/>
<path d="M657.9 469.93h4.2l-2.1 3.36z" fill="#fff" stroke="#444" stroke-width="0.75"/>
<circle cx="652" cy="479" r="2" fill="#fff" stroke="#444" stroke-width="0.8"/>
<circle cx="656" cy="479" r="2" fill="#fff" stroke="#444" stroke-width="0.8"/>
<circle cx="660" cy="479" r="2" fill="#fff" stroke="#444" stroke-width="0.8"/>
<path d="M668.7 478.43h4.2l-2.1 3.36z" fill="#fff" stroke="#444" stroke-width="0.75"/>
<circle cx="667" cy="488" r="2" fill="#fff" stroke="#444" stroke-width="0.8"/>
<circle cx="671" cy="486" r="2" fill="#fff" stroke="#444" stroke-width="0.8"/>
<circle cx="675" cy="488" r="2" fill="#fff" stroke="#444" stroke-width="0.8"/>
<text x="621.2" y="421.2" font-size="9.5" textLength="23.7" lengthAdjust="spacingAndGlyphs">0.0009</text>
<line x1="625.5" y1="422.8" x2="641.1" y2="422.8" stroke="#000" stroke-width="0.8"/>
<text x="655" y="466.5" font-size="9.66" fill="#9a9a9a" textLength="19" lengthAdjust="spacingAndGlyphs">0.032</text>
<line x1="659.3" y1="468.1" x2="670.2" y2="468.1" stroke="#9a9a9a" stroke-width="0.8"/>
<text x="636.8" y="377.5" font-size="9.64" font-weight="bold" font-style="italic" textLength="22.4" lengthAdjust="spacingAndGlyphs">IGF1</text>
<text transform="translate(242,283.1) rotate(-90)" x="0" y="0" font-size="10.9" text-anchor="middle" textLength="91" lengthAdjust="spacingAndGlyphs">Relative expression</text>
<text transform="translate(242,439.4) rotate(-90)" x="0" y="0" font-size="10.9" text-anchor="middle" textLength="91" lengthAdjust="spacingAndGlyphs">Relative expression</text>
<rect x="398.7" y="513" width="7.4" height="7.4" fill="#000"/>
<text x="408.6" y="520.4" font-size="10.34" textLength="16.1" lengthAdjust="spacingAndGlyphs">WT</text>
<rect x="441.3" y="513.4" width="6.6" height="6.6" fill="#fff" stroke="#222" stroke-width="0.9"/>
<text x="450.8" y="520.4" font-size="10.34" textLength="13.6" lengthAdjust="spacingAndGlyphs">ΔP</text>
<rect x="477.2" y="513.4" width="6.6" height="6.6" fill="#8a8a8a" stroke="#444" stroke-width="0.9"/>
<text x="487.3" y="520.4" font-size="10.34" textLength="21.3" lengthAdjust="spacingAndGlyphs">WT2</text>
<rect x="519.4" y="513.4" width="6.6" height="6.6" fill="#ececec" stroke="#777" stroke-width="0.9"/>
<text x="529.5" y="520.4" font-size="10.34" textLength="13.1" lengthAdjust="spacingAndGlyphs">PA</text>
<text x="1.3" y="548.1" font-size="18.3" font-weight="bold" textLength="10.5" lengthAdjust="spacingAndGlyphs">E</text>
<text x="281.7" y="551.6" font-size="12.29" font-weight="bold" textLength="123.6" lengthAdjust="spacingAndGlyphs">GO Biological process</text>
<line x1="75" y1="555.4" x2="612.9" y2="555.4" stroke="#000" stroke-width="1.1"/>
<text x="163.3" y="566.2" font-size="10.75" font-weight="bold" textLength="78.1" lengthAdjust="spacingAndGlyphs">Down-regulated</text>
<text x="456.8" y="566.2" font-size="10.75" font-weight="bold" textLength="63.5" lengthAdjust="spacingAndGlyphs">Up-regulated</text>
<rect x="124" y="572.1" width="216.8" height="14.7" fill="#cfe2f3"/>
<rect x="144.3" y="588.57" width="196.5" height="14.7" fill="#cfe2f3"/>
<rect x="164.3" y="605.04" width="176.5" height="14.7" fill="#cfe2f3"/>
<rect x="167.8" y="621.51" width="173" height="14.7" fill="#cfe2f3"/>
<rect x="167.8" y="637.98" width="173" height="14.7" fill="#cfe2f3"/>
<rect x="168.9" y="654.45" width="171.9" height="14.7" fill="#cfe2f3"/>
<rect x="175.5" y="670.92" width="165.3" height="14.7" fill="#cfe2f3"/>
<rect x="175.9" y="687.39" width="164.9" height="14.7" fill="#cfe2f3"/>
<rect x="179" y="703.86" width="161.8" height="14.7" fill="#cfe2f3"/>
<rect x="184.3" y="720.33" width="156.5" height="14.7" fill="#cfe2f3"/>
<rect x="343.6" y="572.1" width="194.9" height="14.7" fill="#f4a3a6"/>
<rect x="343.6" y="588.57" width="166.8" height="14.7" fill="#f4a3a6"/>
<rect x="343.6" y="605.04" width="166.8" height="14.7" fill="#f4a3a6"/>
<rect x="343.6" y="621.51" width="166.8" height="14.7" fill="#f4a3a6"/>
<rect x="343.6" y="637.98" width="135.3" height="14.7" fill="#f4a3a6"/>
<rect x="343.6" y="654.45" width="124.1" height="14.7" fill="#f4a3a6"/>
<rect x="343.6" y="670.92" width="108" height="14.7" fill="#f4a3a6"/>
<rect x="343.6" y="687.39" width="108" height="14.7" fill="#f4a3a6"/>
<rect x="343.6" y="703.86" width="106.6" height="14.7" fill="#f4a3a6"/>
<rect x="343.6" y="720.33" width="106.6" height="14.7" fill="#f4a3a6"/>
<line x1="61" y1="572.2" x2="61" y2="734.6" stroke="#d4d4d4" stroke-width="0.9"/>
<line x1="201.2" y1="572.2" x2="201.2" y2="734.6" stroke="#d4d4d4" stroke-width="0.9"/>
<line x1="485.2" y1="572.2" x2="485.2" y2="734.6" stroke="#d4d4d4" stroke-width="0.9"/>
<line x1="627.7" y1="572.2" x2="627.7" y2="734.6" stroke="#d4d4d4" stroke-width="0.9"/>
<line x1="341.9" y1="572.2" x2="341.9" y2="734.6" stroke="#e8a0a0" stroke-width="0.8"/>
<text x="338.6" y="582.95" font-size="10.35" font-weight="bold" text-anchor="end">Myofibril assembly</text>
<text x="338.6" y="599.42" font-size="10.35" font-weight="bold" text-anchor="end">Reg. of heart contraction</text>
<text x="338.6" y="615.89" font-size="10.35" font-weight="bold" text-anchor="end">Cardiac muscle cell development</text>
<text x="338.6" y="632.36" font-size="10.35" text-anchor="end">Actomyosin structure org.</text>
<text x="338.6" y="648.83" font-size="10.35" text-anchor="end">Striated muscle contraction</text>
<text x="338.6" y="665.3" font-size="10.35" text-anchor="end">Pyruvate metabolic process</text>
<text x="338.6" y="681.77" font-size="10.35" text-anchor="end">Heart contraction</text>
<text x="338.6" y="698.24" font-size="10.35" text-anchor="end">Muscle contraction</text>
<text x="338.6" y="714.71" font-size="10.35" font-weight="bold" text-anchor="end">Sarcomere org.</text>
<text x="338.6" y="731.18" font-size="10.35" text-anchor="end">Cardiac muscle contraction</text>
<text x="346.8" y="582.95" font-size="10.35" font-weight="bold">Nervous system development</text>
<text x="346.8" y="599.42" font-size="10.35">Transmem. receptor protein tyrosine kinase signal. pathway</text>
<text x="346.8" y="615.89" font-size="10.35" font-weight="bold">Axonogenesis</text>
<text x="346.8" y="632.36" font-size="10.35">Cell-cell adhesion via plasma-membrane adhesion mol.</text>
<text x="346.8" y="648.83" font-size="10.35">Neuron projection guidance</text>
<text x="346.8" y="665.3" font-size="10.35">High-density lipoprotein particle remodeling</text>
<text x="346.8" y="681.77" font-size="10.35">Ephrin receptor signal. pathway</text>
<text x="346.8" y="698.24" font-size="10.35">Axon guidance</text>
<text x="346.8" y="714.71" font-size="10.35">Positive reg. of CoA-transferase activity</text>
<text x="346.8" y="731.18" font-size="10.35">Reg. of CoA-transferase activity</text>
<text x="6" y="745" font-size="9.2" textLength="37.6" lengthAdjust="spacingAndGlyphs">log<tspan font-size="6" dy="2">10</tspan><tspan dy="-2">Adjp</tspan></text>
<text x="58" y="745" font-size="8.6" text-anchor="middle">-16</text>
<text x="200.8" y="745" font-size="8.6" text-anchor="middle">-8</text>
<text x="343" y="745" font-size="8.6" text-anchor="middle">0</text>
<text x="485.2" y="745" font-size="8.6" text-anchor="middle">5</text>
<text x="625.4" y="745" font-size="8.6" text-anchor="middle">10</text>
<text x="635" y="745" font-size="9.2" textLength="40" lengthAdjust="spacingAndGlyphs">-log<tspan font-size="6" dy="2">10</tspan><tspan dy="-2">Adjp</tspan></text>
<text x="1.4" y="766.9" font-size="17.18" font-weight="bold" textLength="9.5" lengthAdjust="spacingAndGlyphs">F</text>
<text x="35.3" y="771.9" font-weight="bold" textLength="179.6" lengthAdjust="spacingAndGlyphs"><tspan font-size="14.11">C</tspan><tspan font-size="10.72">ARDIAC</tspan><tspan font-size="14.11"> M</tspan><tspan font-size="10.72">USCLE</tspan><tspan font-size="14.11"> C</tspan><tspan font-size="10.72">ONTRACTION</tspan></text>
<rect x="46.5" y="777" width="174.7" height="155.5" fill="#fff" stroke="#cfcfcf" stroke-width="0.8"/>
<line x1="67.28" y1="777" x2="67.28" y2="851.7" stroke="#e4e4e4" stroke-width="0.6" stroke-dasharray="1 1"/>
<line x1="67.28" y1="882.8" x2="67.28" y2="932.5" stroke="#e4e4e4" stroke-width="0.6" stroke-dasharray="1 1"/>
<line x1="88.05" y1="777" x2="88.05" y2="851.7" stroke="#e4e4e4" stroke-width="0.6" stroke-dasharray="1 1"/>
<line x1="88.05" y1="882.8" x2="88.05" y2="932.5" stroke="#e4e4e4" stroke-width="0.6" stroke-dasharray="1 1"/>
<line x1="108.82" y1="777" x2="108.82" y2="851.7" stroke="#e4e4e4" stroke-width="0.6" stroke-dasharray="1 1"/>
<line x1="108.82" y1="882.8" x2="108.82" y2="932.5" stroke="#e4e4e4" stroke-width="0.6" stroke-dasharray="1 1"/>
<line x1="129.6" y1="777" x2="129.6" y2="851.7" stroke="#e4e4e4" stroke-width="0.6" stroke-dasharray="1 1"/>
<line x1="129.6" y1="882.8" x2="129.6" y2="932.5" stroke="#e4e4e4" stroke-width="0.6" stroke-dasharray="1 1"/>
<line x1="150.38" y1="777" x2="150.38" y2="851.7" stroke="#e4e4e4" stroke-width="0.6" stroke-dasharray="1 1"/>
<line x1="150.38" y1="882.8" x2="150.38" y2="932.5" stroke="#e4e4e4" stroke-width="0.6" stroke-dasharray="1 1"/>
<line x1="171.15" y1="777" x2="171.15" y2="851.7" stroke="#e4e4e4" stroke-width="0.6" stroke-dasharray="1 1"/>
<line x1="171.15" y1="882.8" x2="171.15" y2="932.5" stroke="#e4e4e4" stroke-width="0.6" stroke-dasharray="1 1"/>
<line x1="191.92" y1="777" x2="191.92" y2="851.7" stroke="#e4e4e4" stroke-width="0.6" stroke-dasharray="1 1"/>
<line x1="191.92" y1="882.8" x2="191.92" y2="932.5" stroke="#e4e4e4" stroke-width="0.6" stroke-dasharray="1 1"/>
<text x="44.3" y="783.3" font-size="5.8" text-anchor="end" fill="#333">0.0</text>
<line x1="46.5" y1="792.18" x2="221.2" y2="792.18" stroke="#e4e4e4" stroke-width="0.6" stroke-dasharray="1 1"/>
<text x="44.3" y="794.18" font-size="5.8" text-anchor="end" fill="#333">-0.1</text>
<line x1="46.5" y1="803.06" x2="221.2" y2="803.06" stroke="#e4e4e4" stroke-width="0.6" stroke-dasharray="1 1"/>
<text x="44.3" y="805.06" font-size="5.8" text-anchor="end" fill="#333">-0.2</text>
<line x1="46.5" y1="813.94" x2="221.2" y2="813.94" stroke="#e4e4e4" stroke-width="0.6" stroke-dasharray="1 1"/>
<text x="44.3" y="815.94" font-size="5.8" text-anchor="end" fill="#333">-0.3</text>
<line x1="46.5" y1="824.82" x2="221.2" y2="824.82" stroke="#e4e4e4" stroke-width="0.6" stroke-dasharray="1 1"/>
<text x="44.3" y="826.82" font-size="5.8" text-anchor="end" fill="#333">-0.4</text>
<line x1="46.5" y1="835.7" x2="221.2" y2="835.7" stroke="#e4e4e4" stroke-width="0.6" stroke-dasharray="1 1"/>
<text x="44.3" y="837.7" font-size="5.8" text-anchor="end" fill="#333">-0.5</text>
<line x1="46.5" y1="846.58" x2="221.2" y2="846.58" stroke="#e4e4e4" stroke-width="0.6" stroke-dasharray="1 1"/>
<text x="44.3" y="848.58" font-size="5.8" text-anchor="end" fill="#333">-0.6</text>
<line x1="46.5" y1="781.3" x2="221.2" y2="781.3" stroke="#bbb" stroke-width="0.7"/>
<line x1="46.5" y1="851.7" x2="221.2" y2="851.7" stroke="#cfcfcf" stroke-width="0.8"/>
<line x1="46.5" y1="876.6" x2="221.2" y2="876.6" stroke="#cfcfcf" stroke-width="0.6"/>
<line x1="46.5" y1="882.8" x2="221.2" y2="882.8" stroke="#cfcfcf" stroke-width="0.6"/>
<path d="M46.8 781.4 L48.0 782.0 L49.3 782.6 L50.5 783.2 L51.8 783.5 L53.0 784.2 L54.3 783.9 L55.5 784.8 L56.8 785.7 L58.1 786.1 L59.4 787.0 L60.7 787.0 L62.1 788.0 L63.4 788.4 L64.7 789.4 L66.0 790.1 L67.2 790.0 L68.4 790.7 L69.7 791.2 L70.9 792.3 L72.1 792.6 L73.4 792.8 L74.7 794.0 L76.0 794.0 L77.4 795.1 L78.7 795.3 L80.0 795.9 L81.3 797.3 L82.6 797.6 L83.8 798.4 L85.1 799.9 L86.4 800.6 L87.7 800.9 L88.9 802.3 L90.2 802.8 L91.5 803.7 L92.8 804.1 L94.0 805.6 L95.3 806.2 L96.6 807.2 L97.9 807.9 L99.2 808.1 L100.4 808.8 L101.7 809.4 L103.0 810.1 L104.3 810.7 L105.6 811.6 L106.9 812.6 L108.2 812.8 L109.4 814.1 L110.7 814.5 L112.0 815.2 L113.3 816.2 L114.5 816.5 L115.8 816.9 L117.1 817.6 L118.4 818.4 L119.7 818.4 L120.9 819.7 L122.2 819.4 L123.5 820.6 L124.8 821.3 L126.0 821.1 L127.3 822.4 L128.6 822.7 L129.8 823.7 L131.1 824.0 L132.4 824.8 L133.7 825.6 L134.9 827.1 L136.2 827.2 L137.5 828.5 L138.8 829.4 L140.0 830.2 L141.3 830.4 L142.6 831.2 L143.9 832.1 L145.2 833.1 L146.4 833.2 L147.7 834.6 L149.0 835.4 L150.3 836.2 L151.6 836.2 L152.9 837.8 L154.2 837.8 L155.4 838.8 L156.7 839.8 L158.0 840.9 L159.3 841.0 L160.7 842.2 L162.0 842.5 L163.3 843.0 L164.7 843.7 L166.0 844.2 L167.2 844.5 L168.4 845.0 L169.7 845.8 L170.9 846.5 L172.1 846.1 L173.3 846.4 L174.5 846.9 L175.7 846.2 L177.0 845.7 L178.2 845.2 L179.4 845.2 L180.8 845.2 L182.2 844.8 L183.6 844.6 L185.0 844.1 L186.3 844.6 L187.7 843.6 L189.0 843.7 L190.4 843.8 L191.7 842.9 L192.9 842.7 L194.1 842.1 L195.4 841.1 L196.6 840.5 L197.8 839.1 L199.0 837.9 L200.3 836.2 L201.5 835.3 L202.8 832.2 L204.0 829.8 L205.2 825.3 L206.5 820.3 L208.5 807.2 L210.1 796.8 L211.6 786.9 L212.8 780.7" fill="none" stroke="#22ee22" stroke-width="1.5" stroke-linejoin="round"/>
<path d="M47.6 852.1V876.3M57.3 852.1V876.3M65.3 852.1V876.3M71.7 852.1V876.3M79.1 852.1V876.3M104.3 852.1V876.3M108.6 852.1V876.3M115.5 852.1V876.3M117.1 852.1V876.3M137.3 852.1V876.3M140.5 852.1V876.3M149.7 852.1V876.3M152.9 852.1V876.3M156.1 852.1V876.3M162.5 852.1V876.3M163.7 852.1V876.3M169.4 852.1V876.3M173.0 852.1V876.3M174.3 852.1V876.3M175.4 852.1V876.3M180.2 852.1V876.3M181.3 852.1V876.3M184.2 852.1V876.3M186.1 852.1V876.3M188.2 852.1V876.3M190.6 852.1V876.3M194.6 852.1V876.3M197.8 852.1V876.3M199.0 852.1V876.3M200.3 852.1V876.3M201.9 852.1V876.3M203.5 852.1V876.3M204.3 852.1V876.3M205.1 852.1V876.3M205.9 852.1V876.3M206.7 852.1V876.3M207.5 852.1V876.3M208.3 852.1V876.3M209.1 852.1V876.3M209.9 852.1V876.3M210.7 852.1V876.3M211.5 852.1V876.3M212.3 852.1V876.3" fill="none" stroke="#3a3a3a" stroke-width="0.75"/>
<rect x="46.5" y="876.6" width="24.98" height="6.2" fill="#ff3c48"/>
<rect x="71.43" y="876.6" width="12.1" height="6.2" fill="#ff6e80"/>
<rect x="83.48" y="876.6" width="15.76" height="6.2" fill="#ff8c8c"/>
<rect x="99.19" y="876.6" width="15.51" height="6.2" fill="#ffc0e4"/>
<rect x="114.64" y="876.6" width="22.32" height="6.2" fill="#d6d8fa"/>
<rect x="136.91" y="876.6" width="24.98" height="6.2" fill="#c6c2f6"/>
<rect x="161.84" y="876.6" width="15.84" height="6.2" fill="#7a7af4"/>
<rect x="177.63" y="876.6" width="22.32" height="6.2" fill="#6650e4"/>
<rect x="199.9" y="876.6" width="9.19" height="6.2" fill="#2200cc"/>
<rect x="209.04" y="876.6" width="3.71" height="6.2" fill="#5a0aa0"/>
<path d="M46.5 903.2V887.6L47.5 890.5L50.5 893.6L63.1 895.8L88.0 898L114.4 900.4V903.2Z" fill="#c0c0c0" stroke="none" stroke-width="1"/>
<path d="M114.4 903.2V904.8L137.9 906.3L162.8 908.2L182.8 910.6L199.4 913.8L207.7 917.2L211.0 920.5L212.4 923L212.7 931V903.2Z" fill="#c0c0c0" stroke="none" stroke-width="1"/>
<line x1="114.39" y1="882.8" x2="114.39" y2="932.5" stroke="#aaa" stroke-width="0.5" stroke-dasharray="1 1"/>
<line x1="46.5" y1="892.8" x2="221.2" y2="892.8" stroke="#e4e4e4" stroke-width="0.5" stroke-dasharray="1 1"/>
<text x="44.1" y="894.9" font-size="6" text-anchor="end" fill="#333">5</text>
<text x="44.1" y="905.3" font-size="6" text-anchor="end" fill="#333">0</text>
<line x1="46.5" y1="913.6" x2="221.2" y2="913.6" stroke="#e4e4e4" stroke-width="0.5" stroke-dasharray="1 1"/>
<text x="44.1" y="915.7" font-size="6" text-anchor="end" fill="#333">-5</text>
<line x1="46.5" y1="924" x2="221.2" y2="924" stroke="#e4e4e4" stroke-width="0.5" stroke-dasharray="1 1"/>
<text x="44.1" y="926.1" font-size="6" text-anchor="end" fill="#333">-10</text>
<text x="46.5" y="939.2" font-size="4.6" text-anchor="middle" fill="#333">0</text>
<text x="67.28" y="939.2" font-size="4.6" text-anchor="middle" fill="#333">500</text>
<text x="88.05" y="939.2" font-size="4.6" text-anchor="middle" fill="#333">1,000</text>
<text x="108.82" y="939.2" font-size="4.6" text-anchor="middle" fill="#333">1,500</text>
<text x="129.6" y="939.2" font-size="4.6" text-anchor="middle" fill="#333">2,000</text>
<text x="150.38" y="939.2" font-size="4.6" text-anchor="middle" fill="#333">2,500</text>
<text x="171.15" y="939.2" font-size="4.6" text-anchor="middle" fill="#333">3,000</text>
<text x="191.92" y="939.2" font-size="4.6" text-anchor="middle" fill="#333">3,500</text>
<text x="212.7" y="939.2" font-size="4.6" text-anchor="middle" fill="#333">4,000</text>
<text x="47.5" y="886.7" font-size="4.3" fill="#ff3030" textLength="59.17" lengthAdjust="spacingAndGlyphs">'na_pos' (positively correlated)</text>
<text x="133.75" y="931.1" font-size="4.3" fill="#3030ff" textLength="61.16" lengthAdjust="spacingAndGlyphs">'na_neg' (negatively correlated)</text>
<text x="96.36" y="909.2" font-size="4.1" fill="#333" textLength="34.9" lengthAdjust="spacingAndGlyphs">Zero cross at 1634</text>
<text x="104.67" y="945" font-size="5.6" font-weight="bold" fill="#333" textLength="59" lengthAdjust="spacingAndGlyphs">Rank in Ordered Dataset</text>
<text transform="translate(31.9,814.5) rotate(-90)" x="0" y="0" font-size="6.2" text-anchor="middle" font-weight="bold" fill="#333" textLength="63" lengthAdjust="spacingAndGlyphs">Enrichment score (ES)</text>
<text transform="translate(31.9,907.5) rotate(-90)" x="0" y="0" font-size="6" text-anchor="middle" font-weight="bold" fill="#333" textLength="72" lengthAdjust="spacingAndGlyphs">Ranked list metric (PreRanked)</text>
<rect x="51.32" y="949.4" width="143.93" height="9.4" fill="#fff" stroke="#555" stroke-width="0.6"/>
<line x1="52.92" y1="954.3" x2="59.32" y2="954.3" stroke="#1ee81e" stroke-width="1.3"/>
<text x="61.12" y="956.3" font-size="5.5" fill="#111" textLength="41.55" lengthAdjust="spacingAndGlyphs">Enrichment profile</text>
<line x1="105.83" y1="954.3" x2="110.32" y2="954.3" stroke="#333" stroke-width="0.6"/>
<text x="112.81" y="956.3" font-size="5.5" fill="#111" textLength="8.64" lengthAdjust="spacingAndGlyphs">Hits</text>
<line x1="134.42" y1="954.3" x2="139.41" y2="954.3" stroke="#ccc" stroke-width="0.6"/>
<text x="141.4" y="956.3" font-size="5.5" fill="#111" textLength="51.52" lengthAdjust="spacingAndGlyphs">Ranking metric scores</text>
<text x="260.9" y="771.9" font-weight="bold" textLength="165.5" lengthAdjust="spacingAndGlyphs"><tspan font-size="14.11">C</tspan><tspan font-size="10.72">ARDIAC</tspan><tspan font-size="14.11"> C</tspan><tspan font-size="10.72">ELL</tspan><tspan font-size="14.11"> D</tspan><tspan font-size="10.72">EVELOPMENT</tspan></text>
<rect x="265" y="777" width="174" height="155.5" fill="#fff" stroke="#cfcfcf" stroke-width="0.8"/>
<line x1="285.76" y1="777" x2="285.76" y2="851.7" stroke="#e4e4e4" stroke-width="0.6" stroke-dasharray="1 1"/>
<line x1="285.76" y1="882.8" x2="285.76" y2="932.5" stroke="#e4e4e4" stroke-width="0.6" stroke-dasharray="1 1"/>
<line x1="306.52" y1="777" x2="306.52" y2="851.7" stroke="#e4e4e4" stroke-width="0.6" stroke-dasharray="1 1"/>
<line x1="306.52" y1="882.8" x2="306.52" y2="932.5" stroke="#e4e4e4" stroke-width="0.6" stroke-dasharray="1 1"/>
<line x1="327.29" y1="777" x2="327.29" y2="851.7" stroke="#e4e4e4" stroke-width="0.6" stroke-dasharray="1 1"/>
<line x1="327.29" y1="882.8" x2="327.29" y2="932.5" stroke="#e4e4e4" stroke-width="0.6" stroke-dasharray="1 1"/>
<line x1="348.05" y1="777" x2="348.05" y2="851.7" stroke="#e4e4e4" stroke-width="0.6" stroke-dasharray="1 1"/>
<line x1="348.05" y1="882.8" x2="348.05" y2="932.5" stroke="#e4e4e4" stroke-width="0.6" stroke-dasharray="1 1"/>
<line x1="368.81" y1="777" x2="368.81" y2="851.7" stroke="#e4e4e4" stroke-width="0.6" stroke-dasharray="1 1"/>
<line x1="368.81" y1="882.8" x2="368.81" y2="932.5" stroke="#e4e4e4" stroke-width="0.6" stroke-dasharray="1 1"/>
<line x1="389.58" y1="777" x2="389.58" y2="851.7" stroke="#e4e4e4" stroke-width="0.6" stroke-dasharray="1 1"/>
<line x1="389.58" y1="882.8" x2="389.58" y2="932.5" stroke="#e4e4e4" stroke-width="0.6" stroke-dasharray="1 1"/>
<line x1="410.34" y1="777" x2="410.34" y2="851.7" stroke="#e4e4e4" stroke-width="0.6" stroke-dasharray="1 1"/>
<line x1="410.34" y1="882.8" x2="410.34" y2="932.5" stroke="#e4e4e4" stroke-width="0.6" stroke-dasharray="1 1"/>
<text x="262.8" y="783.2" font-size="5.8" text-anchor="end" fill="#333">0.0</text>
<line x1="265" y1="790.8" x2="439" y2="790.8" stroke="#e4e4e4" stroke-width="0.6" stroke-dasharray="1 1"/>
<text x="262.8" y="792.8" font-size="5.8" text-anchor="end" fill="#333">-0.1</text>
<line x1="265" y1="800.4" x2="439" y2="800.4" stroke="#e4e4e4" stroke-width="0.6" stroke-dasharray="1 1"/>
<text x="262.8" y="802.4" font-size="5.8" text-anchor="end" fill="#333">-0.2</text>
<line x1="265" y1="810" x2="439" y2="810" stroke="#e4e4e4" stroke-width="0.6" stroke-dasharray="1 1"/>
<text x="262.8" y="812" font-size="5.8" text-anchor="end" fill="#333">-0.3</text>
<line x1="265" y1="819.6" x2="439" y2="819.6" stroke="#e4e4e4" stroke-width="0.6" stroke-dasharray="1 1"/>
<text x="262.8" y="821.6" font-size="5.8" text-anchor="end" fill="#333">-0.4</text>
<line x1="265" y1="829.2" x2="439" y2="829.2" stroke="#e4e4e4" stroke-width="0.6" stroke-dasharray="1 1"/>
<text x="262.8" y="831.2" font-size="5.8" text-anchor="end" fill="#333">-0.5</text>
<line x1="265" y1="838.8" x2="439" y2="838.8" stroke="#e4e4e4" stroke-width="0.6" stroke-dasharray="1 1"/>
<text x="262.8" y="840.8" font-size="5.8" text-anchor="end" fill="#333">-0.6</text>
<line x1="265" y1="848.4" x2="439" y2="848.4" stroke="#e4e4e4" stroke-width="0.6" stroke-dasharray="1 1"/>
<text x="262.8" y="850.4" font-size="5.8" text-anchor="end" fill="#333">-0.7</text>
<line x1="265" y1="781.2" x2="439" y2="781.2" stroke="#bbb" stroke-width="0.7"/>
<line x1="265" y1="851.7" x2="439" y2="851.7" stroke="#cfcfcf" stroke-width="0.8"/>
<line x1="265" y1="876.6" x2="439" y2="876.6" stroke="#cfcfcf" stroke-width="0.6"/>
<line x1="265" y1="882.8" x2="439" y2="882.8" stroke="#cfcfcf" stroke-width="0.6"/>
<path d="M265.3 781.4 L266.7 781.6 L268.1 781.8 L269.5 782.3 L270.9 782.5 L272.3 783.1 L273.7 784.0 L275.0 784.7 L276.3 785.0 L277.6 785.6 L278.9 786.1 L280.2 786.6 L281.5 787.4 L282.8 788.5 L284.1 789.3 L285.4 789.5 L286.7 790.1 L288.0 790.4 L289.3 790.6 L290.6 790.8 L292.0 791.2 L293.3 791.1 L294.6 791.7 L295.9 791.5 L297.2 792.0 L298.4 792.8 L299.6 793.4 L300.8 793.6 L302.0 794.8 L303.2 795.1 L304.4 795.7 L305.6 795.8 L306.8 796.8 L308.0 797.2 L309.2 798.2 L310.4 798.6 L311.6 799.5 L312.8 799.9 L314.0 800.7 L315.3 800.9 L316.6 801.8 L317.9 802.6 L319.1 803.3 L320.4 803.5 L321.7 804.6 L323.0 805.3 L324.3 805.7 L325.6 806.6 L326.8 807.3 L328.1 807.5 L329.4 808.2 L330.7 808.5 L331.9 809.7 L333.1 810.4 L334.3 810.6 L335.5 811.4 L336.7 812.0 L337.9 812.6 L339.1 812.7 L340.3 813.9 L341.5 814.3 L342.7 814.9 L343.9 815.3 L345.1 816.1 L346.3 816.8 L347.5 817.3 L348.7 817.9 L349.9 817.8 L351.1 818.5 L352.3 819.2 L353.5 819.9 L354.7 820.1 L355.9 821.0 L357.1 821.5 L358.3 821.5 L359.5 822.4 L360.7 822.7 L361.9 823.1 L363.1 823.6 L364.3 824.3 L365.6 825.0 L366.8 825.7 L368.1 826.4 L369.4 827.5 L370.6 828.2 L371.9 829.2 L373.1 829.9 L374.4 830.4 L375.6 831.6 L376.8 831.5 L378.0 832.5 L379.2 833.1 L380.4 833.9 L381.6 834.3 L382.8 835.6 L384.0 835.9 L385.2 836.2 L386.4 837.4 L387.6 837.6 L388.8 838.7 L390.0 839.2 L391.2 840.1 L392.4 840.8 L393.6 841.0 L394.9 841.0 L396.1 841.7 L397.3 841.9 L398.5 842.1 L399.7 842.2 L400.9 843.0 L402.2 843.3 L403.4 844.0 L404.6 844.4 L406.0 844.7 L407.4 845.0 L408.8 846.1 L410.2 845.8 L411.6 846.5 L413.0 847.5 L414.5 846.3 L416.0 844.7 L418.0 840.8 L419.5 837.2 L421.0 832.9 L423.1 823.8 L424.8 815.3 L426.4 806.9 L427.6 795.8 L428.8 783.5 L430.3 780.9" fill="none" stroke="#22ee22" stroke-width="1.5" stroke-linejoin="round"/>
<path d="M268.3 852.1V876.3M274.7 852.1V876.3M286.6 852.1V876.3M290.7 852.1V876.3M293.0 852.1V876.3M297.8 852.1V876.3M299.4 852.1V876.3M307.4 852.1V876.3M316.4 852.1V876.3M322.9 852.1V876.3M326.7 852.1V876.3M333.1 852.1V876.3M359.5 852.1V876.3M374.2 852.1V876.3M393.5 852.1V876.3M400.6 852.1V876.3M406.3 852.1V876.3M413.4 852.1V876.3M415.0 852.1V876.3M416.0 852.1V876.3M417.3 852.1V876.3M418.2 852.1V876.3M419.8 852.1V876.3M420.8 852.1V876.3M421.4 852.1V876.3M423.0 852.1V876.3M424.0 852.1V876.3M424.6 852.1V876.3M425.6 852.1V876.3M426.9 852.1V876.3M427.9 852.1V876.3M428.8 852.1V876.3M429.5 852.1V876.3" fill="none" stroke="#3a3a3a" stroke-width="0.75"/>
<rect x="265" y="876.6" width="24.97" height="6.2" fill="#ff3c48"/>
<rect x="289.92" y="876.6" width="12.09" height="6.2" fill="#ff6e80"/>
<rect x="301.96" y="876.6" width="15.75" height="6.2" fill="#ff8c8c"/>
<rect x="317.65" y="876.6" width="15.5" height="6.2" fill="#ffc0e4"/>
<rect x="333.1" y="876.6" width="22.31" height="6.2" fill="#d6d8fa"/>
<rect x="355.36" y="876.6" width="24.97" height="6.2" fill="#c6c2f6"/>
<rect x="380.27" y="876.6" width="15.83" height="6.2" fill="#7a7af4"/>
<rect x="396.05" y="876.6" width="22.31" height="6.2" fill="#6650e4"/>
<rect x="418.31" y="876.6" width="9.19" height="6.2" fill="#2200cc"/>
<rect x="427.45" y="876.6" width="3.7" height="6.2" fill="#5a0aa0"/>
<path d="M265.0 903.2V887.6L266.0 890.5L269.0 893.6L281.6 895.8L306.5 898L333.1 900.4V903.2Z" fill="#c0c0c0" stroke="none" stroke-width="1"/>
<path d="M333.1 903.2V904.8L356.4 906.3L381.3 908.2L401.2 910.6L417.8 913.8L426.1 917.2L429.4 920.5L430.8 923L431.1 931V903.2Z" fill="#c0c0c0" stroke="none" stroke-width="1"/>
<line x1="333.1" y1="882.8" x2="333.1" y2="932.5" stroke="#aaa" stroke-width="0.5" stroke-dasharray="1 1"/>
<line x1="265" y1="892.8" x2="439" y2="892.8" stroke="#e4e4e4" stroke-width="0.5" stroke-dasharray="1 1"/>
<text x="262.6" y="894.9" font-size="6" text-anchor="end" fill="#333">5</text>
<text x="262.6" y="905.3" font-size="6" text-anchor="end" fill="#333">0</text>
<line x1="265" y1="913.6" x2="439" y2="913.6" stroke="#e4e4e4" stroke-width="0.5" stroke-dasharray="1 1"/>
<text x="262.6" y="915.7" font-size="6" text-anchor="end" fill="#333">-5</text>
<line x1="265" y1="924" x2="439" y2="924" stroke="#e4e4e4" stroke-width="0.5" stroke-dasharray="1 1"/>
<text x="262.6" y="926.1" font-size="6" text-anchor="end" fill="#333">-10</text>
<text x="265" y="939.2" font-size="4.6" text-anchor="middle" fill="#333">0</text>
<text x="285.76" y="939.2" font-size="4.6" text-anchor="middle" fill="#333">500</text>
<text x="306.52" y="939.2" font-size="4.6" text-anchor="middle" fill="#333">1,000</text>
<text x="327.29" y="939.2" font-size="4.6" text-anchor="middle" fill="#333">1,500</text>
<text x="348.05" y="939.2" font-size="4.6" text-anchor="middle" fill="#333">2,000</text>
<text x="368.81" y="939.2" font-size="4.6" text-anchor="middle" fill="#333">2,500</text>
<text x="389.58" y="939.2" font-size="4.6" text-anchor="middle" fill="#333">3,000</text>
<text x="410.34" y="939.2" font-size="4.6" text-anchor="middle" fill="#333">3,500</text>
<text x="431.1" y="939.2" font-size="4.6" text-anchor="middle" fill="#333">4,000</text>
<text x="266" y="886.7" font-size="4.3" fill="#ff3030" textLength="59.13" lengthAdjust="spacingAndGlyphs">'na_pos' (positively correlated)</text>
<text x="352.2" y="931.1" font-size="4.3" fill="#3030ff" textLength="61.12" lengthAdjust="spacingAndGlyphs">'na_neg' (negatively correlated)</text>
<text x="314.83" y="909.2" font-size="4.1" fill="#333" textLength="34.88" lengthAdjust="spacingAndGlyphs">Zero cross at 1634</text>
<text x="323.13" y="945" font-size="5.6" font-weight="bold" fill="#333" textLength="58.97" lengthAdjust="spacingAndGlyphs">Rank in Ordered Dataset</text>
<text transform="translate(250.4,814.5) rotate(-90)" x="0" y="0" font-size="6.2" text-anchor="middle" font-weight="bold" fill="#333" textLength="63" lengthAdjust="spacingAndGlyphs">Enrichment score (ES)</text>
<text transform="translate(250.4,907.5) rotate(-90)" x="0" y="0" font-size="6" text-anchor="middle" font-weight="bold" fill="#333" textLength="72" lengthAdjust="spacingAndGlyphs">Ranked list metric (PreRanked)</text>
<rect x="269.82" y="949.4" width="143.84" height="9.4" fill="#fff" stroke="#555" stroke-width="0.6"/>
<line x1="271.42" y1="954.3" x2="277.82" y2="954.3" stroke="#1ee81e" stroke-width="1.3"/>
<text x="279.62" y="956.3" font-size="5.5" fill="#111" textLength="41.53" lengthAdjust="spacingAndGlyphs">Enrichment profile</text>
<line x1="324.3" y1="954.3" x2="328.78" y2="954.3" stroke="#333" stroke-width="0.6"/>
<text x="331.27" y="956.3" font-size="5.5" fill="#111" textLength="8.64" lengthAdjust="spacingAndGlyphs">Hits</text>
<line x1="352.87" y1="954.3" x2="357.85" y2="954.3" stroke="#ccc" stroke-width="0.6"/>
<text x="359.84" y="956.3" font-size="5.5" fill="#111" textLength="51.49" lengthAdjust="spacingAndGlyphs">Ranking metric scores</text>
<text x="489.3" y="771.9" font-weight="bold" textLength="153.1" lengthAdjust="spacingAndGlyphs"><tspan font-size="14.11">S</tspan><tspan font-size="10.72">ARCOMERE</tspan><tspan font-size="14.11"> O</tspan><tspan font-size="10.72">RGANIZATION</tspan></text>
<rect x="492.6" y="777" width="167.3" height="155.5" fill="#fff" stroke="#cfcfcf" stroke-width="0.8"/>
<line x1="512.45" y1="777" x2="512.45" y2="851.7" stroke="#e4e4e4" stroke-width="0.6" stroke-dasharray="1 1"/>
<line x1="512.45" y1="882.8" x2="512.45" y2="932.5" stroke="#e4e4e4" stroke-width="0.6" stroke-dasharray="1 1"/>
<line x1="532.3" y1="777" x2="532.3" y2="851.7" stroke="#e4e4e4" stroke-width="0.6" stroke-dasharray="1 1"/>
<line x1="532.3" y1="882.8" x2="532.3" y2="932.5" stroke="#e4e4e4" stroke-width="0.6" stroke-dasharray="1 1"/>
<line x1="552.15" y1="777" x2="552.15" y2="851.7" stroke="#e4e4e4" stroke-width="0.6" stroke-dasharray="1 1"/>
<line x1="552.15" y1="882.8" x2="552.15" y2="932.5" stroke="#e4e4e4" stroke-width="0.6" stroke-dasharray="1 1"/>
<line x1="572" y1="777" x2="572" y2="851.7" stroke="#e4e4e4" stroke-width="0.6" stroke-dasharray="1 1"/>
<line x1="572" y1="882.8" x2="572" y2="932.5" stroke="#e4e4e4" stroke-width="0.6" stroke-dasharray="1 1"/>
<line x1="591.85" y1="777" x2="591.85" y2="851.7" stroke="#e4e4e4" stroke-width="0.6" stroke-dasharray="1 1"/>
<line x1="591.85" y1="882.8" x2="591.85" y2="932.5" stroke="#e4e4e4" stroke-width="0.6" stroke-dasharray="1 1"/>
<line x1="611.7" y1="777" x2="611.7" y2="851.7" stroke="#e4e4e4" stroke-width="0.6" stroke-dasharray="1 1"/>
<line x1="611.7" y1="882.8" x2="611.7" y2="932.5" stroke="#e4e4e4" stroke-width="0.6" stroke-dasharray="1 1"/>
<line x1="631.55" y1="777" x2="631.55" y2="851.7" stroke="#e4e4e4" stroke-width="0.6" stroke-dasharray="1 1"/>
<line x1="631.55" y1="882.8" x2="631.55" y2="932.5" stroke="#e4e4e4" stroke-width="0.6" stroke-dasharray="1 1"/>
<text x="490.4" y="782" font-size="5.8" text-anchor="end" fill="#333">0.0</text>
<line x1="492.6" y1="788.64" x2="659.9" y2="788.64" stroke="#e4e4e4" stroke-width="0.6" stroke-dasharray="1 1"/>
<text x="490.4" y="790.64" font-size="5.8" text-anchor="end" fill="#333">-0.1</text>
<line x1="492.6" y1="797.28" x2="659.9" y2="797.28" stroke="#e4e4e4" stroke-width="0.6" stroke-dasharray="1 1"/>
<text x="490.4" y="799.28" font-size="5.8" text-anchor="end" fill="#333">-0.2</text>
<line x1="492.6" y1="805.92" x2="659.9" y2="805.92" stroke="#e4e4e4" stroke-width="0.6" stroke-dasharray="1 1"/>
<text x="490.4" y="807.92" font-size="5.8" text-anchor="end" fill="#333">-0.3</text>
<line x1="492.6" y1="814.56" x2="659.9" y2="814.56" stroke="#e4e4e4" stroke-width="0.6" stroke-dasharray="1 1"/>
<text x="490.4" y="816.56" font-size="5.8" text-anchor="end" fill="#333">-0.4</text>
<line x1="492.6" y1="823.2" x2="659.9" y2="823.2" stroke="#e4e4e4" stroke-width="0.6" stroke-dasharray="1 1"/>
<text x="490.4" y="825.2" font-size="5.8" text-anchor="end" fill="#333">-0.5</text>
<line x1="492.6" y1="831.84" x2="659.9" y2="831.84" stroke="#e4e4e4" stroke-width="0.6" stroke-dasharray="1 1"/>
<text x="490.4" y="833.84" font-size="5.8" text-anchor="end" fill="#333">-0.6</text>
<line x1="492.6" y1="840.48" x2="659.9" y2="840.48" stroke="#e4e4e4" stroke-width="0.6" stroke-dasharray="1 1"/>
<text x="490.4" y="842.48" font-size="5.8" text-anchor="end" fill="#333">-0.7</text>
<line x1="492.6" y1="849.12" x2="659.9" y2="849.12" stroke="#e4e4e4" stroke-width="0.6" stroke-dasharray="1 1"/>
<text x="490.4" y="851.12" font-size="5.8" text-anchor="end" fill="#333">-0.8</text>
<line x1="492.6" y1="780" x2="659.9" y2="780" stroke="#bbb" stroke-width="0.7"/>
<line x1="492.6" y1="851.7" x2="659.9" y2="851.7" stroke="#cfcfcf" stroke-width="0.8"/>
<line x1="492.6" y1="876.6" x2="659.9" y2="876.6" stroke="#cfcfcf" stroke-width="0.6"/>
<line x1="492.6" y1="882.8" x2="659.9" y2="882.8" stroke="#cfcfcf" stroke-width="0.6"/>
<path d="M492.8 780.4 L494.0 781.0 L495.2 781.3 L496.4 781.6 L497.6 782.9 L498.8 783.1 L500.0 783.7 L501.3 784.2 L502.5 785.4 L503.7 785.6 L504.9 786.0 L506.1 786.8 L507.3 787.1 L508.5 788.2 L509.7 788.7 L510.9 789.1 L512.1 790.2 L513.3 790.9 L514.5 790.8 L515.8 791.8 L517.0 792.2 L518.2 793.4 L519.4 793.9 L520.6 794.1 L521.8 794.7 L523.0 795.2 L524.2 796.6 L525.4 796.6 L526.6 797.5 L527.8 798.0 L529.0 798.8 L530.3 799.4 L531.5 800.1 L532.7 800.2 L533.9 801.4 L535.1 801.6 L536.3 802.4 L537.5 802.9 L538.7 803.5 L540.0 804.3 L541.2 804.9 L542.4 805.5 L543.6 806.5 L544.9 807.0 L546.1 807.2 L547.3 808.0 L548.5 808.9 L549.8 809.9 L551.0 810.6 L552.2 810.9 L553.4 811.1 L554.6 812.4 L555.9 812.8 L557.1 813.6 L558.3 814.3 L559.6 814.9 L560.8 815.5 L562.0 816.5 L563.2 816.7 L564.5 817.3 L565.7 818.4 L566.9 818.5 L568.1 819.2 L569.4 820.4 L570.6 820.3 L571.8 821.7 L573.0 822.2 L574.2 822.6 L575.5 823.2 L576.7 824.3 L577.9 825.0 L579.1 824.9 L580.3 825.9 L581.5 826.6 L582.8 827.1 L584.0 827.6 L585.2 828.1 L586.4 829.1 L587.6 829.9 L588.8 829.9 L590.0 830.7 L591.2 831.8 L592.4 832.4 L593.7 832.9 L594.9 833.0 L596.1 834.3 L597.3 835.1 L598.5 835.8 L599.7 836.1 L600.9 836.2 L602.1 837.5 L603.3 837.6 L604.5 838.6 L605.8 839.5 L607.0 839.9 L608.2 840.0 L609.4 840.8 L610.6 842.0 L612.2 840.3 L613.8 839.8 L615.0 840.1 L616.3 840.4 L617.5 841.3 L618.8 840.1 L620.0 839.4 L621.6 839.9 L623.2 839.9 L624.5 840.6 L625.8 841.8 L627.1 842.7 L628.4 843.6 L629.6 843.6 L630.9 844.6 L632.2 845.3 L633.5 846.3 L634.8 846.9 L636.3 846.2 L637.9 844.6 L639.5 842.3 L641.0 840.8 L643.3 827.7 L644.5 826.6 L645.8 825.0 L647.3 800.2 L648.9 788.8 L650.1 784.3 L651.4 779.6" fill="none" stroke="#22ee22" stroke-width="1.5" stroke-linejoin="round"/>
<path d="M537.5 852.1V876.3M576.7 852.1V876.3M610.6 852.1V876.3M614.4 852.1V876.3M618.1 852.1V876.3M623.8 852.1V876.3M635.7 852.1V876.3M637.9 852.1V876.3M639.5 852.1V876.3M642.0 852.1V876.3M644.2 852.1V876.3M646.4 852.1V876.3M647.3 852.1V876.3M648.3 852.1V876.3M649.5 852.1V876.3M650.5 852.1V876.3" fill="none" stroke="#3a3a3a" stroke-width="0.75"/>
<rect x="492.6" y="876.6" width="23.87" height="6.2" fill="#ff3c48"/>
<rect x="516.42" y="876.6" width="11.56" height="6.2" fill="#ff6e80"/>
<rect x="527.93" y="876.6" width="15.06" height="6.2" fill="#ff8c8c"/>
<rect x="542.94" y="876.6" width="14.82" height="6.2" fill="#ffc0e4"/>
<rect x="557.71" y="876.6" width="21.33" height="6.2" fill="#d6d8fa"/>
<rect x="578.99" y="876.6" width="23.87" height="6.2" fill="#c6c2f6"/>
<rect x="602.81" y="876.6" width="15.14" height="6.2" fill="#7a7af4"/>
<rect x="617.89" y="876.6" width="21.33" height="6.2" fill="#6650e4"/>
<rect x="639.17" y="876.6" width="8.78" height="6.2" fill="#2200cc"/>
<rect x="647.91" y="876.6" width="3.54" height="6.2" fill="#5a0aa0"/>
<path d="M492.6 903.2V887.6L493.6 890.5L496.6 893.6L508.5 895.8L532.3 898L557.2 900.4V903.2Z" fill="#c0c0c0" stroke="none" stroke-width="1"/>
<path d="M557.2 903.2V904.8L579.9 906.3L603.8 908.2L622.8 910.6L638.7 913.8L646.6 917.2L649.8 920.5L651.1 923L651.4 931V903.2Z" fill="#c0c0c0" stroke="none" stroke-width="1"/>
<line x1="557.23" y1="882.8" x2="557.23" y2="932.5" stroke="#aaa" stroke-width="0.5" stroke-dasharray="1 1"/>
<line x1="492.6" y1="892.8" x2="659.9" y2="892.8" stroke="#e4e4e4" stroke-width="0.5" stroke-dasharray="1 1"/>
<text x="490.2" y="894.9" font-size="6" text-anchor="end" fill="#333">5</text>
<text x="490.2" y="905.3" font-size="6" text-anchor="end" fill="#333">0</text>
<line x1="492.6" y1="913.6" x2="659.9" y2="913.6" stroke="#e4e4e4" stroke-width="0.5" stroke-dasharray="1 1"/>
<text x="490.2" y="915.7" font-size="6" text-anchor="end" fill="#333">-5</text>
<line x1="492.6" y1="924" x2="659.9" y2="924" stroke="#e4e4e4" stroke-width="0.5" stroke-dasharray="1 1"/>
<text x="490.2" y="926.1" font-size="6" text-anchor="end" fill="#333">-10</text>
<text x="492.6" y="939.2" font-size="4.6" text-anchor="middle" fill="#333">0</text>
<text x="512.45" y="939.2" font-size="4.6" text-anchor="middle" fill="#333">500</text>
<text x="532.3" y="939.2" font-size="4.6" text-anchor="middle" fill="#333">1,000</text>
<text x="552.15" y="939.2" font-size="4.6" text-anchor="middle" fill="#333">1,500</text>
<text x="572" y="939.2" font-size="4.6" text-anchor="middle" fill="#333">2,000</text>
<text x="591.85" y="939.2" font-size="4.6" text-anchor="middle" fill="#333">2,500</text>
<text x="611.7" y="939.2" font-size="4.6" text-anchor="middle" fill="#333">3,000</text>
<text x="631.55" y="939.2" font-size="4.6" text-anchor="middle" fill="#333">3,500</text>
<text x="651.4" y="939.2" font-size="4.6" text-anchor="middle" fill="#333">4,000</text>
<text x="493.6" y="886.7" font-size="4.3" fill="#ff3030" textLength="56.53" lengthAdjust="spacingAndGlyphs">'na_pos' (positively correlated)</text>
<text x="575.97" y="931.1" font-size="4.3" fill="#3030ff" textLength="58.44" lengthAdjust="spacingAndGlyphs">'na_neg' (negatively correlated)</text>
<text x="540.24" y="909.2" font-size="4.1" fill="#333" textLength="33.35" lengthAdjust="spacingAndGlyphs">Zero cross at 1634</text>
<text x="548.18" y="945" font-size="5.6" font-weight="bold" fill="#333" textLength="56.37" lengthAdjust="spacingAndGlyphs">Rank in Ordered Dataset</text>
<text transform="translate(478,814.5) rotate(-90)" x="0" y="0" font-size="6.2" text-anchor="middle" font-weight="bold" fill="#333" textLength="63" lengthAdjust="spacingAndGlyphs">Enrichment score (ES)</text>
<text transform="translate(478,907.5) rotate(-90)" x="0" y="0" font-size="6" text-anchor="middle" font-weight="bold" fill="#333" textLength="72" lengthAdjust="spacingAndGlyphs">Ranked list metric (PreRanked)</text>
<rect x="497.21" y="949.4" width="137.52" height="9.4" fill="#fff" stroke="#555" stroke-width="0.6"/>
<line x1="498.81" y1="954.3" x2="505.21" y2="954.3" stroke="#1ee81e" stroke-width="1.3"/>
<text x="507.01" y="956.3" font-size="5.5" fill="#111" textLength="39.7" lengthAdjust="spacingAndGlyphs">Enrichment profile</text>
<line x1="549.29" y1="954.3" x2="553.58" y2="954.3" stroke="#333" stroke-width="0.6"/>
<text x="555.96" y="956.3" font-size="5.5" fill="#111" textLength="8.26" lengthAdjust="spacingAndGlyphs">Hits</text>
<line x1="576.61" y1="954.3" x2="581.37" y2="954.3" stroke="#ccc" stroke-width="0.6"/>
<text x="583.27" y="956.3" font-size="5.5" fill="#111" textLength="49.23" lengthAdjust="spacingAndGlyphs">Ranking metric scores</text>
</svg></body></html>
